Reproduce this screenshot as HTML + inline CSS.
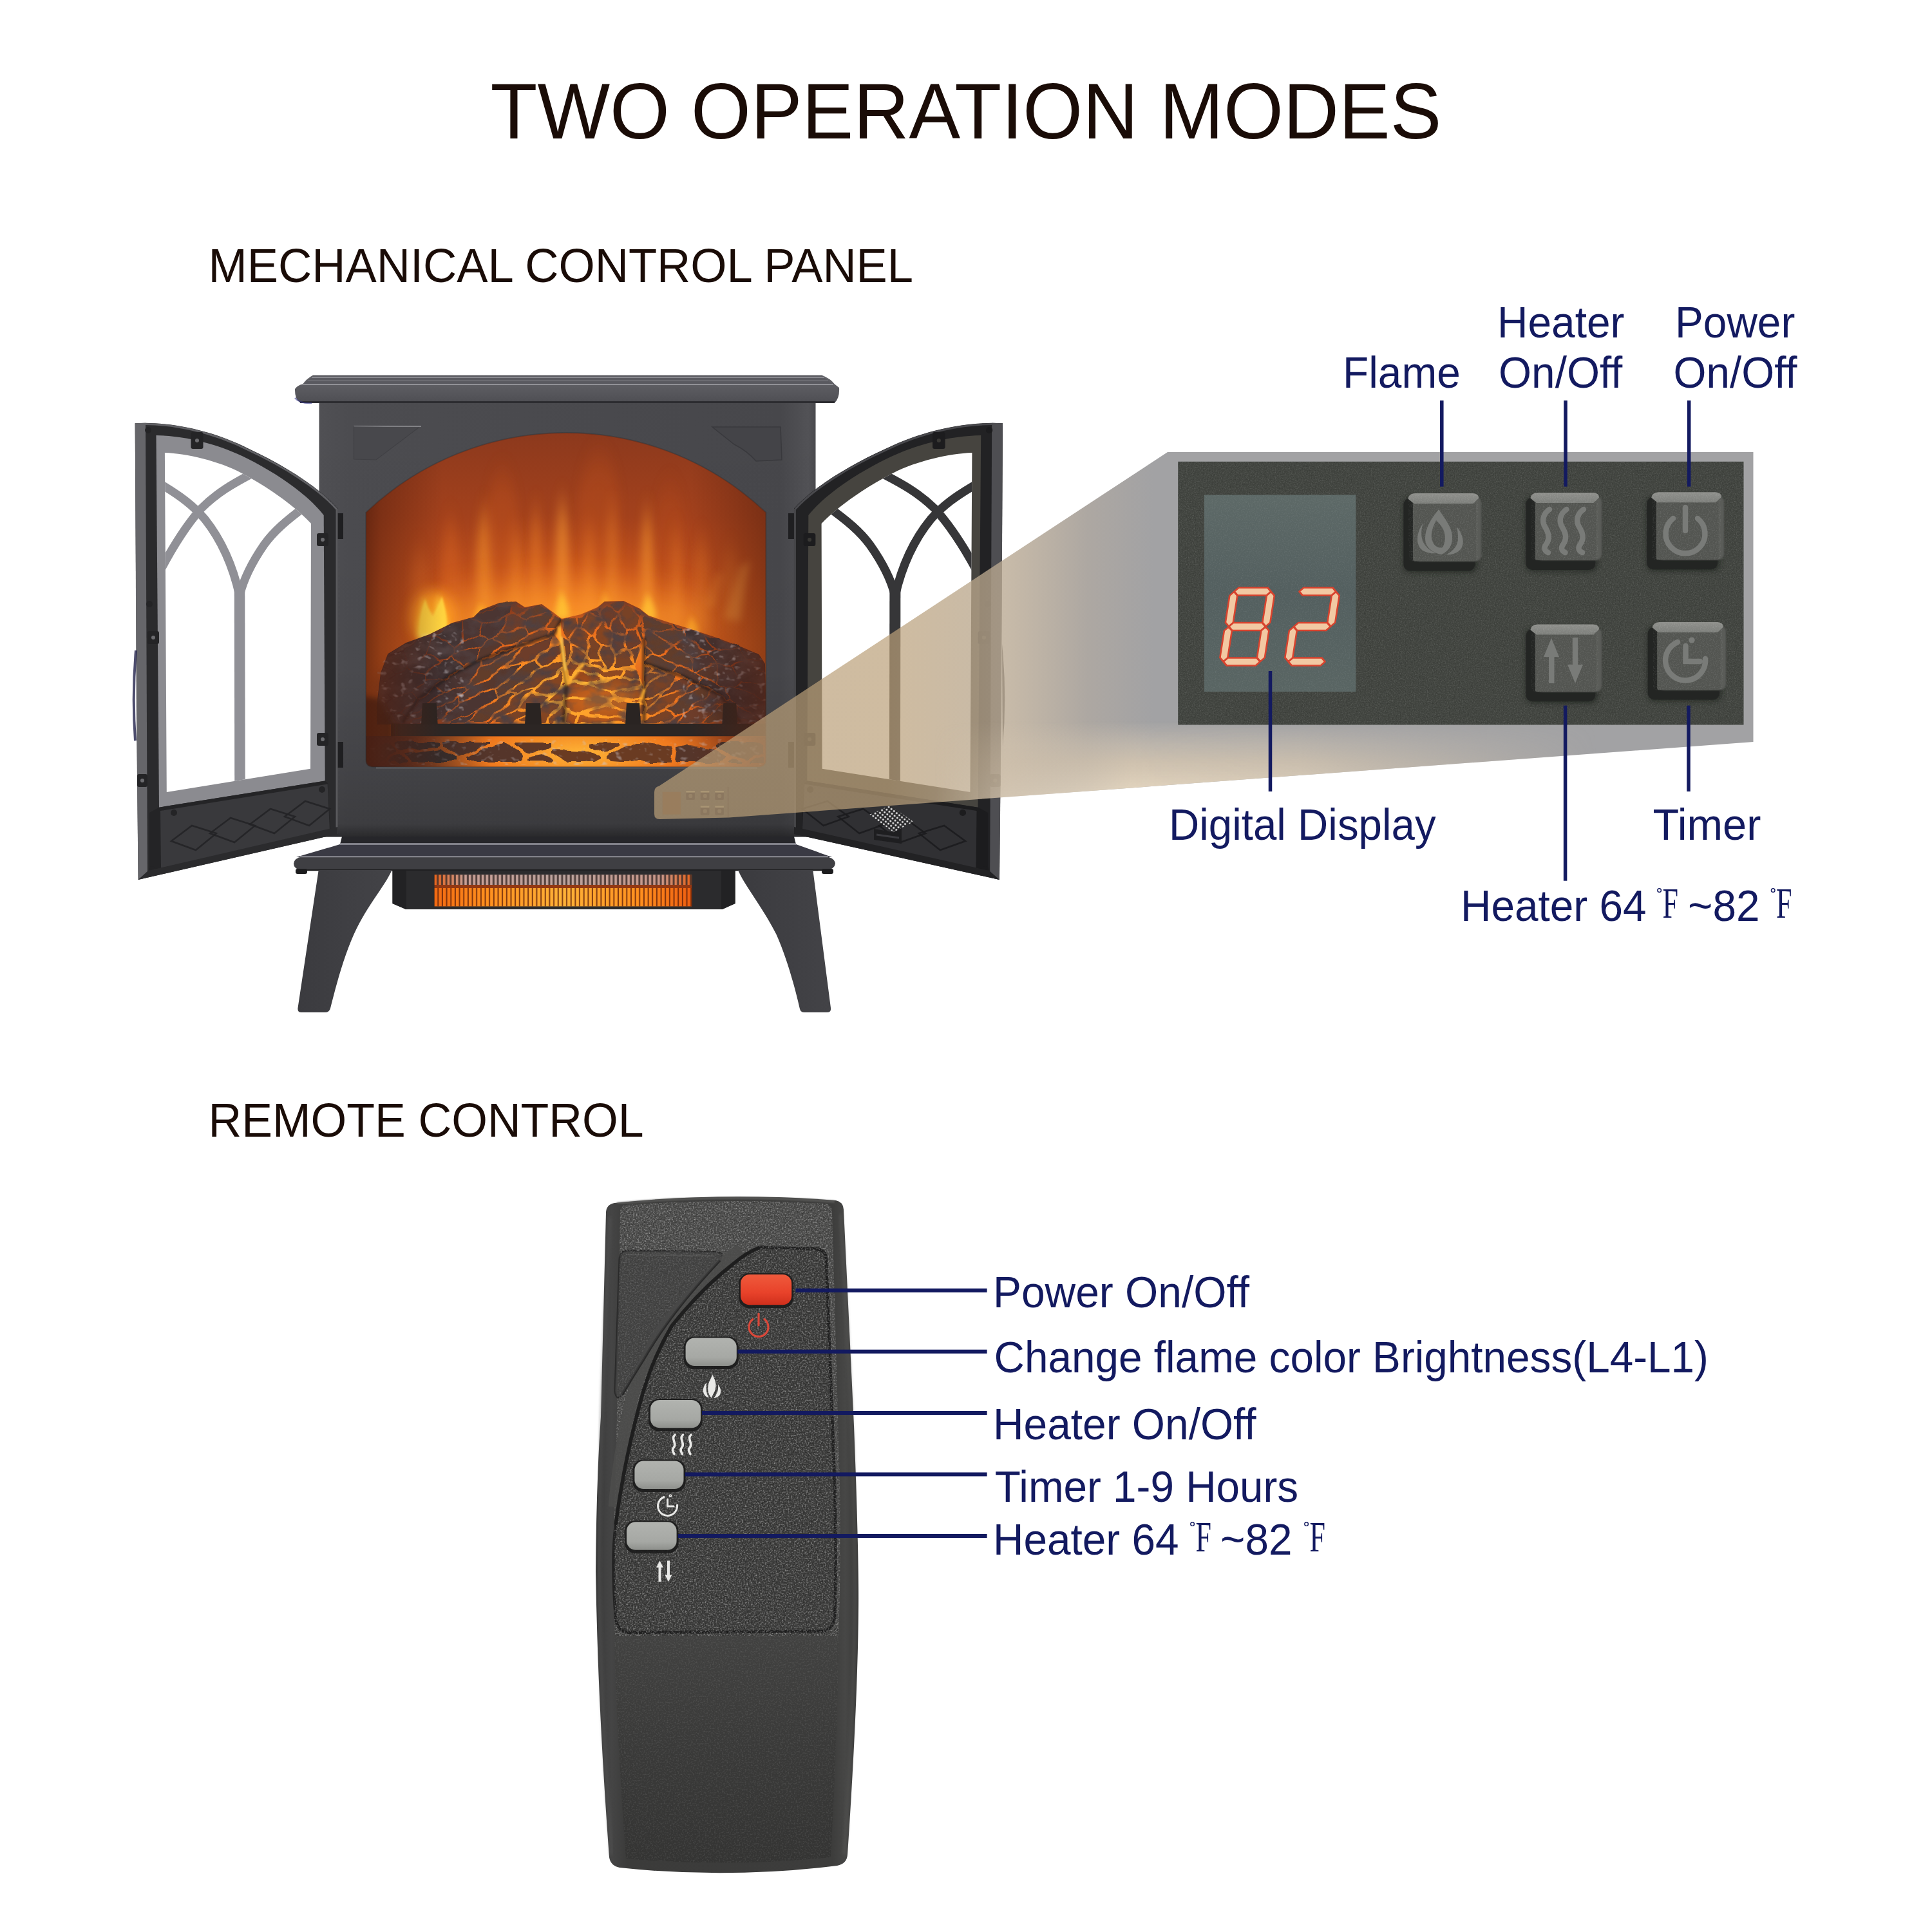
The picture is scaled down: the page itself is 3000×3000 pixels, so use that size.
<!DOCTYPE html>
<html><head><meta charset="utf-8"><title>Two Operation Modes</title>
<style>
html,body{margin:0;padding:0;background:#fff;overflow:hidden;width:3000px;height:3000px;}
svg{display:block;}
text{font-family:"Liberation Sans",sans-serif;}
.nv{fill:#131a60;}
.bk{fill:#1a0c07;}
.sf{font-family:"Liberation Serif",serif;}
</style></head><body>
<svg width="3000" height="3000" viewBox="0 0 3000 3000">
<defs>

<clipPath id="cWin"><path d="M568.3,795.8 A451,451 0 0 1 1189.3,795.8 L1189.3,1180 Q1189.3,1190.7 1178,1190.7 L580,1190.7 Q568.3,1190.7 568.3,1180 Z"/></clipPath>
<radialGradient id="gFire" gradientUnits="userSpaceOnUse" cx="880" cy="1000" r="330" gradientTransform="translate(880,1000) scale(1,0.62) translate(-880,-1000)">
  <stop offset="0" stop-color="#fb9226"/><stop offset="0.3" stop-color="#ee7620" stop-opacity="0.95"/><stop offset="0.6" stop-color="#d25c1c" stop-opacity="0.7"/>
  <stop offset="1" stop-color="#b0481b" stop-opacity="0"/>
</radialGradient>
<linearGradient id="gFireV" gradientUnits="userSpaceOnUse" x1="0" y1="670" x2="0" y2="1000">
  <stop offset="0" stop-color="#8c391d"/><stop offset="0.4" stop-color="#a3411c"/><stop offset="0.7" stop-color="#bd4e1c"/><stop offset="1" stop-color="#d8621d"/>
</linearGradient>
<linearGradient id="gFireTop" x1="0" y1="0" x2="0" y2="1">
  <stop offset="0" stop-color="#8a391d" stop-opacity="0.9"/><stop offset="0.35" stop-color="#8a391d" stop-opacity="0"/>
</linearGradient>
<linearGradient id="gSideL" x1="0" y1="0" x2="1" y2="0">
  <stop offset="0" stop-color="#4e1c0c" stop-opacity="0.8"/><stop offset="0.05" stop-color="#5e2310" stop-opacity="0.55"/><stop offset="0.2" stop-color="#5e2310" stop-opacity="0"/>
  <stop offset="0.8" stop-color="#5e2310" stop-opacity="0"/><stop offset="1" stop-color="#5a2210" stop-opacity="0.6"/>
</linearGradient>
<linearGradient id="gBody" x1="0" y1="0" x2="1" y2="0">
  <stop offset="0" stop-color="#505054"/><stop offset="0.06" stop-color="#4c4c50"/><stop offset="0.93" stop-color="#47474b"/><stop offset="0.985" stop-color="#525256"/><stop offset="1" stop-color="#48484c"/>
</linearGradient>
<linearGradient id="gBodyV" x1="0" y1="0" x2="0" y2="1">
  <stop offset="0" stop-color="#000" stop-opacity="0"/><stop offset="0.62" stop-color="#000" stop-opacity="0.03"/>
  <stop offset="0.84" stop-color="#000" stop-opacity="0.12"/><stop offset="0.97" stop-color="#000" stop-opacity="0.2"/><stop offset="1" stop-color="#000" stop-opacity="0.45"/>
</linearGradient>
<linearGradient id="gLid" x1="0" y1="0" x2="0" y2="1">
  <stop offset="0" stop-color="#66666b"/><stop offset="0.5" stop-color="#5a5a5f"/><stop offset="1" stop-color="#4e4e53"/>
</linearGradient>
<linearGradient id="gHeat" x1="0" y1="0" x2="1" y2="0">
  <stop offset="0" stop-color="#f26a12"/><stop offset="0.2" stop-color="#ff8f1e"/><stop offset="0.5" stop-color="#ffb238"/><stop offset="0.8" stop-color="#ff8f1e"/><stop offset="1" stop-color="#ee5e10"/>
</linearGradient>
<linearGradient id="gHeat1" x1="0" y1="0" x2="1" y2="0">
  <stop offset="0" stop-color="#e8641c"/><stop offset="0.12" stop-color="#c9a096"/><stop offset="0.5" stop-color="#bca49e"/><stop offset="0.88" stop-color="#c9988a"/><stop offset="1" stop-color="#e8641c"/>
</linearGradient>
<pattern id="pFin" patternUnits="userSpaceOnUse" x="674.6" y="0" width="6.66" height="10"><rect x="4.6" y="0" width="2.06" height="10" fill="#5a1c08" opacity="0.75"/></pattern>
<pattern id="pFin1" patternUnits="userSpaceOnUse" x="674.6" y="0" width="6.66" height="10"><rect x="3.6" y="0" width="3.06" height="10" fill="#3a2a28" opacity="0.8"/></pattern>
<linearGradient id="gLeg" x1="0" y1="0" x2="1" y2="0"><stop offset="0" stop-color="#3b3b3f"/><stop offset="1" stop-color="#434347"/></linearGradient>
<filter id="bl6" x="-50%" y="-50%" width="200%" height="200%"><feGaussianBlur stdDeviation="6"/></filter>
<filter id="bl10" x="-50%" y="-50%" width="200%" height="200%"><feGaussianBlur stdDeviation="10"/></filter>
<filter id="bl16" x="-50%" y="-80%" width="200%" height="260%"><feGaussianBlur stdDeviation="16 26"/></filter>
<filter id="blv" x="-150%" y="-50%" width="400%" height="200%"><feGaussianBlur stdDeviation="7 22"/></filter>
<filter id="bl4" x="-50%" y="-50%" width="200%" height="200%"><feGaussianBlur stdDeviation="4"/></filter>
<filter id="bl15"><feGaussianBlur stdDeviation="1.5"/></filter>
<filter id="rough" x="-5%" y="-5%" width="110%" height="110%">
<feTurbulence type="fractalNoise" baseFrequency="0.045" numOctaves="2" seed="4" result="t"/>
<feDisplacementMap in="SourceGraphic" in2="t" scale="11" xChannelSelector="R" yChannelSelector="G" result="d"/>
<feGaussianBlur in="d" stdDeviation="0.7"/></filter>
<filter id="blot" x="0" y="0" width="100%" height="100%">
<feTurbulence type="fractalNoise" baseFrequency="0.035 0.05" numOctaves="3" seed="8" result="n"/>
<feColorMatrix in="n" type="matrix" values="0 0 0 0 0.08  0 0 0 0 0.05  0 0 0 0 0.05  0 0 0 2.6 -1.05" result="w"/>
<feComposite in="w" in2="SourceGraphic" operator="in"/></filter>
<filter id="ashf" x="0" y="0" width="100%" height="100%">
<feTurbulence type="fractalNoise" baseFrequency="0.09 0.12" numOctaves="2" seed="21" result="n"/>
<feColorMatrix in="n" type="matrix" values="0 0 0 0 0.62  0 0 0 0 0.58  0 0 0 0 0.62  0 0 0 3.2 -1.9" result="w"/>
<feComposite in="w" in2="SourceGraphic" operator="in"/></filter><radialGradient id="gUnder" gradientUnits="userSpaceOnUse" cx="905" cy="1075" r="300" gradientTransform="translate(905,1075) scale(1,0.6) translate(-905,-1075)">
<stop offset="0" stop-color="#ffc23c"/><stop offset="0.3" stop-color="#ff9a26"/><stop offset="0.55" stop-color="#e86a1c"/><stop offset="0.8" stop-color="#8a3c1e"/><stop offset="1" stop-color="#3a2a2c"/></radialGradient>
<radialGradient id="gUnder2" gradientUnits="userSpaceOnUse" cx="900" cy="1170" r="330" gradientTransform="translate(900,1170) scale(1,0.3) translate(-900,-1170)">
<stop offset="0" stop-color="#ffb436"/><stop offset="0.45" stop-color="#f07a1e"/><stop offset="0.8" stop-color="#9a421c"/><stop offset="1" stop-color="#3a2826"/></radialGradient><linearGradient id="gEmL" gradientUnits="userSpaceOnUse" x1="568" y1="0" x2="760" y2="0"><stop offset="0" stop-color="#2a2022" stop-opacity="0.85"/><stop offset="0.55" stop-color="#2a2022" stop-opacity="0.45"/><stop offset="1" stop-color="#2a2022" stop-opacity="0"/></linearGradient><pattern id="pDot" patternUnits="userSpaceOnUse" width="5.2" height="5.2" patternTransform="rotate(38)"><rect width="5.2" height="5.2" fill="#2a2a2c"/><circle cx="2.6" cy="2.6" r="1.55" fill="#e8e8e8"/></pattern>
<filter id="spk" x="0" y="0" width="100%" height="100%" filterUnits="objectBoundingBox">
  <feTurbulence type="fractalNoise" baseFrequency="0.55" numOctaves="2" seed="3" result="n"/>
  <feColorMatrix in="n" type="matrix" values="0 0 0 0 1  0 0 0 0 1  0 0 0 0 1  1.6 0 0 0 -0.72" result="w"/>
  <feComposite in="w" in2="SourceGraphic" operator="in"/>
</filter>
<filter id="spkd" x="0" y="0" width="100%" height="100%" filterUnits="objectBoundingBox">
  <feTurbulence type="fractalNoise" baseFrequency="0.5" numOctaves="2" seed="11" result="n"/>
  <feColorMatrix in="n" type="matrix" values="0 0 0 0 0  0 0 0 0 0  0 0 0 0 0  0 1.6 0 0 -0.72" result="w"/>
  <feComposite in="w" in2="SourceGraphic" operator="in"/>
</filter>
<linearGradient id="beamH" gradientUnits="userSpaceOnUse" x1="1380" y1="0" x2="1790" y2="0">
  <stop offset="0" stop-color="#ba9f78" stop-opacity="0.70"/>
  <stop offset="0.45" stop-color="#b9a993" stop-opacity="0.8"/><stop offset="0.75" stop-color="#a9a39d" stop-opacity="0.95"/>
  <stop offset="1" stop-color="#a2a2a4" stop-opacity="1"/>
</linearGradient>
<linearGradient id="beamV" gradientUnits="userSpaceOnUse" x1="0" y1="1120" x2="0" y2="1235">
  <stop offset="0" stop-color="#e2d3bc" stop-opacity="0"/>
  <stop offset="0.55" stop-color="#dccbb2" stop-opacity="0.75"/>
  <stop offset="1" stop-color="#e6d8c2" stop-opacity="1"/>
</linearGradient>
<linearGradient id="beamVm" gradientUnits="userSpaceOnUse" x1="1450" y1="0" x2="2480" y2="0">
  <stop offset="0" stop-color="#fff" stop-opacity="0"/>
  <stop offset="0.3" stop-color="#fff" stop-opacity="1"/>
  <stop offset="0.55" stop-color="#fff" stop-opacity="0.9"/>
  <stop offset="1" stop-color="#fff" stop-opacity="0"/>
</linearGradient>
<mask id="mBV"><rect x="1000" y="600" width="1800" height="800" fill="url(#beamVm)"/></mask>
<linearGradient id="dispG" x1="0" y1="0" x2="0" y2="1">
  <stop offset="0" stop-color="#5d6967"/><stop offset="0.5" stop-color="#535f5f"/><stop offset="1" stop-color="#596563"/>
</linearGradient>
<linearGradient id="btnTop" x1="0" y1="0" x2="0" y2="1">
  <stop offset="0" stop-color="#8f908c"/><stop offset="1" stop-color="#7d7f7b"/>
</linearGradient>
<filter id="b2"><feGaussianBlur stdDeviation="2"/></filter>
<filter id="b3"><feGaussianBlur stdDeviation="3.5"/></filter>
<filter id="b1"><feGaussianBlur stdDeviation="1"/></filter>

<linearGradient id="rmBody" x1="0" y1="0" x2="1" y2="0">
  <stop offset="0" stop-color="#3a3a3a"/><stop offset="0.06" stop-color="#454545"/><stop offset="0.12" stop-color="#3b3b3a"/>
  <stop offset="0.5" stop-color="#3c3c3b"/><stop offset="0.9" stop-color="#3d3d3c"/><stop offset="0.95" stop-color="#474746"/><stop offset="1" stop-color="#3a3a39"/>
</linearGradient>
<linearGradient id="rmLow" x1="0" y1="0" x2="0" y2="1">
  <stop offset="0" stop-color="#424241"/><stop offset="0.5" stop-color="#3a3a39"/><stop offset="1" stop-color="#343433"/>
</linearGradient>
<linearGradient id="redB" x1="0" y1="0" x2="0" y2="1">
  <stop offset="0" stop-color="#ef5a3c"/><stop offset="0.6" stop-color="#e8422a"/><stop offset="1" stop-color="#cf2f1c"/>
</linearGradient>
<linearGradient id="gryB" x1="0" y1="0" x2="0" y2="1">
  <stop offset="0" stop-color="#b1b3af"/><stop offset="0.7" stop-color="#a6a8a4"/><stop offset="1" stop-color="#8e908c"/>
</linearGradient>
<filter id="spkR" x="0" y="0" width="100%" height="100%">
  <feTurbulence type="fractalNoise" baseFrequency="0.42" numOctaves="2" seed="5" result="n"/>
  <feColorMatrix in="n" type="matrix" values="0 0 0 0 1  0 0 0 0 1  0 0 0 0 1  2.4 0 0 0 -1.12" result="w"/>
  <feComposite in="w" in2="SourceGraphic" operator="in"/>
</filter>
<filter id="spkRd" x="0" y="0" width="100%" height="100%">
  <feTurbulence type="fractalNoise" baseFrequency="0.42" numOctaves="2" seed="9" result="n"/>
  <feColorMatrix in="n" type="matrix" values="0 0 0 0 0  0 0 0 0 0  0 0 0 0 0  0 2.4 0 0 -1.12" result="w"/>
  <feComposite in="w" in2="SourceGraphic" operator="in"/>
</filter>

</defs>
<rect width="3000" height="3000" fill="#ffffff"/>
<rect x="495.5" y="622" width="771" height="677.5" fill="url(#gBody)"/>
<rect x="495.5" y="622" width="771" height="677.5" fill="url(#gBodyV)"/>
<path d="M549.5,661.7 L654,662" stroke="#a8a8ac" stroke-width="1.6" opacity="0.8"/>
<path d="M549.5,662 L549.5,713 L584,714 L650,664" fill="#48484c" stroke="#3e3e42" stroke-width="1.2" opacity="0.8"/>
<path d="M1106,663 L1212,663 L1214,714 L1174,716 Q1160,700 1140,690 Z" fill="#444448" stroke="#38383c" stroke-width="1.5" opacity="0.9"/>
<path d="M486,582.5 L1276,582.5 Q1290,588 1296,596.5 L1303,602 Q1304,618 1296,625.5 L466,625 Q457.5,620 458,604 Q462,598 470,596.5 Q476,588 486,582.5 Z" fill="url(#gLid)"/>
<path d="M486,583.5 L1277,583.5 L1292,596 L472,596 Z" fill="#5a5a60"/>
<path d="M484,586 L1280,586" stroke="#8d8d94" stroke-width="1.8" opacity="0.9"/>
<path d="M478,591 L1286,591" stroke="#77777e" stroke-width="1.6" opacity="0.8"/>
<path d="M470,597 L1294,597" stroke="#9a9aa0" stroke-width="1.8" opacity="0.85"/>
<path d="M466,624.5 L1296,624.5" stroke="#2c2c30" stroke-width="3"/>
<path d="M458,618 Q466,627 484,626" stroke="#3a3a8a" stroke-width="2.2" fill="none" opacity="0.6"/>
<g clip-path="url(#cWin)">
<rect x="560" y="660" width="640" height="540" fill="url(#gFireV)"/>
<rect x="560" y="660" width="640" height="540" fill="url(#gFire)"/>
<ellipse cx="650" cy="930" rx="16" ry="70" fill="#e8742a" opacity="0.35" filter="url(#blv)"/>
<ellipse cx="700" cy="900" rx="14" ry="90" fill="#e06a24" opacity="0.35" filter="url(#blv)"/>
<ellipse cx="752" cy="890" rx="12" ry="95" fill="#f8962e" opacity="0.55" filter="url(#blv)"/>
<ellipse cx="800" cy="905" rx="10" ry="80" fill="#f48c2a" opacity="0.4" filter="url(#blv)"/>
<ellipse cx="832" cy="890" rx="9" ry="100" fill="#f08428" opacity="0.45" filter="url(#blv)"/>
<ellipse cx="873" cy="880" rx="10" ry="100" fill="#ffa234" opacity="0.55" filter="url(#blv)"/>
<ellipse cx="915" cy="900" rx="10" ry="80" fill="#f88e2a" opacity="0.4" filter="url(#blv)"/>
<ellipse cx="950" cy="885" rx="9" ry="95" fill="#f8962e" opacity="0.4" filter="url(#blv)"/>
<ellipse cx="1005" cy="890" rx="10" ry="95" fill="#ffa032" opacity="0.5" filter="url(#blv)"/>
<ellipse cx="1050" cy="905" rx="10" ry="80" fill="#f0842a" opacity="0.4" filter="url(#blv)"/>
<ellipse cx="1090" cy="915" rx="12" ry="75" fill="#e87a28" opacity="0.35" filter="url(#blv)"/>
<ellipse cx="1135" cy="920" rx="14" ry="60" fill="#e07a2c" opacity="0.35" filter="url(#blv)"/>
<ellipse cx="780" cy="820" rx="26" ry="80" fill="#c4541c" opacity="0.35" filter="url(#blv)"/>
<ellipse cx="930" cy="800" rx="34" ry="90" fill="#c4541c" opacity="0.3" filter="url(#blv)"/>
<ellipse cx="1040" cy="830" rx="24" ry="70" fill="#bc501c" opacity="0.3" filter="url(#blv)"/>
<path d="M1125,960 L1150,880 L1165,870 L1150,965 Z" fill="#f0963a" opacity="0.55" filter="url(#bl6)"/>
<path d="M1095,940 L1112,890 L1122,892 L1110,945 Z" fill="#e88830" opacity="0.4" filter="url(#bl6)"/>
<ellipse cx="880" cy="965" rx="230" ry="50" fill="#ffa22e" opacity="0.55" filter="url(#bl16)"/>
<ellipse cx="672" cy="960" rx="34" ry="42" fill="#ff9c20" opacity="0.95" filter="url(#bl10)"/>
<path d="M648.0,990 C646.0,960.3 656.4,950.4 657.6,924 C663.6,950.4 674.0,960.3 672.0,990 Z" fill="#ffd23a" opacity="0.95" filter="url(#bl4)"/>
<path d="M670.5,990 C668.5,958.5 679.25,948.0 680.5,920 C686.75,948.0 697.5,958.5 695.5,990 Z" fill="#ffd23a" opacity="0.95" filter="url(#bl4)"/>
<path d="M652.0,995 C650.0,975.2 666.0,968.6 668.0,951 C678.0,968.6 694.0,975.2 692.0,995 Z" fill="#ffe264" opacity="0.95" filter="url(#bl4)"/>
<path d="M652,984 C650,960 656,946 660,930 C664,944 668,950 672,958 C676,948 682,938 686,926 C692,946 696,964 692,984 Z" fill="#ffd540" opacity="0.9" filter="url(#bl15)"/>
<path d="M863.0,960 C861.0,939.3 870.0,932.4 871.0,914 C876.0,932.4 885.0,939.3 883.0,960 Z" fill="#ffc030" opacity="0.95" filter="url(#bl4)"/>
<path d="M996.0,962 C994.0,942.2 1003.7,935.6 1004.8,918 C1010.3,935.6 1020.0,942.2 1018.0,962 Z" fill="#ffbe30" opacity="0.9" filter="url(#bl4)"/>
<path d="M736.0,965 C734.0,951.5 744.4,947.0 745.6,935 C751.6,947.0 762.0,951.5 760.0,965 Z" fill="#ffb028" opacity="0.8" filter="url(#bl4)"/>
<path d="M1066.0,985 C1064.0,971.5 1072.3,967.0 1073.2,955 C1077.7,967.0 1086.0,971.5 1084.0,985 Z" fill="#ffae28" opacity="0.7" filter="url(#bl4)"/>
<path d="M933.0,955 C931.0,937.0 937.9,931.0 938.6,915 C942.1,931.0 949.0,937.0 947.0,955 Z" fill="#ffb22c" opacity="0.7" filter="url(#bl4)"/>
<path d="M586,1095 L592,1045 L603,1016 L631,999 L667,986 L703,968 L736,959 L747,948 L776,937 L801,935 L815,944 L841,939 L859,952 L872,962 L860,985 L800,1005 L745,1025 L700,1048 L650,1085 L625,1124 L586,1124Z M625,1124 L650,1085 L700,1048 L745,1025 L800,1005 L860,985 L872,1000 L880,1060 L875,1124Z M872,962 L902,955 L928,944 L939,935 L968,934 L993,946 L1000,990 L985,1035 L940,1040 L905,1030 L880,1060 L872,1000Z M880,1060 L905,1030 L940,1040 L985,1035 L1000,1070 L1000,1124 L875,1124Z M993,946 L1007,957 L1040,968 L1076,979 L1112,991 L1152,1006 L1178,1017 L1187,1031 L1189,1124 L1150,1124 L1120,1080 L1060,1050 L1000,1030 L1000,990Z M1000,1030 L1060,1050 L1120,1080 L1150,1124 L1000,1124 L1000,1070Z" fill="url(#gUnder)" stroke="url(#gUnder)" stroke-width="2"/>
<g filter="url(#rough)">
<path d="M616,1046 L616,1046 L616,1046 L616,1046 L616,1046 L616,1046 L616,1046 L616,1046 L616,1046 L616,1046 L616,1046 L630,1041 L630,1041 L630,1041 L630,1041 L630,1041 L630,1041 L630,1041 L630,1041 L635,1032 L635,1031 L635,1031 L635,1031 L635,1031 L635,1031 L635,1031 L635,1031 L635,1031 L635,1031 L635,1031 L625,1012 L625,1012 L625,1011 L625,1011 L625,1011 L625,1011 L625,1011 L625,1011 L625,1011 L625,1011 L625,1011 L624,1011 L624,1011 L624,1011 L624,1011 L614,1014 L614,1014 L614,1014 L614,1014 L602,1021 L602,1021 L602,1021 L602,1021 L602,1021 L602,1021 L602,1021 L602,1021 L598,1032 L598,1032 L598,1032 L598,1032 L598,1033 L598,1033 L598,1033 L598,1033 L598,1033 L598,1033 L598,1033 L598,1033 L598,1033 L598,1033ZM626,1010 L626,1010 L626,1010 L626,1010 L626,1010 L626,1010 L626,1010 L626,1010 L626,1010 L626,1010 L626,1010 L626,1011 L626,1011 L626,1011 L626,1011 L626,1011 L636,1030 L636,1030 L636,1030 L636,1030 L636,1030 L637,1030 L637,1030 L637,1030 L637,1030 L637,1030 L637,1030 L637,1030 L637,1030 L637,1030 L637,1030 L637,1030 L637,1030 L637,1030 L660,1014 L661,1014 L661,1014 L661,1014 L661,1014 L661,1014 L661,1014 L671,990 L671,990 L671,990 L671,990 L671,990 L671,990 L671,990 L671,990 L671,990 L671,990 L671,990 L671,990 L671,989 L671,989 L671,989 L671,989 L671,989 L670,989 L670,989 L670,989 L670,989 L670,989 L657,990 L657,990 L657,990 L657,990 L657,990 L657,990 L657,990ZM716,966 L716,966 L716,966 L716,966 L716,966 L716,966 L716,966 L716,966 L716,966 L716,966 L716,966 L715,966 L715,966 L715,966 L715,966 L715,966 L715,966 L715,966 L715,966 L703,969 L703,969 L703,969 L701,970 L701,970 L701,970 L677,987 L677,987 L677,987 L677,987 L677,987 L677,987 L677,987 L677,987 L677,988 L677,988 L677,988 L677,988 L677,988 L677,988 L677,988 L677,988 L677,988 L677,988 L677,988 L677,988 L677,988 L677,988 L705,1004 L705,1004 L705,1004 L705,1004 L705,1004 L706,1004 L706,1004 L706,1004 L706,1004 L706,1004 L706,1004 L706,1004 L717,996 L717,996 L717,996 L717,996 L717,996 L717,995 L717,995 L717,995 L717,995 L717,995 L717,995ZM596,1072 L596,1072 L597,1072 L597,1072 L597,1072 L597,1072 L597,1072 L597,1072 L597,1072 L597,1072 L597,1072 L598,1062 L598,1062 L598,1062 L598,1061 L598,1061 L598,1061 L598,1061 L598,1061 L598,1061 L598,1061 L598,1061 L598,1061 L598,1061 L598,1061 L598,1061 L598,1061 L598,1061 L598,1061 L598,1061 L591,1061 L591,1061 L591,1061 L591,1061 L591,1061 L591,1061 L591,1061 L591,1061 L591,1062 L591,1062 L591,1062 L591,1062 L591,1062 L591,1062 L591,1062 L589,1075 L589,1075 L589,1075 L589,1075 L589,1075 L589,1075 L589,1075 L589,1075 L589,1075 L589,1075 L589,1075 L590,1075 L590,1075 L590,1075 L590,1075 L590,1075 L590,1076 L590,1076 L590,1076 L590,1076 L590,1075 L590,1075 L590,1075ZM599,1059 L599,1059 L599,1059 L599,1059 L599,1059 L599,1059 L599,1059 L614,1047 L614,1047 L614,1047 L614,1047 L614,1047 L614,1047 L614,1047 L614,1047 L614,1047 L614,1047 L614,1047 L614,1047 L614,1047 L614,1047 L614,1047 L614,1047 L614,1046 L614,1046 L614,1046 L614,1046 L598,1035 L598,1035 L597,1035 L597,1035 L597,1035 L597,1035 L597,1035 L597,1035 L597,1035 L597,1035 L597,1035 L597,1035 L597,1035 L597,1035 L597,1035 L597,1035 L597,1035 L597,1035 L597,1035 L597,1035 L593,1045 L593,1045 L593,1045 L591,1059 L591,1059 L591,1059 L591,1059 L591,1059 L591,1059 L591,1059 L591,1059 L591,1059 L591,1059 L591,1059 L591,1060 L591,1060 L592,1060 L592,1060 L592,1060 L592,1060 L592,1060 L592,1060ZM658,1046 L658,1046 L658,1046 L658,1046 L658,1046 L658,1046 L658,1046 L658,1046 L658,1046 L658,1046 L684,1026 L684,1026 L684,1026 L684,1026 L684,1026 L684,1026 L684,1026 L684,1026 L684,1026 L684,1026 L684,1026 L684,1026 L684,1025 L684,1025 L684,1025 L684,1025 L684,1025 L684,1025 L684,1025 L684,1025 L684,1025 L684,1025 L662,1015 L662,1015 L661,1015 L661,1015 L661,1015 L661,1015 L661,1015 L661,1015 L661,1015 L661,1015 L661,1016 L637,1032 L637,1032 L637,1032 L637,1032 L637,1032 L633,1040 L633,1040 L633,1040 L633,1040 L633,1040 L633,1040 L633,1040 L633,1040 L633,1040 L633,1040 L633,1041 L633,1041 L633,1041 L633,1041 L633,1041 L633,1041 L633,1041 L633,1041 L633,1041 L633,1041ZM704,1006 L705,1006 L705,1006 L705,1006 L705,1006 L705,1006 L704,1006 L704,1006 L704,1006 L704,1005 L704,1005 L704,1005 L704,1005 L704,1005 L704,1005 L674,989 L674,989 L674,989 L674,989 L674,989 L674,989 L674,989 L674,989 L674,989 L674,989 L673,989 L673,989 L673,989 L673,989 L673,989 L673,989 L673,989 L673,990 L673,990 L663,1013 L663,1013 L662,1013 L662,1013 L662,1013 L662,1013 L662,1013 L662,1013 L663,1013 L663,1014 L663,1014 L663,1014 L663,1014 L663,1014 L663,1014 L663,1014 L663,1014 L687,1024 L687,1024 L687,1024 L687,1024 L687,1024 L687,1024 L687,1024 L688,1024 L688,1024 L698,1019 L698,1019 L698,1019 L698,1019 L698,1019 L698,1019 L702,1015 L702,1015 L702,1015 L702,1015 L702,1015ZM589,1078 L589,1078 L589,1078 L589,1078 L589,1078 L589,1078 L589,1078 L589,1078 L589,1078 L589,1078 L589,1079 L587,1095 L587,1095 L587,1097 L587,1097 L587,1097 L587,1098 L587,1098 L587,1098 L587,1098 L587,1098 L587,1098 L587,1098 L587,1098 L587,1098 L588,1098 L588,1098 L588,1098 L588,1098 L588,1098 L588,1098 L588,1098 L588,1098 L588,1098 L597,1094 L598,1094 L598,1094 L598,1094 L598,1093 L607,1083 L607,1083 L607,1083 L608,1083 L608,1082 L608,1082 L608,1082 L608,1082 L608,1082 L608,1082 L608,1082 L608,1082 L608,1082 L607,1082 L607,1082 L607,1082 L607,1082 L607,1082 L598,1074 L598,1074 L598,1074 L598,1074 L597,1074 L597,1074 L597,1074 L597,1074 L597,1074 L597,1074 L597,1074 L597,1074ZM616,1047 L616,1048 L616,1048 L616,1048 L601,1060 L600,1060 L600,1060 L600,1060 L600,1060 L600,1060 L600,1061 L600,1061 L598,1072 L598,1072 L598,1072 L598,1072 L598,1072 L598,1072 L598,1073 L598,1073 L599,1073 L599,1073 L599,1073 L599,1073 L609,1081 L609,1081 L610,1081 L610,1081 L610,1081 L610,1081 L610,1081 L610,1081 L610,1081 L610,1081 L639,1075 L639,1075 L639,1074 L640,1074 L640,1074 L640,1074 L640,1074 L658,1054 L658,1054 L658,1054 L658,1054 L658,1054 L658,1054 L658,1054 L658,1054 L658,1054 L658,1049 L658,1048 L658,1048 L658,1048 L658,1048 L658,1048 L657,1048 L657,1048 L657,1048 L657,1048 L657,1048 L657,1048 L657,1048 L657,1048 L631,1042 L631,1042 L631,1042 L630,1042 L630,1042 L630,1042 L630,1042ZM660,1053 L660,1053 L660,1053 L660,1053 L660,1053 L660,1053 L660,1053 L660,1053 L660,1053 L660,1053 L660,1053 L660,1053 L660,1053 L660,1053 L660,1053 L660,1053 L688,1055 L688,1055 L688,1055 L688,1055 L689,1055 L689,1054 L689,1054 L695,1051 L695,1051 L699,1047 L699,1047 L700,1047 L704,1045 L704,1045 L718,1036 L718,1036 L718,1036 L718,1036 L718,1036 L718,1036 L719,1035 L719,1035 L719,1035 L719,1035 L719,1035 L719,1035 L719,1035 L719,1034 L719,1034 L719,1034 L719,1034 L719,1034 L718,1034 L718,1034 L718,1034 L718,1034 L718,1034 L699,1021 L699,1021 L699,1021 L699,1021 L699,1021 L699,1021 L699,1021 L699,1021 L699,1021 L698,1021 L698,1021 L688,1026 L688,1026 L688,1026 L660,1048 L660,1048 L660,1048 L660,1048 L660,1048 L660,1048 L659,1048 L659,1048 L659,1048 L659,1048 L659,1048ZM608,1110 L608,1110 L608,1110 L608,1110 L608,1110 L608,1110 L608,1110 L608,1110 L608,1110 L608,1110 L608,1110 L608,1110 L608,1110 L608,1110 L608,1110 L608,1110 L598,1095 L598,1095 L598,1095 L598,1095 L598,1095 L598,1095 L598,1095 L598,1095 L598,1095 L598,1095 L598,1095 L598,1095 L598,1095 L598,1095 L598,1095 L587,1100 L587,1100 L587,1100 L587,1100 L587,1100 L587,1101 L587,1101 L587,1101 L587,1101 L587,1101 L587,1101 L587,1101 L587,1101 L587,1123 L587,1123 L587,1123 L587,1123 L587,1123 L587,1123 L587,1123 L587,1123 L587,1123 L587,1123 L587,1123 L587,1123 L587,1123 L587,1123 L587,1123 L587,1123 L587,1123 L591,1123 L591,1123 L591,1123 L591,1123 L591,1123 L591,1123 L591,1123 L591,1123ZM610,1083 L610,1083 L610,1083 L610,1083 L610,1083 L610,1083 L610,1083 L600,1094 L600,1094 L600,1094 L600,1094 L600,1094 L600,1094 L599,1094 L599,1094 L599,1095 L599,1095 L599,1095 L600,1095 L600,1095 L600,1095 L600,1095 L609,1109 L609,1109 L609,1109 L610,1109 L610,1109 L610,1109 L610,1109 L610,1109 L610,1109 L610,1109 L610,1109 L610,1109 L610,1109 L624,1105 L624,1105 L624,1105 L624,1105 L624,1105 L624,1105 L645,1086 L645,1086 L645,1086 L645,1086 L645,1086 L645,1086 L645,1086 L645,1085 L645,1085 L645,1085 L645,1085 L645,1085 L645,1085 L645,1085 L645,1085 L640,1077 L640,1077 L640,1076 L640,1076 L640,1076 L640,1076 L640,1076 L639,1076 L639,1076 L639,1076 L639,1076 L639,1076 L639,1076 L639,1076ZM624,1107 L624,1107 L624,1107 L624,1107 L624,1107 L624,1107 L624,1107 L624,1107 L624,1107 L624,1107 L624,1107 L624,1107 L610,1111 L610,1111 L610,1111 L610,1111 L610,1111 L595,1122 L595,1122 L595,1122 L595,1122 L595,1122 L595,1122 L595,1123 L595,1123 L595,1123 L595,1123 L595,1123 L595,1123 L595,1123 L595,1123 L595,1123 L595,1123 L595,1123 L595,1123 L595,1123 L595,1123 L595,1123 L595,1123 L595,1123 L595,1123 L595,1123 L595,1123 L624,1123 L624,1123 L624,1123 L624,1123 L625,1123 L625,1123 L625,1123 L625,1123 L625,1123 L625,1123 L625,1123 L630,1114 L630,1114 L630,1114 L630,1114 L630,1114 L630,1114 L630,1114 L630,1114 L630,1114 L630,1114 L630,1114 L630,1114 L630,1114 L630,1114ZM646,1086 L646,1086 L646,1086 L646,1086 L646,1086 L646,1086 L646,1086 L646,1086 L646,1086 L646,1086 L626,1106 L626,1106 L626,1106 L626,1106 L626,1106 L626,1106 L626,1106 L626,1106 L626,1106 L626,1106 L626,1106 L626,1106 L626,1106 L626,1106 L626,1106 L626,1106 L626,1106 L631,1112 L631,1112 L631,1112 L631,1112 L631,1112 L631,1112 L631,1112 L631,1112 L631,1112 L631,1112 L631,1112 L631,1112 L632,1112 L632,1112 L632,1112 L632,1112 L632,1112 L632,1112 L632,1112 L632,1112 L648,1087 L648,1087 L648,1087 L648,1087 L648,1087 L648,1087 L648,1087 L648,1087 L648,1087 L648,1087 L648,1087 L648,1087 L648,1087 L648,1087 L648,1087 L648,1087 L648,1087 L648,1086 L648,1086 L647,1086 L647,1086 L647,1086ZM651,1086 L651,1086 L651,1086 L651,1086 L651,1086 L635,1110 L635,1110 L635,1110 L635,1110 L635,1110 L635,1111 L635,1111 L635,1111 L635,1111 L635,1111 L635,1111 L635,1111 L635,1111 L635,1111 L635,1111 L635,1111 L635,1111 L635,1111 L635,1111 L635,1111 L636,1111 L636,1111 L636,1111 L636,1111 L636,1111 L636,1111 L636,1111 L636,1111 L636,1111 L685,1076 L685,1076 L685,1076 L685,1076 L685,1076 L685,1076 L685,1076 L685,1076 L685,1075 L685,1075 L685,1075 L685,1075 L685,1075 L685,1075 L685,1075 L685,1075 L685,1075 L685,1075 L685,1075 L685,1075 L676,1068 L676,1068 L676,1068 L676,1068 L676,1068 L675,1068 L675,1068 L675,1068 L675,1068 L675,1068 L675,1068 L675,1068 L675,1068 L675,1068ZM1111,1005 L1111,1005 L1111,1005 L1111,1005 L1111,1005 L1111,1005 L1111,1005 L1111,1005 L1147,1010 L1147,1010 L1147,1010 L1147,1010 L1147,1010 L1147,1010 L1147,1010 L1147,1009 L1147,1009 L1147,1009 L1148,1009 L1148,1009 L1148,1009 L1148,1009 L1148,1009 L1149,1006 L1149,1006 L1149,1006 L1149,1006 L1149,1006 L1149,1006 L1149,1006 L1149,1006 L1149,1006 L1148,1006 L1148,1006 L1148,1005 L1148,1005 L1148,1005 L1148,1005 L1148,1005 L1112,992 L1112,992 L1095,986 L1095,986 L1095,986 L1095,986 L1095,986 L1095,986 L1095,986 L1095,986 L1095,986 L1095,986 L1095,986 L1094,986 L1094,986 L1094,986 L1094,986 L1094,986 L1094,986 L1094,987 L1094,987 L1094,987 L1094,987 L1094,987 L1094,987 L1094,987 L1094,987 L1094,987 L1094,987 L1094,987ZM1149,1010 L1149,1010 L1149,1010 L1149,1010 L1149,1010 L1149,1010 L1149,1010 L1149,1010 L1149,1010 L1149,1010 L1149,1011 L1159,1023 L1159,1023 L1159,1023 L1159,1023 L1159,1023 L1159,1023 L1159,1023 L1159,1023 L1160,1023 L1181,1024 L1181,1024 L1181,1024 L1181,1024 L1181,1024 L1181,1024 L1181,1024 L1181,1024 L1181,1024 L1181,1024 L1181,1024 L1181,1024 L1181,1024 L1181,1024 L1181,1024 L1181,1024 L1181,1024 L1181,1023 L1181,1023 L1181,1023 L1181,1023 L1181,1023 L1181,1023 L1178,1018 L1178,1018 L1178,1018 L1178,1018 L1177,1018 L1177,1018 L1177,1017 L1152,1007 L1152,1007 L1151,1006 L1151,1006 L1151,1006 L1150,1006 L1150,1006 L1150,1006 L1150,1006 L1150,1006 L1150,1006 L1150,1006 L1150,1006 L1150,1006 L1150,1006 L1150,1006 L1150,1006 L1150,1007 L1150,1007 L1150,1007ZM1064,979 L1064,979 L1064,979 L1064,979 L1064,979 L1064,979 L1063,979 L1063,979 L1063,980 L1063,980 L1063,980 L1063,980 L1063,980 L1063,980 L1063,980 L1063,980 L1063,980 L1063,980 L1063,990 L1063,990 L1063,990 L1063,990 L1063,991 L1063,991 L1063,991 L1063,991 L1064,991 L1064,991 L1064,991 L1064,991 L1100,1010 L1100,1010 L1100,1010 L1100,1010 L1101,1010 L1101,1010 L1101,1010 L1101,1010 L1101,1010 L1101,1010 L1101,1010 L1101,1010 L1108,1006 L1108,1006 L1108,1006 L1108,1006 L1108,1006 L1108,1006 L1108,1006 L1108,1006 L1108,1006 L1108,1005 L1108,1005 L1108,1005 L1108,1005 L1108,1005 L1108,1005 L1108,1005 L1108,1005 L1108,1005 L1108,1005 L1090,985 L1090,985 L1090,985 L1090,985 L1090,985 L1090,985 L1078,981 L1078,981 L1077,981ZM1157,1025 L1158,1024 L1158,1024 L1158,1024 L1158,1024 L1158,1024 L1158,1024 L1158,1024 L1158,1024 L1158,1024 L1158,1024 L1158,1024 L1158,1024 L1158,1024 L1158,1024 L1158,1024 L1158,1024 L1158,1024 L1158,1023 L1158,1023 L1148,1011 L1148,1011 L1148,1011 L1148,1011 L1148,1011 L1147,1011 L1147,1011 L1147,1011 L1147,1011 L1111,1007 L1111,1007 L1111,1007 L1111,1007 L1111,1007 L1110,1007 L1110,1007 L1110,1007 L1102,1012 L1102,1012 L1102,1012 L1102,1012 L1102,1012 L1102,1012 L1102,1012 L1102,1013 L1102,1013 L1102,1013 L1101,1017 L1101,1017 L1101,1017 L1101,1017 L1101,1017 L1101,1017 L1101,1017 L1101,1017 L1101,1017 L1101,1017 L1101,1017 L1117,1029 L1117,1029 L1117,1029 L1117,1029 L1135,1035 L1135,1035 L1135,1035 L1135,1035 L1135,1035 L1135,1035 L1135,1035 L1135,1035 L1135,1035ZM1162,1025 L1162,1025 L1162,1025 L1162,1025 L1162,1025 L1162,1025 L1162,1025 L1162,1025 L1162,1025 L1162,1025 L1162,1025 L1162,1025 L1162,1025 L1162,1025 L1162,1025 L1162,1025 L1162,1025 L1162,1025 L1162,1025 L1162,1025 L1162,1025 L1162,1025 L1162,1026 L1162,1026 L1162,1026 L1162,1026 L1162,1026 L1185,1044 L1185,1044 L1186,1044 L1186,1044 L1186,1044 L1186,1044 L1186,1044 L1186,1044 L1186,1044 L1186,1044 L1186,1044 L1186,1044 L1186,1044 L1186,1044 L1186,1044 L1186,1044 L1186,1044 L1186,1044 L1186,1044 L1186,1044 L1186,1044 L1186,1044 L1186,1044 L1186,1044 L1186,1031 L1186,1031 L1186,1031 L1186,1031 L1186,1031 L1186,1031 L1186,1031 L1183,1026 L1183,1026 L1183,1026 L1183,1026 L1183,1026 L1183,1026 L1183,1026 L1183,1026 L1182,1026 L1182,1026 L1182,1026ZM1138,1036 L1138,1036 L1138,1036 L1138,1036 L1137,1036 L1137,1036 L1137,1036 L1137,1036 L1137,1036 L1137,1036 L1137,1037 L1137,1037 L1137,1037 L1137,1037 L1137,1037 L1137,1037 L1137,1037 L1137,1037 L1137,1037 L1151,1056 L1151,1056 L1151,1056 L1151,1056 L1151,1056 L1152,1056 L1152,1056 L1152,1056 L1152,1056 L1186,1060 L1186,1060 L1186,1060 L1186,1060 L1186,1060 L1186,1060 L1186,1060 L1186,1060 L1186,1060 L1186,1060 L1186,1060 L1186,1060 L1187,1060 L1187,1060 L1187,1060 L1187,1059 L1187,1059 L1187,1059 L1186,1047 L1186,1047 L1186,1047 L1186,1047 L1186,1047 L1186,1047 L1186,1047 L1186,1047 L1186,1047 L1186,1047 L1159,1026 L1159,1026 L1159,1026 L1159,1026 L1159,1026 L1159,1026 L1159,1026 L1159,1026 L1159,1026 L1159,1026 L1159,1026 L1159,1026ZM1151,1058 L1151,1058 L1151,1058 L1151,1058 L1151,1058 L1151,1058 L1151,1058 L1151,1058 L1140,1065 L1140,1065 L1140,1065 L1140,1065 L1140,1065 L1140,1065 L1140,1065 L1140,1065 L1140,1065 L1140,1066 L1140,1066 L1140,1066 L1140,1066 L1140,1066 L1140,1066 L1140,1066 L1140,1066 L1140,1066 L1140,1066 L1140,1066 L1140,1066 L1140,1066 L1140,1066 L1187,1088 L1187,1088 L1187,1088 L1187,1088 L1187,1088 L1187,1088 L1187,1088 L1187,1088 L1187,1088 L1187,1088 L1187,1088 L1187,1088 L1187,1087 L1187,1087 L1187,1087 L1187,1087 L1187,1087 L1187,1087 L1188,1087 L1188,1087 L1188,1087 L1188,1087 L1187,1062 L1187,1062 L1187,1062 L1187,1062 L1187,1062 L1187,1062 L1187,1062 L1187,1062 L1187,1062 L1187,1062 L1187,1062 L1187,1062 L1187,1062 L1187,1062 L1187,1062 L1187,1062ZM1113,1062 L1113,1062 L1091,1055 L1091,1055 L1091,1054 L1091,1054 L1091,1054 L1091,1054 L1091,1055 L1091,1055 L1091,1055 L1091,1055 L1091,1055 L1091,1055 L1091,1055 L1085,1060 L1085,1060 L1085,1060 L1085,1060 L1085,1060 L1085,1061 L1085,1061 L1085,1061 L1085,1061 L1085,1061 L1085,1061 L1085,1061 L1085,1061 L1085,1061 L1085,1061 L1085,1061 L1085,1061 L1086,1061 L1086,1062 L1086,1062 L1120,1079 L1121,1079 L1121,1079 L1121,1079 L1121,1079 L1121,1079 L1125,1086 L1125,1086 L1125,1086 L1125,1086 L1126,1086 L1126,1086 L1126,1086 L1126,1086 L1126,1086 L1126,1086 L1126,1086 L1126,1086 L1126,1086 L1131,1085 L1131,1085 L1131,1085 L1131,1085 L1131,1085 L1131,1085 L1131,1085 L1131,1085 L1132,1085 L1132,1085 L1132,1085 L1132,1085 L1132,1085 L1132,1085 L1132,1084 L1132,1084 L1132,1084 L1132,1084 L1127,1069 L1127,1068 L1127,1068 L1127,1068 L1127,1068 L1127,1068 L1127,1068 L1127,1068 L1127,1068 L1127,1068ZM1138,1067 L1138,1067 L1138,1066 L1138,1066 L1138,1066 L1138,1066 L1138,1066 L1129,1068 L1129,1068 L1129,1068 L1129,1068 L1129,1068 L1129,1068 L1129,1068 L1129,1068 L1129,1068 L1129,1068 L1129,1068 L1129,1068 L1129,1068 L1129,1068 L1129,1068 L1129,1068 L1129,1068 L1129,1068 L1134,1085 L1134,1085 L1134,1086 L1134,1086 L1134,1086 L1134,1086 L1134,1086 L1134,1086 L1149,1096 L1149,1096 L1149,1096 L1154,1097 L1154,1097 L1154,1097 L1154,1097 L1154,1097 L1154,1097 L1187,1094 L1187,1094 L1187,1094 L1187,1094 L1187,1094 L1187,1094 L1187,1093 L1188,1093 L1188,1093 L1188,1093 L1188,1093 L1188,1093 L1188,1093 L1188,1093 L1188,1093 L1188,1093 L1188,1090 L1188,1090 L1188,1090 L1188,1090 L1188,1090 L1188,1090 L1187,1089 L1187,1089 L1187,1089 L1187,1089 L1187,1089 L1187,1089ZM1157,1098 L1157,1098 L1157,1098 L1156,1098 L1156,1098 L1156,1098 L1156,1098 L1156,1099 L1156,1099 L1156,1099 L1156,1099 L1156,1099 L1156,1099 L1156,1099 L1156,1099 L1156,1099 L1156,1099 L1156,1099 L1156,1099 L1156,1099 L1156,1099 L1156,1099 L1156,1099 L1156,1099 L1156,1099 L1182,1119 L1182,1119 L1182,1119 L1182,1119 L1182,1119 L1182,1119 L1182,1119 L1182,1119 L1182,1119 L1188,1119 L1188,1119 L1188,1119 L1188,1119 L1188,1119 L1188,1119 L1188,1119 L1188,1119 L1188,1119 L1188,1119 L1188,1119 L1188,1119 L1188,1119 L1188,1119 L1188,1119 L1188,1118 L1188,1118 L1188,1095 L1188,1095 L1188,1095 L1188,1095 L1188,1095 L1188,1095 L1188,1095 L1188,1095 L1188,1095 L1188,1095 L1188,1095 L1187,1095 L1187,1095 L1187,1095 L1187,1095 L1187,1095 L1187,1095 L1187,1095ZM1180,1121 L1180,1121 L1180,1121 L1180,1121 L1180,1121 L1180,1121 L1180,1120 L1180,1120 L1180,1120 L1180,1120 L1180,1120 L1180,1120 L1180,1120 L1153,1099 L1153,1099 L1153,1099 L1153,1099 L1150,1098 L1150,1098 L1150,1098 L1150,1098 L1150,1098 L1150,1098 L1150,1098 L1150,1098 L1149,1098 L1149,1098 L1149,1098 L1149,1098 L1149,1098 L1149,1098 L1149,1098 L1142,1110 L1142,1110 L1142,1110 L1142,1110 L1142,1110 L1142,1111 L1142,1111 L1142,1111 L1142,1111 L1142,1111 L1142,1111 L1142,1111 L1145,1115 L1145,1115 L1145,1115 L1145,1115 L1145,1115 L1145,1115 L1145,1115 L1163,1123 L1163,1123 L1163,1123 L1163,1123 L1163,1123 L1179,1123 L1179,1123 L1179,1123 L1179,1123 L1179,1123 L1179,1123 L1179,1123 L1179,1123 L1179,1123 L1180,1123 L1180,1123 L1180,1123 L1180,1122 L1180,1122Z" fill="#403233"/>
<path d="M614,1012 L614,1012 L614,1012 L614,1012 L614,1012 L614,1012 L614,1012 L614,1012 L614,1012 L614,1012 L614,1012 L614,1012 L614,1012 L614,1012 L614,1012 L625,1009 L625,1009 L625,1009 L625,1009 L645,996 L645,996 L645,996 L645,996 L645,996 L645,996 L645,996 L645,996 L645,996 L645,996 L645,996 L645,996 L645,996 L645,996 L645,995 L645,995 L645,995 L645,995 L645,995 L645,995 L645,995 L645,995 L645,995 L645,995 L645,995 L645,995 L645,995 L645,995 L645,995 L645,995 L644,995 L631,1000 L631,1000 L631,1000 L614,1010 L614,1011 L614,1011 L614,1011 L614,1011 L613,1011 L613,1011 L613,1011 L613,1011 L613,1011 L613,1011 L613,1011 L613,1011 L613,1011 L613,1011 L613,1011ZM667,987 L667,987 L667,987 L667,987 L667,987 L667,987 L667,987 L667,987 L667,987 L667,987 L667,987 L667,987 L667,987 L667,987 L667,988 L667,988 L667,988 L667,988 L667,988 L667,988 L667,988 L667,988 L667,988 L667,988 L667,988 L667,988 L667,988 L668,988 L668,988 L668,988 L672,988 L672,988 L672,988 L672,988 L674,987 L674,987 L674,987 L674,987 L683,980 L683,980 L683,980 L684,980 L684,980 L684,980 L684,980 L684,980 L684,980 L684,980 L684,980 L684,980 L684,980 L684,979 L684,979 L684,979 L684,979 L683,979 L683,979 L683,979 L683,979 L683,979 L683,979 L683,979 L683,979 L683,979 L683,979 L683,979 L683,979 L683,979 L683,979 L667,987ZM771,943 L771,943 L771,943 L771,943 L771,943 L771,943 L771,943 L771,943 L771,943 L771,943 L771,943 L771,942 L771,942 L771,942 L771,942 L771,942 L771,942 L771,942 L771,942 L771,942 L770,941 L770,941 L770,941 L770,941 L770,941 L770,941 L770,941 L770,941 L770,941 L770,941 L770,941 L769,941 L769,941 L769,941 L748,949 L748,949 L748,949 L748,949 L747,949 L746,950 L746,950 L746,950 L746,950 L746,950 L746,951 L746,951 L746,951 L746,951 L746,951 L746,951 L746,951 L746,951 L746,951 L746,951 L746,951 L746,951 L746,951 L746,951 L746,952 L746,952 L747,952 L747,952 L747,952 L747,952 L747,952 L747,952 L747,952 L747,952ZM719,965 L719,965 L719,965 L719,965 L718,965 L718,965 L718,965 L718,965 L718,965 L718,965 L718,966 L718,966 L718,966 L718,966 L718,966 L719,993 L719,993 L719,993 L719,993 L719,993 L720,993 L720,993 L720,993 L720,993 L720,994 L720,994 L720,994 L720,994 L720,994 L720,994 L720,994 L720,994 L720,994 L721,994 L721,994 L721,994 L742,985 L742,985 L742,985 L742,985 L742,985 L742,984 L742,984 L742,984 L742,984 L742,984 L747,971 L747,971 L747,971 L747,971 L747,971 L747,971 L747,970 L747,970 L747,970 L747,970 L747,970 L747,970 L747,970 L746,970 L746,970 L746,970 L729,962 L729,962 L729,962 L729,962 L729,962 L729,962 L728,962 L728,962ZM748,968 L748,968 L749,968 L749,968 L749,968 L749,968 L749,968 L749,968 L789,955 L789,955 L789,955 L789,955 L793,953 L793,953 L793,953 L793,953 L793,953 L793,952 L793,952 L793,952 L793,952 L794,946 L794,946 L794,946 L794,945 L794,945 L794,945 L794,945 L794,945 L794,945 L794,945 L794,945 L794,945 L794,945 L794,945 L794,945 L794,945 L794,945 L794,945 L774,944 L774,944 L774,944 L773,944 L773,944 L740,956 L740,956 L740,956 L740,956 L740,956 L737,960 L737,960 L737,960 L736,960 L736,960 L736,960 L734,961 L734,961 L734,961 L734,961 L734,961 L734,961 L734,961 L734,961 L734,961 L734,961 L734,961 L734,961 L734,961 L734,961 L734,961 L734,961 L734,962 L734,962 L734,962 L734,962 L734,962 L734,962 L734,962 L734,962 L734,962 L734,962ZM719,997 L719,997 L719,997 L707,1006 L707,1006 L707,1006 L707,1006 L707,1006 L707,1006 L707,1006 L706,1006 L705,1012 L705,1012 L705,1012 L705,1013 L705,1013 L705,1013 L705,1013 L705,1013 L705,1013 L705,1013 L705,1013 L705,1013 L705,1013 L705,1013 L705,1013 L705,1013 L705,1013 L705,1013 L706,1013 L706,1013 L706,1013 L706,1013 L745,1003 L745,1003 L745,1003 L745,1003 L745,1003 L755,995 L755,995 L755,995 L755,995 L755,995 L755,994 L755,994 L755,994 L755,994 L755,994 L755,994 L755,994 L755,994 L755,994 L755,994 L755,994 L755,994 L755,994 L755,994 L755,993 L755,993 L743,987 L743,987 L743,987 L743,987 L743,987 L743,987 L743,987 L743,987 L743,987 L743,987ZM745,984 L745,984 L745,984 L745,984 L745,984 L745,985 L745,985 L745,985 L745,985 L745,985 L745,985 L745,985 L745,985 L745,985 L746,985 L758,992 L758,992 L758,992 L758,992 L758,992 L758,992 L758,992 L758,992 L766,991 L766,991 L766,991 L766,991 L766,991 L766,991 L766,991 L776,982 L776,982 L776,982 L776,981 L776,981 L786,961 L786,961 L786,961 L786,960 L786,960 L786,960 L786,960 L786,960 L786,960 L786,960 L786,960 L786,960 L786,960 L786,960 L786,959 L786,959 L785,959 L785,959 L785,959 L785,959 L785,959 L785,959 L785,959 L785,959 L785,959 L750,970 L750,970 L750,970 L750,971 L750,971 L750,971 L750,971 L750,971 L750,971 L749,971ZM704,1016 L704,1016 L704,1016 L704,1016 L703,1016 L703,1016 L703,1016 L701,1019 L701,1019 L701,1019 L701,1019 L701,1019 L701,1020 L701,1020 L701,1020 L701,1020 L701,1020 L701,1020 L701,1020 L701,1020 L701,1020 L701,1020 L701,1020 L701,1020 L701,1020 L720,1033 L720,1033 L720,1033 L720,1033 L720,1033 L720,1033 L721,1033 L721,1033 L721,1033 L721,1033 L721,1033 L739,1025 L739,1025 L739,1025 L739,1025 L739,1025 L739,1025 L740,1025 L740,1024 L740,1024 L740,1024 L740,1024 L744,1007 L744,1007 L744,1007 L744,1007 L744,1007 L744,1006 L744,1006 L744,1006 L744,1006 L744,1006 L743,1006 L743,1006 L743,1006 L743,1006 L743,1006 L743,1006 L743,1006 L743,1006 L743,1006 L743,1006 L743,1006 L743,1006ZM686,1058 L686,1058 L686,1058 L686,1057 L686,1057 L686,1057 L686,1057 L686,1057 L686,1057 L686,1057 L686,1057 L686,1057 L686,1057 L686,1057 L686,1057 L686,1057 L686,1057 L686,1057 L686,1057 L686,1056 L686,1056 L685,1056 L685,1056 L685,1056 L685,1056 L685,1056 L659,1055 L659,1055 L659,1055 L659,1055 L659,1055 L659,1055 L659,1055 L659,1055 L659,1055 L659,1055 L641,1075 L641,1075 L641,1075 L641,1075 L641,1075 L641,1075 L641,1075 L641,1075 L641,1075 L641,1076 L641,1076 L641,1076 L641,1076 L641,1076 L646,1084 L646,1085 L646,1085 L646,1085 L647,1085 L647,1085 L647,1085 L647,1085 L647,1085 L647,1085 L647,1085 L649,1085 L649,1085 L649,1085 L649,1085 L649,1085 L649,1085 L649,1085 L649,1085 L649,1085 L649,1085 L649,1085 L649,1085 L649,1085 L649,1084 L649,1084 L649,1084 L650,1084ZM691,1056 L691,1056 L678,1066 L678,1066 L678,1066 L678,1066 L677,1066 L677,1066 L677,1066 L677,1066 L677,1066 L677,1066 L677,1066 L677,1066 L677,1066 L677,1067 L677,1067 L677,1067 L678,1067 L678,1067 L678,1067 L678,1067 L687,1074 L687,1074 L687,1074 L687,1074 L687,1074 L687,1074 L687,1074 L688,1074 L688,1074 L688,1074 L688,1074 L721,1064 L721,1064 L721,1064 L721,1064 L722,1064 L722,1064 L722,1064 L745,1036 L745,1036 L745,1036 L745,1036 L745,1036 L745,1036 L745,1036 L746,1027 L746,1027 L746,1027 L746,1027 L746,1026 L746,1026 L746,1026 L746,1026 L746,1026 L746,1026 L746,1026 L746,1026 L746,1026 L746,1026 L746,1026 L746,1026 L745,1026 L745,1026 L745,1026 L745,1026 L745,1026 L745,1026 L745,1026 L707,1045 L707,1045ZM630,1119 L630,1119 L630,1119 L630,1119 L630,1119 L630,1119 L630,1119 L630,1119 L630,1119 L630,1119 L630,1119 L630,1119 L630,1119 L630,1120 L630,1120 L630,1120 L630,1120 L630,1120 L631,1120 L640,1118 L640,1118 L640,1118 L640,1118 L640,1118 L714,1080 L714,1080 L715,1080 L715,1080 L723,1072 L723,1072 L723,1072 L723,1072 L723,1072 L723,1072 L723,1071 L723,1071 L723,1071 L723,1071 L723,1071 L723,1071 L722,1066 L722,1066 L722,1066 L721,1066 L721,1066 L721,1066 L721,1066 L721,1066 L721,1066 L721,1066 L721,1066 L721,1066 L721,1066 L721,1066 L721,1066 L721,1066 L721,1066 L688,1076 L688,1076 L688,1076 L688,1076 L630,1118 L630,1118 L630,1118 L630,1118 L630,1118 L630,1118 L630,1118 L630,1118 L630,1118 L630,1119 L630,1119ZM681,1118 L682,1118 L682,1118 L686,1116 L686,1116 L686,1115 L710,1092 L710,1092 L710,1092 L710,1092 L710,1092 L710,1092 L713,1085 L713,1085 L713,1084 L713,1084 L713,1084 L713,1084 L713,1084 L713,1084 L713,1084 L713,1084 L713,1084 L713,1084 L712,1084 L712,1084 L712,1084 L712,1084 L712,1084 L712,1084 L712,1084 L712,1084 L712,1084 L712,1084 L712,1084 L712,1084 L712,1084 L641,1120 L641,1120 L641,1120 L641,1120 L641,1120 L640,1122 L640,1122 L640,1122 L640,1122 L640,1122 L640,1122 L640,1122 L640,1122 L640,1122 L640,1122 L640,1122 L640,1123 L640,1123 L640,1123 L640,1123 L640,1123 L640,1123 L640,1123 L640,1123 L640,1123 L640,1123 L640,1123 L640,1123 L640,1123 L670,1123 L670,1123 L670,1123 L670,1123 L671,1123ZM697,1119 L697,1119 L697,1119 L698,1119 L698,1119 L698,1119 L698,1119 L745,1102 L745,1102 L745,1101 L745,1101 L771,1083 L771,1083 L772,1083 L772,1083 L772,1083 L772,1083 L772,1083 L772,1083 L772,1083 L772,1083 L772,1082 L772,1082 L772,1082 L772,1082 L769,1072 L769,1072 L769,1072 L769,1072 L769,1072 L769,1072 L769,1072 L769,1072 L769,1072 L768,1072 L768,1072 L768,1072 L768,1072 L768,1072 L768,1072 L768,1072 L768,1072 L768,1072 L712,1093 L712,1093 L712,1093 L711,1094 L711,1094 L689,1115 L689,1115 L689,1115 L689,1115 L689,1115 L689,1115 L689,1115 L689,1115 L689,1115 L689,1116 L689,1116 L689,1116 L689,1116 L689,1116 L689,1116 L689,1116 L689,1116 L689,1116 L689,1116 L689,1116 L690,1116 L690,1116ZM697,1122 L697,1122 L697,1122 L697,1122 L697,1122 L697,1122 L697,1122 L697,1122 L697,1122 L697,1122 L697,1123 L697,1123 L697,1123 L697,1123 L697,1123 L697,1123 L697,1123 L697,1123 L697,1123 L697,1123 L697,1123 L697,1123 L697,1123 L698,1123 L724,1123 L724,1123 L724,1123 L724,1123 L724,1123 L724,1123 L724,1123 L724,1123 L724,1123 L740,1107 L740,1107 L740,1107 L740,1107 L740,1107 L740,1107 L740,1107 L740,1107 L740,1106 L740,1106 L740,1106 L740,1106 L740,1106 L740,1106 L740,1106 L740,1106 L740,1106 L740,1106 L740,1106 L740,1106 L740,1106 L740,1106 L740,1106 L740,1106 L739,1106 L739,1106 L739,1106 L739,1106 L698,1120 L698,1120 L698,1120 L698,1120 L698,1121 L698,1121ZM1044,970 L1044,970 L1044,970 L1044,970 L1044,970 L1044,970 L1044,970 L1044,970 L1043,970 L1043,970 L1043,971 L1043,971 L1043,971 L1043,971 L1043,971 L1043,971 L1043,971 L1043,971 L1043,971 L1043,971 L1043,971 L1043,971 L1043,971 L1043,972 L1043,972 L1043,972 L1043,972 L1043,972 L1043,972 L1043,972 L1043,972 L1044,972 L1051,975 L1051,975 L1051,975 L1058,977 L1058,977 L1058,977 L1059,977 L1059,977 L1059,977 L1059,976 L1059,976 L1059,976 L1059,976 L1059,976 L1059,976 L1059,976 L1059,976 L1059,976 L1059,976 L1059,976 L1059,976 L1059,976 L1059,976 L1059,976 L1059,975 L1059,975 L1059,975 L1059,975 L1059,975 L1059,975 L1059,975 L1059,975 L1059,975 L1059,975 L1059,975 L1059,975ZM1076,1020 L1076,1020 L1076,1020 L1076,1020 L1076,1020 L1076,1020 L1076,1020 L1076,1020 L1076,1020 L1076,1020 L1076,1020 L1076,1020 L1076,1020 L1076,1020 L1076,1021 L1076,1021 L1075,1040 L1075,1040 L1075,1040 L1075,1040 L1075,1040 L1075,1040 L1075,1040 L1075,1041 L1075,1041 L1075,1041 L1076,1041 L1076,1041 L1078,1042 L1078,1042 L1078,1042 L1078,1042 L1079,1042 L1079,1042 L1079,1042 L1079,1042 L1079,1042 L1079,1042 L1114,1030 L1114,1030 L1114,1030 L1114,1030 L1114,1030 L1114,1030 L1114,1030 L1114,1030 L1114,1030 L1114,1030 L1114,1030 L1114,1030 L1114,1030 L1114,1030 L1114,1029 L1114,1029 L1114,1029 L1114,1029 L1114,1029 L1114,1029 L1114,1029 L1114,1029 L1114,1029 L1100,1018 L1100,1018 L1100,1018 L1100,1018 L1100,1018 L1100,1018 L1100,1018 L1100,1018ZM1117,1031 L1117,1031 L1117,1031 L1117,1031 L1117,1031 L1117,1031 L1117,1031 L1117,1031 L1117,1031 L1117,1031 L1117,1031 L1117,1031 L1117,1031 L1117,1031 L1117,1031 L1117,1031 L1117,1031 L1117,1031 L1117,1031 L1114,1060 L1114,1060 L1114,1060 L1114,1060 L1114,1060 L1114,1060 L1114,1060 L1114,1060 L1114,1060 L1114,1060 L1114,1060 L1114,1060 L1114,1060 L1114,1060 L1128,1067 L1128,1067 L1128,1067 L1128,1067 L1128,1067 L1128,1067 L1128,1067 L1138,1065 L1138,1065 L1138,1065 L1138,1065 L1138,1065 L1149,1057 L1149,1057 L1149,1057 L1149,1057 L1150,1057 L1150,1057 L1150,1057 L1150,1057 L1150,1057 L1150,1057 L1150,1057 L1150,1057 L1150,1057 L1150,1057 L1150,1056 L1150,1056 L1150,1056 L1135,1037 L1135,1037 L1135,1037 L1135,1037 L1135,1037 L1135,1037 L1135,1037ZM1147,1097 L1148,1097 L1148,1097 L1148,1097 L1148,1097 L1148,1097 L1148,1097 L1148,1097 L1148,1097 L1148,1097 L1147,1096 L1147,1096 L1147,1096 L1147,1096 L1147,1096 L1147,1096 L1133,1087 L1133,1087 L1133,1087 L1133,1087 L1133,1087 L1133,1087 L1133,1087 L1133,1087 L1133,1087 L1128,1088 L1128,1088 L1128,1088 L1128,1088 L1127,1088 L1127,1088 L1127,1088 L1127,1088 L1127,1088 L1127,1088 L1127,1088 L1127,1088 L1127,1088 L1127,1089 L1127,1089 L1127,1089 L1127,1089 L1127,1089 L1127,1089 L1127,1089 L1127,1089 L1140,1108 L1140,1108 L1140,1108 L1140,1108 L1140,1108 L1140,1108 L1141,1108 L1141,1108 L1141,1108 L1141,1108 L1141,1108 L1141,1108 L1141,1108 L1141,1108 L1141,1108 L1141,1108 L1141,1108 L1141,1108 L1141,1108 L1141,1108 L1141,1108 L1141,1108ZM1125,1118 L1125,1118 L1125,1118 L1125,1118 L1125,1118 L1125,1118 L1124,1118 L1124,1118 L1124,1118 L1124,1118 L1124,1122 L1124,1122 L1124,1122 L1124,1122 L1124,1122 L1124,1122 L1124,1123 L1124,1123 L1124,1123 L1124,1123 L1124,1123 L1124,1123 L1124,1123 L1124,1123 L1124,1123 L1125,1123 L1125,1123 L1125,1123 L1147,1123 L1147,1123 L1147,1123 L1147,1123 L1147,1123 L1147,1123 L1147,1123 L1147,1123 L1147,1123 L1147,1123 L1147,1123 L1147,1123 L1147,1123 L1147,1122 L1147,1122 L1147,1122 L1147,1122 L1147,1122 L1147,1122 L1147,1122 L1147,1122 L1147,1122 L1147,1122 L1139,1109 L1139,1109 L1139,1109 L1139,1109 L1139,1109 L1139,1109 L1139,1109 L1138,1109 L1138,1109 L1138,1109 L1138,1109 L1138,1109 L1138,1109 L1138,1109 L1138,1109 L1138,1109 L1138,1109Z" fill="#4b3630"/>
<path d="M742,1023 L742,1023 L742,1023 L742,1023 L742,1023 L742,1023 L742,1023 L742,1024 L742,1024 L742,1024 L742,1024 L742,1024 L742,1024 L742,1024 L743,1024 L743,1024 L743,1024 L743,1024 L743,1024 L743,1024 L745,1024 L745,1024 L745,1024 L745,1024 L759,1019 L759,1019 L759,1019 L759,1019 L780,1002 L780,1002 L780,1002 L780,1002 L780,1002 L780,1002 L780,1002 L780,1002 L780,1002 L780,1002 L780,1002 L780,1001 L780,1001 L780,1001 L780,1001 L780,1001 L780,1001 L780,1001 L780,1001 L780,1001 L780,1001 L767,993 L767,993 L767,993 L767,993 L767,993 L767,993 L767,993 L766,993 L766,993 L759,995 L758,995 L758,995 L758,995 L758,995 L758,995 L746,1005 L746,1005 L746,1005 L746,1005 L746,1005 L746,1005 L746,1005 L746,1005ZM748,1033 L748,1033 L748,1033 L748,1033 L748,1033 L748,1033 L748,1033 L748,1033 L748,1033 L748,1033 L748,1034 L748,1034 L748,1034 L748,1034 L749,1034 L749,1034 L749,1034 L749,1034 L749,1034 L749,1034 L749,1034 L749,1034 L749,1034 L796,1010 L797,1010 L797,1010 L797,1010 L797,1010 L797,1009 L797,1009 L797,1009 L797,1009 L797,1009 L797,1009 L797,1009 L797,1009 L797,1009 L797,1009 L797,1009 L797,1008 L797,1008 L797,1008 L797,1008 L797,1008 L797,1008 L797,1008 L796,1008 L796,1008 L796,1008 L796,1008 L796,1008 L796,1008 L796,1008 L796,1008 L796,1008 L749,1025 L749,1025 L749,1025 L749,1025 L749,1025 L749,1025 L749,1025 L749,1025 L749,1025 L748,1025 L748,1026 L748,1026 L748,1026ZM716,1081 L716,1081 L716,1081 L716,1082 L716,1082 L716,1082 L714,1088 L714,1088 L714,1088 L714,1088 L714,1088 L714,1088 L714,1089 L714,1089 L714,1089 L714,1089 L714,1089 L714,1089 L714,1089 L714,1089 L715,1089 L715,1089 L715,1089 L715,1089 L715,1089 L715,1089 L715,1089 L715,1089 L715,1089 L716,1089 L768,1069 L769,1069 L769,1069 L769,1069 L809,1035 L809,1035 L809,1035 L809,1035 L809,1035 L809,1035 L809,1035 L810,1035 L810,1034 L810,1034 L810,1034 L810,1034 L810,1034 L809,1034 L809,1034 L809,1034 L809,1034 L809,1034 L809,1034 L809,1033 L809,1033 L809,1033 L809,1033 L809,1033 L809,1033 L808,1033 L808,1033 L808,1033 L784,1037 L784,1037 L784,1037 L783,1038 L783,1038 L725,1073 L725,1073 L725,1073ZM1099,1013 L1099,1013 L1099,1013 L1099,1013 L1099,1013 L1099,1013 L1099,1013 L1099,1013 L1099,1012 L1099,1012 L1099,1012 L1099,1012 L1099,1012 L1063,993 L1063,993 L1063,993 L1062,993 L1062,993 L1062,993 L1062,993 L1062,993 L1062,993 L1062,993 L1062,993 L1062,993 L1050,1001 L1050,1001 L1049,1001 L1049,1001 L1049,1001 L1049,1001 L1049,1001 L1049,1001 L1049,1001 L1049,1001 L1049,1002 L1049,1002 L1049,1002 L1049,1002 L1049,1002 L1049,1002 L1049,1002 L1049,1002 L1049,1002 L1049,1002 L1050,1002 L1050,1002 L1075,1018 L1075,1018 L1075,1018 L1075,1018 L1075,1018 L1075,1018 L1075,1018 L1098,1016 L1098,1016 L1098,1016 L1099,1016 L1099,1016 L1099,1016 L1099,1016 L1099,1016 L1099,1016 L1099,1016 L1099,1016 L1099,1016 L1099,1015 L1099,1015 L1099,1015ZM1115,1033 L1115,1033 L1115,1033 L1115,1033 L1115,1033 L1115,1033 L1115,1033 L1115,1033 L1115,1033 L1115,1033 L1114,1033 L1114,1032 L1114,1032 L1114,1032 L1114,1032 L1114,1032 L1114,1032 L1114,1032 L1114,1032 L1114,1032 L1114,1032 L1082,1043 L1082,1043 L1082,1044 L1082,1044 L1082,1044 L1082,1044 L1082,1044 L1082,1044 L1082,1044 L1081,1044 L1081,1044 L1081,1044 L1081,1044 L1081,1044 L1081,1044 L1081,1044 L1081,1044 L1082,1045 L1082,1045 L1082,1045 L1082,1045 L1082,1045 L1082,1045 L1091,1052 L1091,1052 L1091,1052 L1091,1052 L1111,1059 L1111,1059 L1111,1059 L1111,1059 L1111,1059 L1112,1059 L1112,1059 L1112,1059 L1112,1059 L1112,1059 L1112,1059 L1112,1059 L1112,1059 L1112,1059 L1112,1059 L1112,1058 L1112,1058 L1112,1058 L1112,1058ZM1089,1054 L1089,1054 L1089,1054 L1089,1054 L1089,1054 L1089,1053 L1089,1053 L1089,1053 L1089,1053 L1089,1053 L1089,1053 L1089,1053 L1089,1053 L1089,1053 L1089,1053 L1089,1053 L1089,1053 L1089,1053 L1078,1044 L1078,1044 L1074,1042 L1074,1042 L1074,1042 L1074,1042 L1053,1038 L1053,1038 L1053,1038 L1053,1038 L1053,1038 L1052,1038 L1052,1038 L1052,1038 L1052,1038 L1052,1038 L1046,1043 L1046,1043 L1046,1043 L1046,1043 L1046,1043 L1045,1043 L1045,1043 L1045,1043 L1045,1044 L1045,1044 L1045,1044 L1045,1044 L1045,1044 L1045,1044 L1045,1044 L1046,1044 L1046,1044 L1046,1044 L1046,1044 L1046,1044 L1046,1044 L1046,1044 L1046,1044 L1060,1049 L1060,1049 L1082,1060 L1082,1060 L1082,1060 L1082,1060 L1082,1060 L1082,1060 L1082,1060 L1083,1060 L1083,1060 L1083,1060 L1083,1060 L1083,1060 L1083,1060 L1083,1060ZM1064,1072 L1064,1072 L1064,1072 L1064,1072 L1064,1073 L1064,1073 L1064,1073 L1064,1073 L1064,1073 L1064,1075 L1064,1075 L1064,1075 L1064,1075 L1064,1075 L1064,1075 L1064,1075 L1064,1075 L1064,1075 L1064,1075 L1064,1075 L1064,1075 L1065,1075 L1065,1075 L1065,1075 L1065,1075 L1065,1075 L1065,1075 L1065,1075 L1065,1075 L1065,1075 L1085,1065 L1086,1065 L1086,1065 L1086,1065 L1086,1065 L1086,1065 L1086,1065 L1086,1065 L1086,1065 L1086,1065 L1086,1065 L1086,1065 L1086,1065 L1086,1064 L1086,1064 L1086,1064 L1086,1064 L1086,1064 L1086,1064 L1086,1064 L1086,1064 L1086,1064 L1086,1064 L1085,1064 L1076,1059 L1076,1059 L1076,1059 L1076,1059 L1076,1059 L1076,1059 L1076,1059 L1076,1059 L1076,1059 L1076,1059 L1075,1059 L1075,1059 L1075,1059 L1075,1059Z" fill="#56382e"/>
<path d="M774,942 L774,942 L774,942 L774,942 L774,942 L774,942 L774,942 L774,942 L774,942 L774,942 L795,943 L795,943 L795,943 L795,942 L795,942 L795,942 L795,942 L795,942 L795,942 L795,942 L795,942 L798,938 L798,938 L799,938 L799,938 L799,938 L799,938 L799,938 L799,937 L799,937 L799,937 L799,937 L799,937 L798,937 L798,937 L798,937 L798,937 L798,937 L798,937 L798,937 L798,937 L798,937 L798,937 L798,936 L798,936 L776,938 L776,938 L776,938 L776,938 L773,939 L773,939 L773,939 L773,939 L773,939 L773,940 L773,940 L773,940 L773,940 L773,940 L773,940 L773,940 L773,940 L773,940 L773,940 L773,940 L773,941 L773,941 L773,941 L773,941ZM814,959 L814,959 L814,959 L814,959 L814,959 L814,959 L814,959 L814,959 L815,959 L851,950 L851,950 L851,950 L851,950 L851,950 L851,949 L851,949 L851,949 L851,949 L851,949 L851,949 L851,949 L851,949 L851,949 L851,949 L851,949 L851,948 L851,948 L851,948 L851,948 L851,948 L851,948 L851,948 L851,948 L841,941 L841,941 L841,941 L841,941 L841,940 L841,940 L840,940 L840,940 L840,940 L836,941 L835,941 L835,941 L809,954 L808,954 L808,954 L808,954 L808,954 L808,954 L808,954 L808,954 L808,954 L808,954 L808,954 L808,955 L808,955 L808,955 L808,955 L808,955 L808,955 L808,955 L808,955 L808,955 L808,955 L808,956 L808,956ZM813,977 L813,977 L813,977 L813,977 L813,977 L813,977 L812,977 L812,977 L812,976 L812,976 L812,976 L812,977 L778,983 L778,984 L778,984 L778,984 L777,984 L777,984 L777,984 L770,991 L770,991 L770,991 L770,991 L770,991 L770,991 L770,991 L770,991 L770,992 L770,992 L770,992 L770,992 L770,992 L770,992 L770,992 L770,992 L770,992 L770,992 L770,992 L770,992 L783,1000 L783,1000 L783,1000 L783,1000 L783,1000 L783,1000 L783,1000 L804,998 L804,998 L804,998 L804,998 L804,998 L804,998 L804,998 L804,998 L818,985 L818,985 L818,985 L818,985 L819,985 L819,985 L819,985 L819,985 L819,985 L819,984 L819,984 L819,984 L819,984 L819,984 L818,984 L818,984ZM858,954 L858,954 L858,954 L858,954 L858,954 L858,954 L858,953 L858,953 L858,953 L858,953 L858,953 L858,953 L858,953 L858,953 L858,953 L858,953 L856,951 L856,951 L856,951 L856,951 L856,951 L856,951 L855,951 L855,951 L855,951 L855,951 L816,961 L816,961 L816,961 L816,961 L815,961 L815,962 L815,962 L815,962 L815,962 L815,962 L815,962 L815,962 L815,962 L815,962 L814,974 L814,974 L814,974 L814,974 L815,975 L815,975 L815,975 L815,975 L821,983 L821,983 L821,983 L821,983 L821,983 L821,983 L821,983 L821,983 L821,983 L822,983 L822,983 L822,983 L822,983 L822,983 L846,974 L846,974 L846,974 L846,974 L846,974 L846,974 L846,974 L847,974ZM725,1068 L725,1068 L725,1068 L725,1069 L725,1069 L725,1069 L725,1069 L725,1069 L725,1069 L725,1069 L725,1069 L725,1069 L725,1069 L726,1069 L726,1069 L726,1069 L726,1069 L726,1069 L726,1069 L726,1069 L782,1035 L782,1035 L782,1035 L809,1009 L809,1009 L810,1009 L810,1008 L810,1008 L810,1008 L810,1008 L810,1008 L810,1008 L810,1008 L810,1008 L810,1008 L810,1007 L810,1007 L810,1007 L810,1007 L809,1007 L809,1007 L809,1007 L809,1007 L809,1007 L809,1007 L809,1007 L809,1007 L809,1007 L809,1007 L808,1007 L808,1007 L808,1007 L808,1007 L747,1038 L747,1038 L747,1038 L747,1038 L747,1038 L724,1064 L724,1065 L724,1065 L724,1065 L724,1065 L724,1065 L724,1065 L724,1065 L724,1065 L724,1065 L724,1065ZM785,1076 L785,1076 L785,1076 L834,1038 L834,1038 L834,1038 L835,1038 L835,1038 L835,1037 L835,1037 L835,1037 L835,1037 L835,1037 L835,1037 L835,1037 L835,1037 L831,1026 L831,1026 L831,1026 L831,1026 L831,1026 L831,1026 L831,1026 L831,1025 L831,1025 L831,1025 L831,1025 L830,1025 L830,1025 L830,1025 L830,1025 L830,1025 L830,1025 L830,1025 L830,1025 L818,1032 L818,1032 L818,1032 L772,1070 L772,1070 L771,1070 L771,1070 L771,1070 L771,1071 L771,1071 L771,1071 L771,1071 L771,1071 L771,1071 L771,1071 L771,1071 L774,1080 L774,1080 L774,1080 L774,1080 L774,1080 L774,1080 L774,1080 L774,1080 L774,1081 L774,1081 L774,1081 L774,1081 L775,1081 L775,1081 L775,1081 L775,1081 L775,1081 L775,1081 L775,1081ZM730,1120 L730,1120 L730,1120 L730,1121 L730,1121 L730,1121 L730,1121 L730,1121 L730,1121 L730,1121 L730,1121 L730,1122 L730,1122 L730,1122 L730,1122 L730,1122 L730,1122 L731,1122 L731,1122 L731,1122 L731,1122 L731,1122 L731,1122 L731,1122 L731,1122 L749,1122 L749,1122 L749,1122 L750,1122 L750,1122 L750,1122 L750,1122 L750,1122 L798,1081 L798,1081 L798,1081 L799,1081 L799,1081 L799,1081 L799,1081 L799,1081 L799,1080 L799,1080 L799,1080 L799,1080 L799,1080 L799,1080 L799,1080 L799,1080 L798,1079 L798,1079 L798,1079 L798,1079 L798,1079 L798,1079 L798,1079 L798,1079 L798,1079 L797,1079 L786,1079 L786,1079 L786,1079 L786,1079 L786,1079 L774,1085 L774,1085 L774,1085 L747,1104 L747,1104 L747,1104ZM992,971 L992,971 L992,971 L992,971 L992,971 L992,971 L992,971 L992,971 L992,971 L991,971 L991,971 L991,971 L991,971 L991,971 L991,972 L991,972 L991,972 L991,972 L991,973 L991,973 L991,973 L991,974 L991,974 L991,974 L991,974 L997,990 L997,990 L997,990 L997,990 L997,990 L997,990 L997,990 L997,990 L997,991 L997,991 L997,991 L997,991 L998,991 L998,991 L998,991 L998,991 L998,991 L998,991 L998,990 L998,990 L998,990 L998,990 L998,990 L998,990 L999,990 L999,990 L999,990 L999,990 L999,990 L999,990 L999,989 L996,973 L996,973 L996,973 L996,973 L996,972 L996,972 L996,972 L996,972 L996,972 L995,972 L995,972 L995,972ZM997,959 L997,960 L997,960 L997,960 L997,960 L997,960 L997,960 L997,960 L997,960 L997,960 L997,960 L997,960 L997,960 L997,961 L999,974 L999,975 L999,975 L999,975 L999,975 L999,975 L999,975 L999,975 L999,975 L1002,977 L1002,977 L1002,978 L1002,978 L1011,981 L1011,981 L1011,981 L1011,981 L1012,981 L1012,981 L1043,976 L1043,976 L1043,976 L1043,976 L1043,976 L1043,976 L1043,976 L1043,976 L1043,976 L1043,976 L1043,975 L1043,975 L1043,975 L1043,975 L1044,975 L1044,975 L1043,975 L1043,975 L1043,975 L1043,975 L1043,975 L1043,974 L1043,974 L1043,974 L1043,974 L1043,974 L1043,974 L1003,957 L1002,957 L1002,957 L1002,957 L1002,957 L1002,957 L1002,957 L1002,957 L1002,957ZM1045,1000 L1045,1000 L1045,1000 L1045,1000 L1045,1000 L1045,1000 L1046,1000 L1046,1000 L1046,1000 L1046,1000 L1046,1000 L1046,1000 L1061,991 L1061,991 L1061,991 L1061,991 L1061,991 L1061,991 L1061,991 L1061,991 L1061,991 L1061,990 L1061,990 L1061,990 L1061,980 L1061,980 L1061,980 L1061,980 L1061,980 L1061,979 L1061,979 L1061,979 L1061,979 L1061,979 L1060,979 L1060,979 L1060,979 L1060,979 L1060,979 L1051,977 L1051,977 L1051,977 L1051,977 L1050,977 L1017,982 L1017,982 L1017,982 L1017,982 L1016,982 L1016,983 L1016,983 L1016,983 L1016,983 L1016,983 L1016,983 L1016,983 L1016,983 L1016,983 L1016,983 L1016,983 L1016,983 L1016,983 L1016,984 L1016,984 L1016,984 L1016,984 L1016,984 L1016,984 L1016,984 L1016,984ZM1016,1015 L1016,1015 L1016,1015 L1016,1015 L1016,1015 L1017,1015 L1022,1016 L1023,1016 L1023,1016 L1023,1016 L1023,1016 L1023,1016 L1023,1016 L1023,1016 L1023,1016 L1023,1016 L1041,1003 L1041,1003 L1041,1003 L1041,1003 L1041,1002 L1041,1002 L1041,1002 L1041,1002 L1041,1002 L1041,1002 L1041,1002 L1041,1002 L1041,1002 L1041,1001 L1041,1001 L1041,1001 L1041,1001 L1041,1001 L1041,1001 L1041,1001 L1041,1001 L1011,984 L1011,984 L1010,984 L1005,981 L1004,981 L1004,981 L1004,981 L1004,981 L1004,981 L1004,981 L1004,981 L1004,981 L1004,981 L1003,981 L1003,981 L1003,982 L1003,982 L1003,982 L1003,982 L1003,982 L1003,982 L1003,982 L1003,982 L1002,995 L1002,995 L1002,1002 L1002,1002 L1002,1002 L1002,1002 L1002,1002 L1002,1002 L1002,1002 L1002,1002 L1002,1002 L1002,1002ZM1003,1019 L1003,1019 L1003,1020 L1003,1020 L1004,1020 L1004,1020 L1004,1020 L1004,1019 L1004,1019 L1011,1017 L1011,1017 L1011,1017 L1012,1017 L1012,1016 L1012,1016 L1012,1016 L1012,1016 L1012,1016 L1012,1016 L1012,1016 L1012,1016 L1012,1016 L1012,1016 L1012,1015 L1012,1015 L1012,1015 L1012,1015 L1012,1015 L1012,1015 L1012,1015 L1012,1015 L1003,1007 L1003,1007 L1003,1007 L1003,1007 L1003,1007 L1003,1007 L1003,1007 L1002,1007 L1002,1007 L1002,1007 L1002,1007 L1002,1007 L1002,1007 L1002,1007 L1002,1007 L1002,1007 L1002,1007 L1002,1008 L1001,1008 L1001,1008 L1001,1008 L1001,1008 L1001,1008 L1001,1008 L1001,1018 L1001,1018 L1001,1018 L1001,1018 L1001,1018 L1001,1018 L1002,1018 L1002,1019 L1002,1019 L1002,1019 L1002,1019 L1002,1019 L1002,1019ZM1046,1003 L1046,1003 L1046,1003 L1046,1003 L1046,1003 L1046,1003 L1045,1003 L1045,1003 L1045,1003 L1045,1003 L1045,1003 L1045,1003 L1045,1003 L1027,1017 L1027,1017 L1027,1017 L1027,1017 L1027,1017 L1027,1018 L1026,1018 L1026,1018 L1026,1018 L1026,1018 L1026,1018 L1026,1018 L1026,1018 L1026,1018 L1027,1018 L1027,1019 L1027,1019 L1027,1019 L1027,1019 L1027,1019 L1027,1019 L1053,1035 L1053,1035 L1053,1035 L1053,1035 L1053,1035 L1072,1039 L1072,1039 L1072,1039 L1072,1039 L1072,1039 L1072,1039 L1072,1039 L1072,1039 L1072,1039 L1073,1039 L1073,1039 L1073,1039 L1073,1039 L1073,1039 L1073,1039 L1073,1039 L1073,1038 L1073,1038 L1073,1038 L1073,1020 L1073,1020 L1073,1020 L1073,1020 L1073,1020 L1073,1020 L1073,1020 L1073,1020 L1073,1020 L1073,1019 L1073,1019 L1073,1019ZM1049,1038 L1049,1037 L1049,1037 L1049,1037 L1049,1037 L1049,1037 L1049,1037 L1049,1037 L1049,1037 L1049,1037 L1049,1037 L1049,1037 L1049,1036 L1049,1036 L1049,1036 L1049,1036 L1049,1036 L1049,1036 L1049,1036 L1049,1036 L1023,1019 L1023,1019 L1023,1019 L1023,1019 L1023,1019 L1016,1018 L1016,1018 L1016,1018 L1016,1018 L1016,1018 L1015,1018 L1015,1018 L1005,1022 L1004,1022 L1004,1022 L1004,1022 L1004,1022 L1004,1022 L1001,1026 L1001,1026 L1001,1026 L1001,1026 L1001,1026 L1001,1026 L1001,1026 L1001,1026 L1001,1028 L1001,1028 L1001,1029 L1001,1029 L1001,1029 L1001,1029 L1001,1029 L1001,1029 L1002,1029 L1002,1029 L1002,1029 L1002,1029 L1002,1029 L1002,1029 L1042,1043 L1042,1043 L1042,1043 L1042,1043 L1042,1043 L1042,1043 L1043,1043 L1043,1043 L1043,1043 L1043,1043 L1043,1042ZM1064,1078 L1064,1078 L1064,1078 L1035,1102 L1035,1102 L1035,1102 L1034,1102 L1034,1102 L1034,1102 L1034,1102 L1034,1102 L1034,1102 L1034,1102 L1034,1102 L1034,1102 L1034,1103 L1034,1103 L1034,1103 L1034,1103 L1034,1103 L1035,1103 L1035,1103 L1035,1103 L1035,1103 L1035,1103 L1050,1110 L1051,1110 L1051,1110 L1051,1110 L1051,1110 L1051,1110 L1051,1110 L1051,1110 L1051,1110 L1063,1105 L1063,1105 L1069,1101 L1069,1101 L1069,1101 L1103,1074 L1103,1074 L1103,1074 L1103,1074 L1103,1074 L1103,1074 L1103,1074 L1104,1074 L1104,1074 L1104,1074 L1104,1073 L1104,1073 L1103,1073 L1103,1073 L1103,1073 L1103,1073 L1103,1073 L1103,1073 L1103,1073 L1103,1073 L1103,1073 L1090,1066 L1089,1066 L1089,1066 L1089,1066 L1089,1066 L1089,1066 L1089,1066 L1089,1066 L1089,1066 L1089,1066ZM1125,1092 L1125,1092 L1125,1092 L1125,1092 L1122,1093 L1122,1093 L1122,1093 L1091,1122 L1091,1122 L1091,1122 L1091,1122 L1091,1122 L1091,1122 L1091,1122 L1091,1122 L1091,1122 L1091,1122 L1091,1122 L1091,1122 L1091,1123 L1091,1123 L1091,1123 L1091,1123 L1091,1123 L1091,1123 L1091,1123 L1091,1123 L1091,1123 L1092,1123 L1092,1123 L1092,1123 L1092,1123 L1106,1123 L1106,1123 L1106,1123 L1106,1123 L1106,1123 L1123,1117 L1123,1117 L1123,1116 L1137,1108 L1137,1108 L1137,1108 L1137,1107 L1137,1107 L1137,1107 L1137,1107 L1137,1107 L1137,1107 L1137,1107 L1137,1107 L1137,1107 L1137,1107 L1137,1107 L1137,1107 L1137,1107 L1137,1107 L1127,1092 L1127,1092 L1127,1092 L1127,1092 L1127,1091 L1127,1091 L1126,1091 L1126,1091 L1126,1091 L1126,1091 L1126,1091 L1126,1091 L1126,1091Z" fill="#623c2b"/>
<path d="M797,944 L797,944 L797,944 L797,944 L797,944 L797,945 L796,951 L796,951 L796,951 L796,951 L796,951 L796,952 L796,952 L796,952 L796,952 L796,952 L796,952 L796,952 L796,952 L796,952 L796,952 L797,952 L797,952 L803,953 L804,953 L804,953 L804,953 L804,953 L804,953 L804,953 L817,947 L817,947 L817,947 L818,947 L818,947 L818,947 L818,946 L818,946 L818,946 L818,946 L818,946 L818,946 L818,946 L818,946 L818,946 L818,946 L818,946 L818,945 L818,945 L818,945 L818,945 L817,945 L817,945 L817,945 L817,945 L817,945 L817,945 L817,945 L817,945 L817,945 L817,945 L815,945 L815,945 L815,945 L815,945 L815,945 L815,945 L815,945 L814,945 L814,945 L803,938 L803,938 L803,938 L803,938 L803,938 L802,938 L802,938 L802,938 L802,938 L802,938 L802,938 L802,938 L802,938 L802,938 L802,938 L802,938ZM791,957 L791,957 L791,957 L791,957 L790,957 L790,957 L780,979 L780,979 L780,979 L780,979 L780,979 L780,979 L780,979 L780,980 L780,980 L780,980 L780,980 L780,980 L780,980 L780,980 L780,980 L780,980 L780,980 L780,980 L781,980 L781,980 L781,980 L781,980 L781,980 L781,980 L811,974 L811,974 L811,974 L811,974 L812,974 L812,974 L812,974 L812,974 L812,974 L812,974 L812,973 L812,973 L812,973 L812,973 L813,962 L813,962 L813,961 L813,961 L813,961 L813,961 L812,961 L812,961 L812,961 L812,961 L812,961 L812,961 L804,956 L804,956 L804,956 L803,956 L803,955 L795,954 L795,954 L795,954 L795,954 L794,955 L794,955 L794,955 L794,955ZM802,1003 L802,1003 L802,1003 L802,1003 L802,1003 L802,1003 L802,1003 L802,1003 L802,1003 L802,1002 L802,1002 L802,1002 L802,1002 L802,1002 L802,1002 L802,1002 L802,1002 L802,1002 L802,1002 L802,1001 L802,1001 L802,1001 L802,1001 L802,1001 L802,1001 L802,1001 L802,1001 L802,1001 L802,1001 L801,1001 L801,1001 L783,1003 L783,1003 L783,1003 L783,1003 L783,1003 L783,1003 L783,1003 L772,1012 L771,1012 L771,1012 L771,1012 L771,1012 L771,1012 L771,1012 L771,1012 L771,1012 L771,1013 L771,1013 L771,1013 L771,1013 L771,1013 L771,1013 L771,1013 L771,1013 L771,1013 L772,1013 L772,1013 L772,1014 L772,1014 L772,1014 L772,1014 L772,1014 L772,1014 L772,1014 L772,1014 L772,1014 L773,1014 L800,1004 L800,1004ZM818,1005 L817,1005 L817,1005 L817,1005 L817,1005 L791,1031 L791,1031 L790,1031 L790,1031 L790,1031 L790,1031 L790,1032 L790,1032 L790,1032 L790,1032 L790,1032 L790,1032 L790,1032 L790,1032 L790,1033 L791,1033 L791,1033 L791,1033 L791,1033 L791,1033 L791,1033 L791,1033 L791,1033 L791,1033 L791,1033 L792,1033 L792,1033 L816,1029 L817,1029 L817,1029 L817,1029 L831,1021 L831,1021 L854,1004 L855,1004 L855,1004 L855,1004 L855,1004 L855,1004 L855,1004 L855,1003 L855,1003 L857,992 L857,992 L857,991 L857,991 L857,991 L857,991 L857,991 L857,991 L857,991 L857,991 L857,991 L857,990 L857,990 L857,990 L857,990 L857,990 L856,990 L856,990 L856,990 L856,990 L856,990 L856,990 L856,990ZM857,1006 L857,1006 L857,1006 L835,1023 L835,1023 L835,1023 L834,1023 L834,1023 L834,1023 L834,1023 L834,1023 L834,1024 L834,1024 L834,1024 L834,1024 L834,1024 L834,1024 L837,1034 L837,1034 L837,1034 L837,1034 L838,1034 L838,1034 L838,1035 L838,1035 L838,1035 L838,1035 L838,1035 L838,1035 L839,1035 L839,1035 L839,1035 L839,1035 L839,1035 L839,1035 L860,1025 L860,1025 L860,1025 L860,1025 L871,1014 L872,1014 L872,1014 L872,1014 L872,1014 L872,1014 L872,1014 L872,1014 L872,1013 L872,1013 L872,1013 L870,1002 L870,1002 L870,1002 L870,1001 L870,1001 L870,1001 L870,1001 L870,1001 L870,1001 L870,1001 L870,1001 L869,1001 L869,1001 L869,1001 L869,1001 L869,1001 L869,1001 L869,1001 L868,1001 L868,1001ZM988,945 L987,945 L987,945 L987,945 L987,945 L987,945 L987,945 L987,945 L987,945 L986,945 L986,945 L986,945 L986,945 L986,945 L986,946 L986,946 L986,946 L986,946 L986,946 L986,946 L986,946 L986,946 L986,946 L986,947 L986,947 L986,947 L986,947 L990,954 L990,954 L990,954 L990,954 L991,955 L991,955 L991,955 L991,955 L991,955 L991,955 L991,955 L991,955 L991,955 L992,955 L992,955 L992,955 L992,955 L992,955 L992,954 L992,954 L992,954 L992,954 L992,954 L993,954 L993,954 L993,954 L993,954 L993,953 L993,953 L992,948 L992,948 L992,947 L992,947 L992,947 L991,947 L991,947 L991,947 L991,947 L991,947 L991,947ZM994,964 L994,963 L994,963 L994,963 L994,963 L994,963 L994,963 L994,963 L994,963 L994,963 L994,963 L993,963 L993,963 L993,963 L993,963 L993,963 L993,963 L993,963 L993,963 L992,963 L992,963 L992,963 L992,963 L992,963 L992,963 L992,963 L992,963 L992,963 L992,964 L992,964 L992,964 L992,967 L992,967 L992,967 L992,967 L992,968 L992,968 L992,968 L992,968 L992,968 L992,968 L992,968 L992,968 L993,968 L993,968 L993,968 L993,968 L993,968 L994,969 L994,969 L994,968 L994,968 L994,968 L994,968 L994,968 L994,968 L994,968 L995,968 L995,968 L995,968 L995,968 L995,968 L995,968 L995,967 L995,967 L995,967 L995,967ZM972,989 L972,989 L972,989 L972,989 L972,989 L975,1008 L975,1008 L975,1008 L975,1008 L975,1008 L975,1008 L975,1008 L976,1009 L976,1010 L976,1010 L976,1010 L976,1010 L977,1010 L977,1010 L977,1010 L977,1010 L977,1010 L977,1010 L977,1010 L977,1010 L994,1002 L994,1002 L994,1002 L994,1002 L994,1002 L995,1002 L995,1002 L995,1001 L995,1001 L996,997 L996,997 L996,997 L996,997 L996,997 L996,997 L996,997 L996,996 L989,977 L989,977 L989,976 L989,976 L989,976 L989,976 L988,976 L988,976 L988,976 L988,976 L988,976 L988,976 L988,976 L988,976 L988,976 L987,976 L987,976 L974,981 L974,981 L974,981 L974,981 L974,981 L974,981 L974,981 L974,981 L974,981 L974,981 L974,981ZM948,936 L948,936 L948,936 L948,936 L948,936 L948,936 L948,936 L948,936 L948,936 L948,937 L947,937 L947,937 L947,937 L947,937 L947,937 L947,937 L947,937 L947,937 L947,937 L947,938 L947,938 L947,938 L947,938 L948,938 L948,938 L948,938 L959,948 L959,948 L959,948 L959,948 L960,948 L960,948 L960,948 L960,948 L960,948 L960,948 L960,948 L960,948 L960,948 L960,948 L961,948 L961,948 L961,947 L961,947 L968,938 L968,938 L968,938 L968,937 L968,937 L968,937 L968,937 L968,937 L968,937 L968,937 L968,936 L968,936 L967,936 L967,936 L967,936 L967,936 L967,936 L967,936 L967,936 L967,936 L967,935 L967,935 L967,935 L966,935ZM948,975 L948,975 L948,975 L948,975 L948,975 L948,975 L948,975 L948,975 L948,975 L948,976 L948,976 L950,982 L950,982 L950,982 L950,982 L950,982 L950,982 L950,982 L950,982 L951,982 L951,982 L951,982 L968,987 L968,987 L968,987 L968,987 L968,987 L969,987 L969,987 L969,987 L969,987 L969,987 L969,987 L969,986 L969,986 L969,986 L969,986 L969,986 L969,986 L971,980 L971,980 L971,980 L971,980 L971,980 L971,980 L971,979 L971,979 L961,958 L961,957 L961,957 L961,957 L961,957 L961,957 L961,957 L960,957 L960,957 L960,957 L960,957 L960,957 L960,957 L960,957 L960,957 L960,957 L960,957 L959,957 L959,957 L959,957 L959,957 L959,957 L959,957ZM970,1008 L971,1008 L971,1008 L971,1008 L971,1008 L971,1008 L971,1008 L971,1008 L971,1007 L971,1007 L971,1007 L971,1007 L971,1007 L971,1007 L969,991 L969,991 L969,991 L969,991 L969,991 L968,990 L968,990 L968,990 L968,990 L968,990 L968,990 L968,990 L968,990 L952,986 L952,986 L952,986 L952,986 L952,986 L952,986 L952,986 L951,986 L951,986 L951,986 L951,986 L951,986 L951,987 L951,987 L951,987 L951,987 L951,987 L951,987 L951,987 L950,1001 L950,1001 L950,1002 L950,1002 L950,1002 L950,1002 L950,1002 L956,1014 L956,1014 L956,1014 L956,1014 L956,1014 L956,1014 L957,1014 L957,1014 L957,1014 L957,1015 L957,1015 L957,1015 L957,1015 L957,1015 L958,1014 L958,1014 L958,1014ZM932,944 L932,944 L932,945 L932,945 L932,945 L932,945 L932,945 L932,945 L933,945 L933,945 L933,945 L933,945 L933,945 L933,945 L933,945 L933,945 L934,945 L934,945 L934,945 L934,945 L934,945 L934,944 L934,944 L934,944 L934,944 L935,944 L935,944 L935,943 L935,943 L935,943 L935,943 L935,943 L935,943 L934,943 L934,943 L934,942 L934,942 L934,942 L934,942 L934,942 L934,942 L934,942 L934,942 L933,942 L933,942 L933,942 L933,942 L933,942 L933,942 L933,942 L933,942 L933,942 L932,943 L932,943 L932,943 L932,943 L932,943 L932,943 L932,943 L932,943 L932,944 L932,944 L932,944 L932,944 L932,944 L932,944 L932,944ZM944,939 L944,939 L944,939 L944,938 L944,938 L944,938 L943,938 L943,938 L943,938 L943,938 L943,938 L943,938 L943,939 L943,939 L943,939 L943,939 L942,939 L934,949 L934,949 L934,949 L934,949 L934,949 L934,949 L934,950 L933,958 L933,958 L933,958 L933,958 L933,958 L934,965 L934,965 L934,965 L934,965 L934,965 L934,965 L934,965 L934,965 L935,965 L945,972 L945,972 L945,972 L945,972 L945,973 L945,973 L945,973 L945,973 L946,973 L946,972 L946,972 L946,972 L946,972 L946,972 L946,972 L946,972 L946,972 L959,953 L959,953 L959,952 L959,952 L959,952 L959,952 L959,952 L959,952 L959,951 L959,951 L959,951 L959,951 L959,951 L959,951 L959,951 L959,951 L959,951ZM920,949 L920,949 L920,949 L920,949 L920,949 L920,949 L919,949 L919,950 L919,950 L919,950 L919,950 L919,950 L919,950 L919,950 L919,950 L919,951 L919,951 L919,951 L919,951 L920,951 L920,951 L920,951 L920,951 L920,951 L920,951 L928,955 L929,955 L929,955 L929,955 L929,955 L929,955 L929,955 L929,955 L929,955 L930,955 L930,955 L930,955 L930,955 L930,955 L930,955 L930,955 L930,955 L930,954 L930,954 L930,954 L931,949 L931,949 L931,949 L931,949 L931,949 L931,949 L931,949 L931,949 L929,946 L929,946 L929,946 L929,946 L929,946 L929,946 L929,946 L929,946 L929,946 L929,946 L928,946 L928,946 L928,946 L928,946 L928,946 L928,946ZM1073,1059 L1073,1059 L1073,1059 L1073,1059 L1073,1059 L1073,1059 L1073,1059 L1073,1058 L1073,1058 L1073,1058 L1073,1058 L1073,1058 L1073,1058 L1073,1058 L1073,1058 L1073,1058 L1073,1058 L1072,1058 L1072,1058 L1072,1058 L1067,1055 L1067,1055 L1067,1055 L1067,1055 L1066,1055 L1066,1055 L1066,1055 L1066,1055 L1066,1055 L1050,1059 L1050,1059 L1050,1059 L1050,1059 L1050,1060 L1031,1074 L1031,1074 L1031,1074 L1031,1074 L1026,1080 L1026,1080 L1026,1080 L1026,1080 L1026,1081 L1026,1081 L1026,1081 L1026,1081 L1026,1081 L1026,1081 L1026,1081 L1026,1081 L1026,1081 L1026,1081 L1026,1081 L1026,1082 L1026,1082 L1027,1082 L1027,1082 L1027,1082 L1027,1082 L1027,1082 L1027,1082 L1027,1082 L1027,1082 L1027,1082 L1062,1071 L1062,1071 L1062,1071 L1062,1071 L1062,1071 L1062,1071 L1062,1071ZM1058,1112 L1058,1112 L1058,1112 L1058,1111 L1058,1111 L1058,1111 L1058,1111 L1058,1111 L1058,1111 L1058,1111 L1058,1111 L1058,1111 L1058,1111 L1058,1110 L1058,1110 L1058,1110 L1058,1110 L1058,1110 L1058,1110 L1058,1110 L1057,1110 L1057,1110 L1057,1110 L1057,1110 L1057,1110 L1057,1110 L1052,1113 L1051,1113 L1051,1113 L1040,1121 L1040,1121 L1040,1121 L1039,1121 L1039,1121 L1039,1121 L1039,1121 L1039,1121 L1039,1121 L1039,1121 L1039,1122 L1039,1122 L1039,1122 L1039,1122 L1039,1122 L1039,1122 L1039,1122 L1040,1122 L1040,1122 L1040,1122 L1040,1122 L1040,1122 L1040,1123 L1040,1123 L1040,1123 L1040,1123 L1040,1123 L1052,1123 L1052,1123 L1052,1123 L1052,1123 L1052,1123 L1052,1122 L1052,1122 L1052,1122 L1052,1122 L1053,1122 L1053,1122 L1053,1122ZM1076,1099 L1076,1099 L1076,1099 L1076,1099 L1075,1099 L1075,1099 L1075,1099 L1075,1099 L1075,1099 L1075,1099 L1075,1099 L1075,1099 L1075,1100 L1075,1100 L1075,1100 L1075,1100 L1076,1100 L1076,1100 L1076,1100 L1076,1100 L1076,1100 L1076,1100 L1076,1100 L1076,1100 L1076,1100 L1076,1100 L1076,1100 L1076,1100 L1121,1092 L1121,1092 L1121,1092 L1121,1092 L1122,1092 L1124,1090 L1124,1090 L1125,1090 L1125,1090 L1125,1090 L1125,1090 L1125,1089 L1125,1089 L1125,1089 L1125,1089 L1125,1089 L1125,1089 L1125,1089 L1125,1089 L1125,1089 L1125,1089 L1125,1089 L1125,1089 L1120,1081 L1119,1081 L1119,1081 L1119,1081 L1119,1081 L1119,1081 L1107,1074 L1107,1074 L1107,1074 L1107,1074 L1107,1074 L1106,1074 L1106,1074 L1106,1074 L1106,1074 L1106,1074 L1106,1074 L1106,1074 L1106,1074ZM1116,1097 L1116,1097 L1116,1097 L1116,1096 L1116,1096 L1116,1096 L1116,1096 L1116,1096 L1116,1096 L1116,1096 L1116,1096 L1116,1096 L1116,1096 L1116,1096 L1116,1095 L1116,1095 L1116,1095 L1116,1095 L1115,1095 L1115,1095 L1115,1095 L1115,1095 L1115,1095 L1115,1095 L1115,1095 L1115,1095 L1115,1095 L1071,1103 L1070,1103 L1070,1103 L1070,1103 L1064,1107 L1064,1107 L1064,1107 L1064,1107 L1064,1107 L1064,1107 L1064,1107 L1056,1121 L1056,1122 L1056,1122 L1056,1122 L1056,1122 L1056,1122 L1056,1122 L1056,1122 L1056,1122 L1056,1122 L1056,1122 L1056,1122 L1056,1122 L1056,1123 L1056,1123 L1056,1123 L1056,1123 L1056,1123 L1056,1123 L1057,1123 L1057,1123 L1057,1123 L1086,1123 L1087,1123 L1087,1123 L1087,1123 L1087,1123 L1087,1123 L1087,1123 L1087,1123 L1087,1123Z" fill="#6d3e29"/>
<path d="M851,973 L851,973 L851,973 L850,973 L850,973 L850,974 L850,974 L850,974 L850,974 L851,974 L851,974 L851,974 L851,974 L851,975 L851,975 L851,975 L851,975 L851,975 L851,975 L852,975 L852,975 L853,975 L853,975 L853,975 L863,975 L863,975 L863,975 L863,975 L863,975 L863,975 L863,974 L863,974 L864,974 L864,974 L864,974 L869,964 L869,963 L869,963 L869,963 L869,963 L869,963 L869,963 L869,963 L869,962 L869,962 L869,962 L869,962 L869,962 L869,962 L869,962 L862,957 L862,956 L862,956 L862,956 L861,956 L861,956 L861,956 L861,956 L861,956 L861,956 L861,956 L860,956 L860,956 L860,957 L860,957 L860,957 L860,957 L860,957ZM808,998 L808,999 L808,999 L808,999 L808,999 L808,999 L807,999 L807,999 L807,999 L807,999 L807,999 L807,1000 L807,1000 L808,1000 L808,1000 L808,1000 L808,1000 L808,1000 L808,1000 L808,1000 L808,1000 L808,1000 L808,1000 L808,1001 L809,1001 L809,1001 L809,1001 L809,1000 L809,1000 L848,987 L849,987 L849,987 L849,987 L849,987 L849,987 L849,987 L849,987 L849,987 L849,987 L849,987 L849,986 L851,979 L851,979 L851,979 L851,979 L850,979 L850,979 L850,978 L850,978 L850,978 L850,978 L850,978 L850,978 L850,978 L850,978 L850,978 L848,977 L848,977 L847,977 L847,977 L847,977 L847,977 L847,977 L847,977 L822,986 L822,986 L822,986 L821,986 L821,986ZM855,979 L855,979 L855,979 L855,979 L854,979 L854,979 L854,979 L854,979 L854,979 L854,980 L854,980 L854,980 L854,980 L854,980 L853,983 L853,983 L853,983 L853,984 L853,984 L853,984 L853,984 L853,984 L853,984 L853,984 L854,984 L854,985 L854,985 L854,985 L854,985 L854,985 L854,985 L854,985 L855,985 L855,985 L855,985 L855,985 L858,984 L858,984 L858,984 L859,984 L859,983 L859,983 L859,983 L859,983 L859,983 L860,981 L860,981 L860,980 L860,980 L860,980 L860,980 L860,980 L860,980 L860,980 L860,980 L860,979 L860,979 L860,979 L860,979 L860,979 L860,979 L860,979 L859,979 L859,979 L859,979 L859,979 L859,979 L859,979ZM862,1028 L862,1028 L862,1028 L862,1028 L862,1028 L861,1028 L838,1039 L838,1039 L837,1040 L794,1073 L794,1073 L794,1073 L794,1073 L794,1074 L794,1074 L794,1074 L794,1074 L794,1074 L794,1074 L794,1074 L794,1075 L794,1075 L794,1075 L794,1075 L794,1075 L794,1075 L794,1075 L794,1075 L794,1076 L794,1076 L794,1076 L795,1076 L795,1076 L795,1076 L795,1076 L805,1076 L805,1076 L805,1076 L805,1076 L805,1076 L828,1067 L828,1067 L828,1066 L874,1036 L874,1036 L874,1036 L875,1036 L875,1036 L875,1036 L875,1036 L875,1036 L875,1035 L875,1035 L875,1035 L875,1035 L874,1030 L874,1030 L874,1029 L874,1029 L874,1029 L874,1029 L874,1029 L874,1029 L874,1029 L873,1029 L873,1029 L873,1029 L873,1029 L873,1029 L873,1029ZM801,1098 L801,1098 L801,1098 L822,1076 L822,1076 L822,1076 L824,1074 L824,1074 L824,1073 L824,1073 L824,1073 L824,1073 L824,1073 L824,1073 L824,1073 L824,1073 L824,1073 L824,1073 L824,1072 L824,1072 L824,1072 L823,1072 L823,1072 L823,1072 L823,1072 L823,1072 L823,1072 L823,1072 L823,1072 L823,1072 L823,1072 L822,1072 L806,1079 L806,1079 L806,1079 L806,1079 L756,1121 L756,1121 L756,1121 L756,1121 L756,1121 L756,1121 L756,1121 L756,1121 L756,1121 L756,1122 L756,1122 L756,1122 L756,1122 L756,1122 L756,1122 L756,1122 L756,1122 L756,1122 L756,1122 L756,1122 L756,1123 L757,1123 L757,1123 L757,1123 L757,1123 L757,1123 L760,1123 L760,1123 L760,1123 L760,1123 L760,1123 L760,1123 L760,1122ZM802,1101 L802,1101 L802,1101 L802,1101 L802,1101 L802,1101 L802,1101 L801,1101 L801,1101 L769,1120 L769,1120 L769,1120 L769,1121 L769,1121 L769,1121 L769,1121 L769,1121 L769,1121 L769,1121 L769,1121 L769,1121 L769,1122 L769,1122 L769,1122 L769,1122 L769,1122 L769,1122 L769,1122 L769,1122 L769,1122 L769,1122 L769,1122 L769,1122 L770,1123 L770,1123 L770,1123 L799,1123 L799,1123 L799,1123 L800,1122 L800,1122 L800,1122 L800,1122 L800,1122 L821,1107 L821,1107 L821,1107 L821,1107 L821,1107 L821,1106 L821,1106 L821,1106 L821,1106 L821,1106 L821,1106 L821,1106 L821,1106 L821,1106 L821,1105 L821,1105 L821,1105 L821,1105 L821,1105 L821,1105 L820,1105 L820,1105 L820,1105 L820,1105ZM962,951 L962,951 L962,951 L962,951 L962,951 L962,951 L962,951 L962,952 L962,952 L962,952 L962,953 L962,953 L973,977 L973,977 L973,977 L973,977 L973,977 L973,977 L973,977 L974,977 L974,977 L974,977 L974,977 L974,977 L974,977 L974,977 L974,977 L975,977 L987,973 L987,973 L988,973 L988,973 L988,973 L988,972 L988,972 L988,972 L988,972 L988,972 L988,972 L988,972 L989,969 L989,969 L989,969 L989,958 L989,958 L989,958 L989,958 L989,958 L989,958 L989,958 L979,942 L979,942 L979,942 L979,942 L979,942 L979,941 L979,941 L979,941 L978,941 L971,939 L971,939 L971,939 L971,939 L970,939 L970,939 L970,940 L970,940 L970,940 L970,940 L970,940 L970,940 L970,940ZM979,1012 L979,1012 L979,1012 L979,1012 L979,1013 L979,1013 L979,1013 L979,1013 L979,1013 L979,1013 L979,1013 L979,1013 L979,1014 L979,1014 L979,1014 L983,1028 L983,1028 L983,1028 L983,1028 L983,1029 L983,1029 L983,1029 L983,1029 L983,1029 L984,1029 L984,1029 L984,1029 L984,1029 L984,1029 L984,1029 L984,1029 L985,1029 L985,1029 L985,1029 L985,1029 L985,1029 L985,1029 L985,1029 L985,1028 L985,1028 L985,1028 L985,1028 L992,1009 L992,1009 L992,1009 L992,1009 L992,1009 L992,1009 L992,1008 L992,1008 L992,1008 L992,1008 L992,1008 L991,1008 L991,1008 L991,1008 L991,1008 L991,1008 L991,1007 L991,1007 L991,1007 L990,1007 L990,1007 L990,1007 L990,1007 L990,1007 L990,1008ZM958,1036 L958,1036 L958,1036 L959,1036 L959,1036 L959,1036 L959,1036 L959,1036 L959,1036 L979,1034 L980,1034 L980,1034 L980,1034 L980,1034 L980,1034 L980,1034 L980,1034 L980,1034 L980,1033 L980,1033 L981,1033 L981,1033 L981,1033 L981,1033 L981,1033 L981,1033 L981,1033 L981,1032 L975,1013 L975,1013 L975,1013 L975,1013 L975,1012 L975,1012 L974,1011 L974,1011 L973,1011 L973,1011 L973,1011 L973,1011 L973,1011 L973,1011 L973,1011 L973,1011 L973,1011 L972,1011 L972,1011 L972,1011 L958,1018 L958,1018 L958,1018 L958,1018 L957,1018 L957,1018 L957,1019 L957,1019 L957,1019 L957,1019 L957,1019 L955,1033 L955,1033 L955,1033 L955,1033 L955,1033 L955,1033 L955,1033 L956,1034 L956,1034 L956,1034 L956,1034ZM954,1018 L954,1018 L954,1018 L954,1018 L954,1018 L954,1017 L954,1017 L947,1005 L947,1004 L947,1004 L947,1004 L947,1004 L947,1004 L947,1004 L947,1004 L947,1004 L946,1004 L946,1004 L946,1004 L946,1004 L936,1004 L936,1004 L936,1004 L936,1004 L936,1004 L936,1004 L936,1004 L936,1005 L935,1005 L935,1005 L935,1005 L935,1005 L935,1005 L935,1005 L935,1005 L935,1005 L934,1025 L934,1025 L934,1025 L934,1025 L934,1025 L934,1025 L934,1026 L934,1026 L943,1037 L943,1037 L943,1038 L943,1038 L943,1038 L944,1038 L944,1038 L944,1038 L944,1038 L944,1038 L944,1038 L944,1038 L947,1038 L947,1038 L947,1038 L947,1038 L947,1037 L947,1037 L947,1037 L952,1033 L952,1033 L952,1033 L952,1033 L952,1033 L952,1033 L952,1033 L952,1033ZM913,1017 L913,1017 L913,1018 L913,1018 L913,1018 L914,1018 L917,1022 L917,1022 L917,1023 L917,1023 L918,1023 L918,1023 L918,1023 L918,1023 L918,1023 L929,1024 L929,1024 L929,1024 L930,1024 L930,1024 L930,1024 L930,1024 L930,1023 L930,1023 L930,1023 L930,1023 L931,1023 L931,1023 L931,1023 L931,1023 L931,1022 L931,1022 L932,1004 L932,1004 L932,1004 L932,1003 L932,1003 L932,1003 L932,1003 L932,1003 L922,989 L921,989 L921,989 L921,989 L921,989 L921,989 L921,989 L921,989 L921,988 L920,988 L920,988 L920,988 L918,989 L918,989 L917,989 L917,989 L917,989 L917,989 L917,989 L917,989 L917,989 L917,990 L917,990 L917,990 L916,990 L916,990 L913,1015 L913,1015 L913,1015 L913,1016ZM896,958 L896,958 L896,958 L896,958 L896,958 L895,958 L895,958 L895,958 L895,958 L895,958 L895,959 L895,959 L895,959 L895,959 L895,959 L895,959 L895,959 L895,959 L895,959 L899,969 L899,969 L899,970 L899,970 L899,970 L899,970 L899,970 L900,970 L901,971 L902,971 L902,971 L902,971 L902,971 L902,971 L902,971 L902,971 L902,971 L902,971 L903,971 L903,971 L903,971 L903,971 L903,971 L903,971 L903,970 L911,955 L911,955 L911,955 L911,955 L911,955 L911,954 L911,954 L911,954 L911,954 L911,954 L911,954 L911,954 L911,954 L911,954 L911,953 L911,953 L911,953 L911,953 L911,953 L910,953 L910,953 L910,953 L910,953 L910,953 L910,953 L910,953 L903,956 L902,956 L902,956ZM876,993 L876,993 L876,993 L876,993 L876,993 L876,993 L875,993 L875,993 L875,993 L875,993 L875,993 L875,993 L875,993 L874,993 L874,993 L874,993 L874,994 L874,994 L874,994 L874,994 L874,994 L874,994 L874,1000 L874,1000 L878,1027 L878,1027 L878,1027 L878,1027 L878,1027 L878,1027 L878,1027 L878,1027 L878,1028 L878,1028 L878,1028 L879,1028 L879,1028 L879,1028 L879,1028 L879,1028 L879,1028 L880,1028 L880,1028 L880,1028 L880,1028 L880,1028 L880,1027 L880,1027 L880,1027 L883,1024 L883,1024 L883,1023 L883,1023 L883,1023 L883,1023 L883,1023 L883,999 L883,999 L883,999 L883,999 L882,996 L882,996 L882,996 L882,996 L882,996 L882,996 L882,996 L881,995 L881,995ZM1007,1043 L1007,1043 L1007,1043 L1007,1043 L1012,1038 L1012,1038 L1012,1037 L1012,1037 L1012,1037 L1012,1037 L1012,1037 L1012,1037 L1012,1037 L1012,1037 L1012,1036 L1012,1036 L1012,1036 L1012,1036 L1012,1036 L1012,1036 L1012,1036 L1012,1036 L1012,1036 L1012,1036 L1012,1036 L1003,1033 L1003,1033 L1003,1033 L1003,1033 L1003,1033 L1003,1033 L1003,1033 L1002,1033 L1002,1033 L1002,1033 L1002,1033 L1002,1033 L1002,1033 L1002,1033 L1002,1033 L1002,1033 L1002,1034 L1002,1034 L1002,1034 L1002,1034 L1002,1044 L1002,1044 L1002,1044 L1002,1044 L1002,1044 L1002,1045 L1002,1045 L1002,1045 L1002,1045 L1002,1045 L1002,1045 L1002,1045 L1002,1045 L1003,1045 L1003,1045 L1003,1045 L1003,1045 L1003,1045 L1003,1045 L1003,1045 L1003,1045 L1004,1045ZM1012,1042 L1012,1042 L1012,1042 L1012,1042 L1012,1042 L1012,1042 L1012,1042 L1012,1042 L1012,1042 L1012,1043 L1012,1043 L1012,1043 L1012,1043 L1012,1043 L1012,1043 L1012,1043 L1012,1043 L1012,1043 L1012,1043 L1012,1043 L1013,1043 L1013,1043 L1013,1043 L1029,1045 L1029,1045 L1029,1045 L1029,1045 L1029,1045 L1030,1045 L1032,1044 L1032,1044 L1032,1044 L1033,1044 L1033,1044 L1033,1044 L1033,1044 L1033,1044 L1033,1043 L1033,1043 L1033,1043 L1033,1043 L1033,1043 L1033,1043 L1033,1043 L1033,1043 L1033,1043 L1033,1043 L1033,1042 L1033,1042 L1033,1042 L1033,1042 L1032,1042 L1032,1042 L1032,1042 L1032,1042 L1018,1037 L1018,1037 L1018,1037 L1018,1037 L1018,1037 L1018,1037 L1017,1037 L1017,1037 L1017,1037 L1015,1038 L1015,1038 L1015,1038 L1015,1039 L1015,1039ZM1002,1070 L1002,1070 L1002,1070 L1002,1070 L1002,1070 L1002,1071 L1002,1071 L1002,1071 L1002,1071 L1002,1071 L1002,1080 L1002,1081 L1002,1081 L1002,1081 L1002,1081 L1002,1081 L1002,1081 L1002,1081 L1002,1081 L1002,1081 L1002,1082 L1002,1082 L1002,1082 L1003,1082 L1003,1082 L1003,1082 L1003,1082 L1003,1082 L1003,1082 L1003,1082 L1004,1082 L1029,1071 L1029,1071 L1029,1071 L1029,1071 L1048,1057 L1048,1057 L1048,1057 L1048,1057 L1051,1053 L1051,1053 L1051,1052 L1051,1052 L1051,1052 L1051,1052 L1052,1052 L1052,1052 L1051,1050 L1051,1050 L1051,1050 L1051,1049 L1051,1049 L1051,1049 L1051,1049 L1051,1049 L1051,1049 L1051,1049 L1051,1049 L1051,1049 L1050,1049 L1039,1045 L1039,1045 L1039,1045 L1038,1045 L1038,1045 L1038,1045 L1038,1045 L1038,1045 L1030,1048 L1030,1048 L1030,1048 L1030,1048ZM1002,1121 L1002,1121 L1002,1121 L1002,1121 L1002,1121 L1002,1121 L1002,1121 L1002,1121 L1002,1121 L1002,1121 L1002,1122 L1002,1122 L1002,1122 L1002,1122 L1002,1122 L1002,1122 L1002,1122 L1002,1122 L1002,1122 L1002,1122 L1002,1122 L1002,1123 L1003,1123 L1003,1123 L1003,1123 L1003,1123 L1031,1123 L1032,1123 L1032,1123 L1032,1123 L1032,1123 L1032,1122 L1032,1122 L1046,1113 L1046,1113 L1046,1113 L1046,1113 L1047,1112 L1047,1112 L1047,1112 L1047,1112 L1047,1112 L1047,1112 L1047,1112 L1047,1112 L1047,1112 L1047,1112 L1047,1111 L1047,1111 L1047,1111 L1046,1111 L1046,1111 L1046,1111 L1046,1111 L1046,1111 L1046,1111 L1032,1105 L1032,1105 L1032,1104 L1032,1104 L1031,1104 L1031,1104 L1031,1104 L1031,1105 L1031,1105 L1031,1105 L1012,1113 L1012,1113 L1012,1113Z" fill="#784227"/>
<path d="M831,1069 L830,1069 L830,1070 L830,1070 L830,1070 L830,1070 L828,1073 L828,1073 L828,1073 L828,1073 L828,1073 L828,1073 L828,1074 L828,1074 L828,1074 L828,1074 L828,1074 L828,1074 L828,1074 L829,1075 L829,1075 L829,1075 L829,1075 L829,1075 L829,1075 L829,1075 L830,1075 L830,1075 L858,1077 L858,1077 L858,1077 L859,1077 L859,1077 L859,1077 L859,1077 L859,1077 L868,1070 L868,1070 L868,1069 L869,1069 L869,1069 L869,1069 L869,1069 L869,1069 L874,1044 L874,1044 L874,1044 L874,1044 L874,1044 L874,1044 L874,1043 L874,1043 L874,1043 L874,1043 L874,1043 L874,1043 L874,1043 L873,1043 L873,1042 L873,1042 L873,1042 L873,1042 L873,1042 L872,1042 L872,1042 L872,1042 L872,1042 L872,1043 L872,1043ZM867,1096 L867,1096 L867,1096 L867,1096 L868,1095 L868,1095 L868,1095 L868,1095 L868,1095 L868,1095 L868,1094 L867,1094 L867,1094 L867,1094 L867,1094 L867,1094 L867,1094 L867,1094 L867,1094 L867,1093 L866,1093 L866,1093 L866,1093 L866,1093 L866,1093 L844,1096 L844,1096 L844,1096 L844,1096 L843,1096 L843,1096 L827,1106 L827,1106 L810,1119 L810,1119 L810,1119 L809,1120 L809,1120 L809,1120 L809,1120 L809,1120 L809,1120 L809,1120 L809,1121 L809,1121 L809,1121 L809,1121 L809,1121 L809,1121 L809,1121 L810,1122 L810,1122 L810,1122 L810,1122 L810,1122 L810,1122 L810,1122 L811,1122 L811,1122 L845,1122 L845,1122 L845,1122 L845,1122 L845,1122 L846,1122 L846,1122 L846,1122 L846,1122 L846,1122ZM945,1001 L945,1001 L946,1001 L946,1001 L946,1001 L946,1001 L946,1001 L946,1000 L946,1000 L946,1000 L946,1000 L946,1000 L946,1000 L946,1000 L947,1000 L947,1000 L948,984 L948,984 L948,984 L948,983 L948,983 L945,976 L945,976 L945,976 L945,976 L945,976 L945,976 L944,976 L935,969 L934,969 L934,969 L934,969 L934,969 L934,969 L934,969 L934,969 L934,969 L934,969 L933,969 L933,969 L933,969 L933,969 L933,969 L933,969 L933,969 L933,969 L924,986 L924,986 L924,986 L924,986 L924,986 L924,986 L924,986 L924,986 L924,987 L924,987 L924,987 L924,987 L934,1001 L934,1001 L934,1001 L934,1001 L934,1001 L934,1001 L935,1001 L935,1001 L935,1001 L935,1001 L935,1001ZM915,985 L915,985 L915,985 L915,985 L916,986 L916,986 L916,986 L916,986 L916,986 L916,986 L916,986 L920,985 L920,985 L920,985 L921,985 L921,985 L921,985 L921,985 L921,985 L921,985 L921,984 L931,966 L931,966 L931,966 L931,966 L931,966 L931,966 L931,965 L931,965 L930,960 L930,960 L930,960 L930,959 L930,959 L930,959 L930,959 L930,959 L929,959 L929,959 L917,953 L917,953 L917,953 L916,953 L916,953 L916,953 L916,953 L916,953 L916,953 L916,953 L916,953 L916,953 L915,954 L915,954 L915,954 L915,954 L905,972 L905,973 L905,973 L905,973 L905,973 L905,973 L905,973 L905,973 L905,973 L905,974 L905,974 L905,974 L906,974ZM908,1011 L908,1011 L908,1011 L908,1011 L908,1011 L908,1011 L909,1011 L909,1011 L909,1011 L909,1011 L909,1011 L909,1011 L909,1011 L909,1011 L910,1011 L910,1011 L910,1011 L910,1011 L910,1010 L910,1010 L910,1010 L913,989 L913,988 L913,988 L913,988 L913,988 L913,988 L913,988 L913,988 L913,988 L913,987 L902,975 L902,975 L902,975 L902,975 L902,975 L900,974 L900,974 L900,974 L899,974 L899,974 L899,974 L899,974 L899,974 L899,974 L899,974 L898,974 L898,974 L898,974 L898,974 L898,974 L898,974 L886,994 L886,994 L886,994 L886,994 L886,994 L886,995 L886,995 L886,995 L886,995 L886,995 L886,997 L886,997 L886,997 L886,997 L887,998 L887,998 L887,998 L887,998ZM892,960 L892,960 L892,960 L892,960 L892,959 L892,959 L892,959 L892,959 L891,959 L891,959 L891,959 L891,959 L891,959 L891,959 L891,959 L874,963 L874,963 L874,963 L874,963 L874,963 L874,963 L874,963 L874,963 L874,963 L874,964 L874,964 L874,964 L873,964 L873,964 L873,964 L873,980 L873,980 L873,981 L874,981 L875,988 L876,988 L876,988 L876,988 L876,988 L876,989 L876,989 L876,989 L876,989 L876,989 L882,992 L882,992 L882,992 L882,992 L882,992 L883,992 L883,992 L883,992 L883,992 L883,992 L883,992 L883,992 L883,992 L883,992 L883,991 L883,991 L896,971 L896,971 L896,971 L896,971 L896,971 L896,971 L896,971 L896,970 L896,970 L896,970 L896,970ZM1024,1049 L1024,1049 L1024,1049 L1024,1049 L1024,1049 L1024,1049 L1024,1049 L1024,1049 L1024,1049 L1024,1048 L1024,1048 L1024,1048 L1024,1048 L1024,1048 L1024,1048 L1024,1048 L1024,1048 L1024,1048 L1024,1048 L1023,1047 L1023,1047 L1023,1047 L1023,1047 L1023,1047 L1023,1047 L1009,1046 L1009,1046 L1009,1046 L1009,1046 L1008,1046 L1008,1046 L1008,1046 L1008,1046 L1002,1049 L1002,1049 L1002,1050 L1002,1050 L1002,1050 L1002,1050 L1002,1050 L1002,1050 L1001,1050 L1001,1050 L1001,1050 L1001,1050 L1001,1064 L1001,1064 L1001,1065 L1001,1065 L1002,1065 L1002,1065 L1002,1065 L1002,1065 L1002,1065 L1002,1065 L1002,1065 L1002,1065 L1002,1065 L1002,1065 L1002,1065 L1002,1065 L1003,1065 L1003,1065 L1003,1065 L1003,1065 L1003,1065 L1003,1065 L1003,1065 L1003,1065ZM1020,1084 L1020,1084 L1020,1084 L1022,1081 L1022,1080 L1022,1080 L1022,1080 L1022,1080 L1022,1080 L1022,1080 L1022,1080 L1022,1080 L1022,1079 L1022,1079 L1022,1079 L1022,1079 L1022,1079 L1022,1079 L1022,1079 L1022,1079 L1022,1079 L1022,1078 L1021,1078 L1021,1078 L1021,1078 L1021,1078 L1021,1078 L1021,1078 L1021,1078 L1021,1078 L1003,1086 L1002,1086 L1002,1086 L1002,1086 L1002,1086 L1002,1086 L1002,1086 L1002,1086 L1002,1086 L1002,1087 L1002,1087 L1002,1087 L1002,1087 L1002,1097 L1002,1097 L1002,1097 L1002,1097 L1002,1097 L1002,1098 L1002,1098 L1002,1098 L1002,1098 L1002,1098 L1002,1098 L1003,1098 L1003,1098 L1003,1098 L1003,1098 L1003,1098 L1003,1098 L1003,1098 L1003,1098 L1004,1098 L1004,1098 L1004,1098 L1004,1098 L1004,1098ZM1022,1086 L1022,1086 L1022,1086 L1022,1086 L1022,1086 L1002,1104 L1002,1104 L1002,1104 L1002,1105 L1002,1105 L1002,1105 L1002,1105 L1002,1105 L1002,1105 L1002,1105 L1002,1107 L1002,1107 L1002,1107 L1002,1107 L1002,1107 L1002,1107 L1002,1107 L1002,1107 L1002,1108 L1002,1108 L1002,1108 L1002,1108 L1002,1108 L1003,1108 L1010,1110 L1011,1110 L1011,1110 L1011,1110 L1011,1110 L1011,1110 L1011,1110 L1011,1110 L1030,1101 L1031,1101 L1031,1101 L1031,1101 L1061,1077 L1061,1077 L1061,1077 L1061,1077 L1061,1077 L1061,1077 L1061,1077 L1061,1077 L1061,1076 L1061,1076 L1061,1076 L1061,1076 L1061,1076 L1061,1076 L1061,1076 L1061,1075 L1061,1075 L1061,1075 L1061,1075 L1061,1075 L1061,1075 L1060,1075 L1060,1075 L1060,1075 L1060,1075 L1060,1075 L1060,1075 L1060,1075 L1059,1075Z" fill="#844424"/>
<path d="M842,1092 L842,1092 L842,1092 L851,1084 L852,1083 L852,1083 L852,1083 L852,1083 L852,1083 L852,1083 L852,1083 L852,1082 L852,1082 L852,1082 L852,1082 L852,1082 L852,1082 L852,1081 L852,1081 L852,1081 L851,1081 L851,1081 L851,1081 L851,1081 L851,1081 L851,1081 L851,1081 L850,1081 L825,1079 L825,1079 L825,1079 L825,1079 L824,1079 L824,1079 L824,1079 L824,1079 L824,1079 L824,1079 L808,1096 L808,1096 L808,1096 L807,1096 L807,1096 L807,1096 L807,1096 L807,1097 L807,1097 L807,1097 L807,1097 L807,1097 L807,1097 L807,1098 L807,1098 L808,1098 L808,1098 L808,1098 L808,1098 L808,1098 L808,1098 L808,1098 L809,1098 L825,1102 L825,1102 L825,1102 L826,1102 L826,1102 L826,1102 L826,1102 L826,1102 L826,1102ZM872,1072 L872,1072 L861,1081 L861,1081 L854,1087 L854,1087 L854,1087 L854,1088 L854,1088 L854,1088 L853,1088 L853,1088 L853,1088 L853,1089 L853,1089 L853,1089 L853,1089 L854,1089 L854,1089 L854,1090 L854,1090 L854,1090 L854,1090 L854,1090 L854,1090 L855,1090 L855,1090 L855,1090 L855,1090 L855,1090 L855,1090 L873,1088 L873,1088 L873,1088 L874,1088 L874,1088 L875,1088 L875,1087 L875,1087 L875,1087 L875,1087 L875,1087 L875,1087 L876,1087 L876,1086 L876,1086 L876,1086 L877,1073 L877,1073 L877,1072 L877,1072 L877,1072 L877,1072 L876,1072 L876,1072 L876,1071 L876,1071 L876,1071 L876,1071 L876,1071 L876,1071 L875,1071 L875,1071 L875,1071 L875,1071 L875,1071 L874,1071 L874,1071 L874,1071 L874,1071ZM875,1098 L875,1098 L875,1098 L875,1098 L875,1097 L875,1097 L875,1097 L875,1097 L874,1097 L874,1097 L874,1097 L874,1096 L874,1096 L874,1096 L874,1096 L873,1096 L873,1096 L873,1096 L873,1096 L873,1096 L873,1096 L872,1096 L872,1096 L872,1096 L872,1097 L872,1097 L872,1097 L853,1119 L853,1119 L853,1119 L853,1119 L853,1120 L853,1120 L853,1120 L853,1120 L853,1120 L853,1120 L853,1121 L853,1121 L853,1121 L853,1121 L853,1121 L854,1121 L854,1121 L854,1122 L854,1122 L854,1122 L854,1122 L854,1122 L855,1122 L855,1122 L857,1122 L857,1122 L857,1122 L858,1122 L858,1122 L858,1122 L858,1122 L873,1111 L873,1111 L873,1111 L874,1111 L874,1111 L874,1111 L874,1111 L874,1110 L874,1110 L874,1110ZM932,1028 L932,1028 L932,1028 L931,1028 L931,1028 L931,1028 L931,1028 L931,1028 L931,1028 L930,1028 L921,1027 L921,1027 L921,1027 L921,1027 L920,1027 L920,1027 L920,1027 L920,1027 L920,1027 L920,1028 L920,1028 L920,1028 L919,1028 L919,1028 L919,1028 L919,1028 L919,1029 L919,1029 L919,1029 L919,1031 L919,1031 L920,1031 L920,1031 L920,1031 L920,1032 L920,1032 L920,1032 L920,1032 L920,1032 L920,1032 L921,1032 L921,1032 L933,1036 L934,1036 L934,1036 L934,1036 L934,1036 L934,1036 L934,1036 L935,1036 L935,1036 L935,1036 L935,1036 L935,1035 L935,1035 L935,1035 L935,1035 L935,1035 L936,1035 L936,1034 L936,1034 L936,1034 L936,1034 L936,1034 L935,1034 L935,1033 L935,1033 L935,1033ZM908,1026 L908,1026 L908,1027 L907,1027 L907,1027 L907,1027 L907,1027 L907,1027 L907,1028 L907,1028 L907,1028 L907,1028 L908,1028 L908,1028 L908,1028 L908,1029 L908,1029 L908,1029 L908,1029 L908,1029 L909,1029 L913,1030 L913,1030 L913,1030 L913,1030 L914,1030 L914,1030 L914,1030 L914,1030 L914,1030 L914,1030 L914,1030 L915,1030 L915,1030 L915,1030 L915,1029 L915,1029 L915,1029 L915,1029 L915,1029 L915,1029 L915,1028 L915,1026 L915,1026 L915,1026 L915,1025 L915,1025 L914,1025 L914,1025 L913,1023 L913,1023 L913,1023 L912,1023 L912,1023 L912,1023 L912,1023 L912,1023 L912,1023 L912,1023 L911,1023 L911,1023 L911,1023 L911,1023 L911,1023 L911,1023 L911,1023 L910,1023 L910,1023ZM887,1022 L887,1022 L887,1022 L887,1022 L888,1022 L888,1022 L888,1023 L888,1023 L888,1023 L888,1023 L888,1023 L888,1023 L898,1029 L899,1029 L899,1029 L899,1029 L899,1029 L899,1029 L899,1029 L900,1029 L900,1029 L900,1029 L900,1029 L900,1029 L900,1029 L900,1029 L901,1029 L909,1019 L909,1018 L909,1018 L909,1018 L909,1018 L909,1018 L909,1018 L909,1018 L909,1017 L909,1017 L909,1017 L909,1017 L909,1017 L909,1017 L909,1016 L909,1016 L909,1016 L908,1016 L890,1004 L890,1004 L889,1004 L889,1004 L889,1004 L889,1004 L889,1004 L889,1004 L888,1004 L888,1004 L888,1004 L888,1004 L888,1004 L888,1004 L888,1004 L888,1005 L887,1005 L887,1005 L887,1005 L887,1005 L887,1005 L887,1005 L887,1006ZM906,1033 L906,1033 L906,1033 L906,1033 L905,1033 L905,1033 L905,1033 L905,1033 L905,1033 L905,1034 L905,1034 L901,1038 L901,1038 L901,1038 L901,1039 L901,1039 L900,1039 L900,1039 L900,1039 L900,1039 L900,1039 L901,1040 L901,1040 L901,1040 L901,1040 L901,1040 L901,1040 L901,1040 L901,1041 L901,1041 L901,1041 L902,1041 L902,1041 L950,1051 L951,1051 L951,1051 L962,1051 L962,1051 L962,1051 L963,1051 L963,1051 L963,1051 L963,1051 L963,1051 L963,1050 L963,1050 L964,1050 L967,1044 L967,1044 L968,1044 L968,1044 L968,1043 L968,1043 L968,1043 L968,1043 L968,1043 L968,1043 L968,1042 L967,1042 L967,1042 L967,1042 L967,1042 L967,1042 L967,1042 L967,1042 L967,1042 L966,1042 L966,1042 L957,1040 L957,1040 L956,1040 L956,1040 L940,1042 L940,1042 L940,1042 L940,1042 L939,1042 L911,1034 L911,1034ZM974,1042 L974,1042 L974,1042 L973,1042 L973,1042 L973,1042 L973,1042 L973,1042 L973,1043 L973,1043 L968,1050 L968,1050 L968,1050 L968,1050 L968,1050 L968,1050 L968,1050 L968,1051 L968,1051 L968,1051 L968,1051 L968,1051 L968,1051 L968,1051 L969,1052 L969,1052 L969,1052 L969,1052 L969,1052 L969,1052 L969,1052 L989,1055 L989,1055 L989,1055 L990,1055 L990,1055 L990,1055 L990,1055 L990,1055 L990,1055 L990,1055 L990,1054 L991,1054 L991,1054 L991,1054 L991,1054 L991,1054 L991,1054 L991,1054 L991,1053 L991,1053 L991,1053 L991,1053 L991,1053 L986,1042 L986,1041 L986,1041 L986,1041 L986,1041 L985,1041 L985,1041 L985,1041 L985,1041 L985,1041 L985,1041 L985,1041 L984,1041 L984,1041ZM964,1055 L964,1055 L951,1055 L951,1055 L951,1055 L950,1055 L926,1062 L925,1062 L925,1062 L925,1062 L925,1062 L925,1062 L925,1062 L925,1062 L925,1062 L924,1062 L924,1063 L924,1063 L924,1063 L924,1063 L924,1063 L924,1063 L924,1064 L924,1064 L924,1064 L925,1064 L925,1064 L925,1064 L925,1064 L925,1064 L925,1065 L925,1065 L925,1065 L948,1074 L948,1074 L948,1074 L949,1074 L949,1074 L949,1074 L949,1074 L991,1065 L991,1065 L991,1065 L991,1065 L991,1065 L992,1065 L992,1064 L992,1064 L992,1064 L992,1064 L993,1062 L993,1061 L993,1061 L993,1061 L993,1061 L993,1061 L993,1061 L993,1060 L993,1060 L993,1060 L993,1060 L993,1060 L993,1060 L993,1060 L993,1059 L993,1059 L993,1059 L992,1059 L992,1059 L992,1059ZM993,1069 L993,1069 L993,1069 L993,1069 L993,1069 L993,1069 L955,1076 L955,1076 L955,1076 L955,1077 L955,1077 L955,1077 L955,1077 L954,1077 L954,1077 L954,1077 L954,1077 L954,1077 L954,1078 L954,1078 L954,1078 L954,1078 L954,1078 L954,1078 L954,1079 L954,1079 L954,1079 L954,1079 L955,1079 L958,1082 L958,1083 L958,1083 L958,1083 L958,1083 L959,1083 L959,1083 L959,1083 L959,1083 L997,1082 L997,1082 L997,1082 L997,1082 L997,1082 L997,1082 L997,1082 L997,1081 L998,1081 L998,1081 L998,1081 L998,1081 L998,1081 L998,1081 L998,1081 L998,1080 L998,1080 L998,1071 L998,1071 L998,1071 L998,1071 L998,1071 L998,1070 L998,1070 L998,1070 L998,1070 L997,1070 L997,1070 L997,1070 L997,1070 L997,1070ZM956,1088 L956,1088 L956,1088 L955,1088 L952,1088 L952,1088 L951,1088 L951,1088 L951,1088 L951,1088 L951,1088 L951,1089 L951,1089 L951,1089 L951,1089 L950,1089 L950,1089 L950,1090 L950,1090 L950,1090 L950,1090 L950,1090 L950,1091 L950,1091 L950,1091 L950,1091 L950,1091 L951,1091 L951,1091 L951,1091 L951,1092 L951,1092 L988,1109 L989,1109 L989,1109 L989,1109 L989,1109 L997,1109 L997,1109 L997,1109 L997,1109 L997,1109 L997,1109 L998,1109 L998,1109 L998,1109 L998,1109 L998,1109 L998,1109 L998,1109 L998,1108 L998,1108 L998,1108 L998,1108 L998,1098 L998,1098 L998,1097 L998,1097 L998,1097 L998,1097 L998,1097 L998,1097 L998,1097 L998,1097 L998,1096 L997,1096 L997,1096 L997,1096 L997,1096Z" fill="#8f4822"/>
<path d="M874,1063 L874,1063 L874,1063 L874,1063 L874,1063 L874,1064 L874,1064 L874,1064 L874,1064 L875,1064 L875,1064 L875,1064 L875,1064 L875,1064 L875,1065 L875,1065 L875,1065 L876,1065 L876,1065 L876,1065 L876,1065 L876,1065 L876,1065 L876,1065 L877,1064 L877,1064 L877,1064 L877,1064 L877,1064 L878,1064 L878,1064 L878,1064 L878,1063 L878,1063 L878,1063 L878,1063 L878,1060 L878,1060 L878,1060 L878,1060 L878,1060 L878,1060 L878,1059 L878,1059 L878,1059 L878,1059 L877,1059 L877,1059 L877,1059 L877,1059 L877,1059 L877,1059 L877,1059 L876,1059 L876,1059 L876,1059 L876,1059 L876,1059 L876,1059 L876,1059 L875,1059 L875,1059 L875,1059 L875,1059 L875,1059 L875,1060 L875,1060 L875,1060ZM881,1033 L881,1033 L881,1033 L881,1034 L881,1034 L881,1034 L881,1034 L881,1034 L881,1034 L882,1047 L883,1047 L883,1047 L883,1048 L883,1048 L883,1048 L883,1048 L883,1048 L883,1048 L883,1048 L885,1049 L885,1049 L885,1049 L885,1049 L885,1049 L885,1049 L886,1049 L886,1049 L886,1049 L886,1049 L886,1049 L886,1049 L886,1049 L887,1049 L887,1049 L887,1049 L898,1035 L898,1035 L898,1035 L898,1035 L898,1035 L898,1035 L898,1035 L898,1034 L898,1034 L898,1034 L898,1034 L898,1034 L898,1034 L898,1034 L898,1033 L898,1033 L898,1033 L898,1033 L898,1033 L887,1027 L887,1027 L887,1027 L887,1027 L887,1027 L886,1027 L886,1027 L886,1027 L886,1027 L886,1027 L886,1027 L886,1027 L885,1027 L885,1027 L885,1027 L885,1028ZM914,1060 L914,1060 L914,1060 L914,1060 L914,1060 L933,1055 L933,1055 L933,1055 L934,1055 L934,1055 L934,1055 L934,1055 L934,1054 L934,1054 L934,1054 L934,1054 L934,1054 L934,1054 L934,1053 L934,1053 L934,1053 L934,1053 L934,1053 L934,1053 L934,1052 L934,1052 L934,1052 L934,1052 L934,1052 L934,1052 L933,1052 L933,1052 L933,1052 L897,1044 L897,1044 L897,1044 L897,1044 L897,1044 L896,1044 L896,1044 L896,1044 L896,1044 L896,1045 L896,1045 L896,1045 L887,1055 L887,1055 L887,1055 L887,1055 L887,1056 L887,1056 L887,1056 L887,1056 L887,1056 L887,1057 L887,1057 L887,1057 L887,1057 L887,1057 L887,1057 L887,1057 L887,1058 L887,1058 L888,1058 L888,1058 L888,1058 L888,1058 L888,1058ZM983,1086 L983,1086 L982,1086 L982,1086 L982,1086 L982,1086 L982,1086 L982,1087 L982,1087 L981,1087 L981,1087 L981,1087 L981,1087 L981,1087 L981,1087 L981,1088 L981,1088 L981,1088 L981,1088 L981,1088 L981,1088 L981,1089 L981,1089 L981,1089 L982,1089 L982,1089 L982,1089 L982,1089 L982,1089 L982,1089 L982,1089 L996,1092 L996,1092 L996,1092 L997,1092 L997,1092 L997,1092 L997,1092 L997,1092 L997,1092 L997,1092 L998,1092 L998,1092 L998,1092 L998,1091 L998,1091 L998,1091 L998,1091 L998,1091 L998,1091 L998,1087 L998,1087 L998,1087 L998,1087 L998,1087 L998,1087 L998,1086 L998,1086 L998,1086 L997,1086 L997,1086 L997,1086 L997,1086 L997,1086 L997,1086 L997,1086 L996,1086ZM977,1112 L978,1112 L978,1111 L978,1111 L978,1111 L978,1111 L978,1111 L978,1111 L978,1111 L979,1111 L979,1111 L979,1110 L979,1110 L979,1110 L979,1110 L979,1110 L979,1110 L979,1109 L979,1109 L978,1109 L978,1109 L978,1109 L978,1109 L978,1109 L978,1108 L978,1108 L948,1095 L948,1095 L948,1094 L948,1094 L948,1094 L948,1094 L947,1094 L947,1095 L947,1095 L917,1105 L917,1105 L917,1105 L917,1106 L916,1106 L916,1106 L916,1106 L916,1106 L916,1106 L916,1106 L916,1107 L916,1107 L916,1107 L916,1107 L916,1107 L916,1107 L916,1107 L916,1108 L916,1108 L916,1108 L916,1108 L916,1108 L917,1108 L917,1108 L917,1108 L917,1109 L917,1109 L917,1109 L917,1109 L973,1112 L974,1112 L974,1112 L974,1112ZM989,1113 L989,1113 L988,1113 L988,1113 L982,1114 L982,1114 L981,1115 L981,1115 L981,1115 L981,1115 L981,1115 L981,1115 L981,1115 L981,1115 L981,1115 L981,1115 L981,1116 L981,1116 L981,1116 L981,1116 L981,1116 L981,1116 L981,1116 L981,1116 L981,1117 L981,1117 L981,1117 L981,1117 L981,1117 L990,1122 L990,1122 L990,1122 L990,1122 L991,1122 L991,1122 L997,1122 L997,1122 L997,1122 L997,1122 L997,1122 L998,1122 L998,1122 L998,1122 L998,1122 L998,1122 L998,1122 L998,1122 L998,1121 L998,1121 L998,1121 L998,1121 L998,1121 L998,1114 L998,1114 L998,1114 L998,1114 L998,1114 L998,1114 L998,1114 L998,1113 L998,1113 L998,1113 L998,1113 L998,1113 L997,1113 L997,1113 L997,1113 L997,1113 L997,1113Z" fill="#9a4a1f"/>
<path d="M884,1062 L884,1062 L883,1062 L883,1062 L883,1062 L883,1062 L883,1062 L883,1062 L882,1062 L882,1062 L882,1063 L882,1063 L882,1063 L882,1063 L882,1063 L882,1063 L882,1064 L881,1079 L881,1079 L881,1079 L881,1079 L881,1079 L881,1080 L881,1080 L881,1080 L881,1080 L881,1080 L881,1080 L881,1080 L882,1080 L882,1080 L882,1081 L882,1081 L882,1081 L949,1084 L949,1084 L949,1084 L950,1084 L950,1084 L950,1084 L951,1084 L951,1084 L951,1084 L951,1084 L951,1084 L951,1084 L951,1084 L951,1083 L952,1083 L952,1083 L952,1083 L952,1083 L952,1083 L952,1082 L952,1082 L952,1082 L951,1082 L951,1082 L951,1082 L951,1082 L951,1081 L948,1078 L947,1078 L947,1078 L947,1078 L947,1077 L914,1065 L914,1065 L914,1065 L913,1065ZM887,1105 L887,1105 L887,1105 L898,1107 L899,1107 L899,1107 L899,1107 L899,1107 L899,1107 L941,1092 L941,1092 L941,1092 L941,1092 L941,1092 L941,1092 L942,1091 L942,1091 L942,1091 L942,1091 L942,1091 L942,1091 L942,1090 L942,1090 L942,1090 L942,1090 L942,1090 L942,1090 L942,1089 L942,1089 L941,1089 L941,1089 L941,1089 L941,1089 L941,1089 L941,1089 L940,1088 L940,1088 L940,1088 L882,1085 L882,1085 L882,1085 L882,1085 L882,1085 L881,1085 L881,1085 L881,1085 L881,1086 L881,1086 L881,1086 L881,1086 L880,1086 L880,1086 L880,1086 L880,1087 L880,1087 L879,1100 L879,1100 L879,1101 L879,1101 L879,1101 L879,1101 L879,1101 L880,1101 L880,1102 L880,1102 L880,1102 L880,1102 L880,1102 L880,1102ZM896,1113 L896,1113 L896,1112 L896,1112 L896,1112 L896,1112 L896,1112 L896,1112 L896,1112 L896,1111 L896,1111 L896,1111 L895,1111 L895,1111 L895,1111 L895,1111 L895,1111 L895,1111 L886,1109 L886,1109 L886,1109 L880,1109 L880,1109 L879,1109 L879,1109 L879,1109 L879,1109 L879,1109 L879,1109 L879,1109 L878,1109 L878,1109 L878,1110 L878,1110 L878,1110 L878,1110 L878,1110 L878,1110 L877,1120 L877,1120 L877,1121 L877,1121 L877,1121 L877,1121 L877,1121 L878,1121 L878,1121 L878,1122 L878,1122 L878,1122 L878,1122 L878,1122 L878,1122 L879,1122 L879,1122 L879,1122 L892,1122 L893,1122 L893,1122 L893,1122 L893,1122 L893,1122 L893,1122 L894,1122 L894,1121 L894,1121 L894,1121 L894,1121 L894,1121 L894,1121ZM902,1112 L902,1112 L902,1112 L901,1112 L901,1112 L901,1112 L901,1112 L901,1112 L901,1112 L901,1112 L901,1112 L900,1113 L900,1113 L900,1113 L900,1113 L899,1120 L898,1120 L898,1120 L898,1120 L898,1120 L899,1121 L899,1121 L899,1121 L899,1121 L899,1121 L899,1121 L899,1121 L899,1122 L899,1122 L899,1122 L900,1122 L900,1122 L900,1122 L900,1122 L900,1122 L976,1122 L976,1122 L976,1122 L976,1122 L976,1122 L977,1122 L977,1122 L977,1122 L977,1121 L977,1121 L977,1121 L977,1121 L977,1121 L977,1121 L978,1121 L978,1120 L978,1120 L978,1120 L978,1120 L978,1120 L977,1120 L977,1119 L977,1119 L977,1119 L977,1119 L977,1119 L977,1119 L977,1119 L974,1117 L973,1117 L973,1117 L973,1117 L973,1117 L973,1117Z" fill="#a04c1e"/>
</g>
<path d="M586,1095 L592,1045 L603,1016 L631,999 L667,986 L703,968 L736,959 L747,948 L776,937 L801,935 L815,944 L841,939 L859,952 L872,962 L860,985 L800,1005 L745,1025 L700,1048 L650,1085 L625,1124 L586,1124Z M625,1124 L650,1085 L700,1048 L745,1025 L800,1005 L860,985 L872,1000 L880,1060 L875,1124Z M872,962 L902,955 L928,944 L939,935 L968,934 L993,946 L1000,990 L985,1035 L940,1040 L905,1030 L880,1060 L872,1000Z M880,1060 L905,1030 L940,1040 L985,1035 L1000,1070 L1000,1124 L875,1124Z M993,946 L1007,957 L1040,968 L1076,979 L1112,991 L1152,1006 L1178,1017 L1187,1031 L1189,1124 L1150,1124 L1120,1080 L1060,1050 L1000,1030 L1000,990Z M1000,1030 L1060,1050 L1120,1080 L1150,1124 L1000,1124 L1000,1070Z" filter="url(#blot)"/>
<path d="M586,1124 L586,1040 L603,1016 L667,986 L720,962 L720,1124 Z M1060,970 L1112,991 L1178,1017 L1189,1031 L1189,1124 L1060,1124 Z" filter="url(#ashf)" opacity="0.8"/>
<path d="M625,1122 L650,1085 L700,1048 L745,1025 L800,1005 L860,985 L872,962 M872,1000 L880,1060 L875,1122 M1000,990 L1000,1122 M1000,1030 L1060,1050 L1120,1080 L1150,1122" fill="none" stroke="#1c1414" stroke-width="6" opacity="0.55" stroke-linejoin="round" filter="url(#bl15)"/>
<path d="M868,975 L876,1030 L882,1062 L905,1032 M1000,1072 L990,1100 L975,1122" fill="none" stroke="#ffb030" stroke-width="5" opacity="0.85" stroke-linejoin="round" stroke-linecap="round" filter="url(#bl15)"/>
<path d="M872,990 L878,1040 M985,1090 L975,1118" fill="none" stroke="#ffe070" stroke-width="2.5" opacity="0.7" stroke-linecap="round" filter="url(#bl15)"/>
<ellipse cx="640" cy="1075" rx="60" ry="50" fill="#2a2226" opacity="0.35" filter="url(#bl10)"/>
<ellipse cx="1150" cy="1085" rx="50" ry="45" fill="#2a2226" opacity="0.35" filter="url(#bl10)"/>
<ellipse cx="935" cy="1090" rx="55" ry="28" fill="#ff8a20" opacity="0.35" filter="url(#bl10)"/>
<path d="M607,1123.7 L1189,1123.7 L1189,1143.6 L607,1143.6 Z" fill="#2c2624"/>
<path d="M656,1092 L677.7,1092 L679.7,1125 L654,1125 Z" fill="#2a2422"/>
<path d="M817,1092 L839,1092 L841,1125 L815,1125 Z" fill="#2a2422"/>
<path d="M973,1092 L993,1092 L995,1125 L971,1125 Z" fill="#2a2422"/>
<path d="M1123.3,1092 L1143.2,1092 L1145.2,1125 L1121.3,1125 Z" fill="#2a2422"/>
<path d="M560,1080 L590,1085 L612,1124 L612,1146 L600,1195 L560,1195 Z" fill="#2a1a16" opacity="0.85" filter="url(#bl4)"/>
<rect x="568" y="1143.6" width="622" height="48" fill="url(#gUnder2)"/>
<g filter="url(#rough)">
<path d="M612,1152 L612,1152 L611,1152 L611,1152 L611,1152 L611,1153 L610,1153 L610,1153 L610,1153 L610,1153 L610,1153 L610,1153 L610,1154 L610,1154 L610,1154 L610,1154 L609,1155 L610,1155 L610,1155 L610,1155 L610,1155 L610,1156 L610,1156 L610,1156 L610,1156 L610,1156 L621,1165 L621,1165 L621,1165 L621,1165 L622,1165 L622,1165 L622,1165 L622,1165 L623,1165 L680,1159 L681,1159 L681,1159 L681,1159 L681,1158 L681,1158 L682,1158 L682,1158 L682,1158 L682,1158 L682,1158 L682,1157 L682,1157 L682,1157 L682,1157 L683,1155 L683,1154 L683,1154 L682,1154 L682,1154 L682,1154 L682,1153 L682,1153 L682,1153 L682,1153 L682,1153 L682,1153 L681,1153 L681,1152 L681,1152 L681,1152 L681,1152 L680,1152ZM622,1171 L622,1171 L622,1171 L622,1171 L622,1171 L621,1171 L621,1171 L621,1170 L621,1170 L620,1170 L620,1170 L620,1171 L620,1171 L620,1171 L619,1171 L605,1180 L605,1180 L604,1180 L604,1180 L604,1180 L604,1180 L604,1181 L604,1181 L604,1181 L604,1181 L604,1181 L604,1182 L604,1182 L604,1182 L604,1182 L604,1183 L604,1183 L604,1183 L604,1183 L605,1183 L605,1183 L605,1184 L605,1184 L605,1184 L605,1184 L606,1184 L606,1184 L629,1184 L629,1184 L629,1184 L629,1184 L630,1184 L630,1184 L630,1183 L630,1183 L630,1183 L630,1183 L631,1183 L631,1183 L631,1182 L631,1182 L631,1182 L631,1182 L631,1182 L631,1181 L631,1181 L631,1181 L631,1181 L631,1181 L631,1180 L630,1180 L630,1180ZM708,1179 L708,1179 L709,1178 L709,1178 L709,1178 L709,1178 L709,1178 L709,1178 L709,1178 L709,1177 L709,1177 L709,1177 L709,1177 L709,1177 L709,1177 L709,1176 L709,1176 L708,1176 L708,1176 L708,1176 L708,1176 L684,1163 L684,1163 L684,1163 L684,1162 L684,1162 L684,1162 L683,1162 L629,1169 L629,1169 L629,1169 L629,1169 L628,1169 L628,1169 L628,1169 L628,1169 L628,1169 L628,1169 L628,1169 L628,1170 L628,1170 L627,1170 L627,1170 L627,1170 L627,1171 L628,1171 L628,1171 L628,1171 L628,1171 L628,1171 L628,1171 L639,1184 L639,1184 L639,1184 L639,1184 L640,1184 L640,1184 L640,1184 L640,1184 L640,1184 L701,1184 L701,1184 L701,1184 L701,1184 L702,1184 L702,1184 L702,1184 L702,1184ZM1171,1152 L1171,1152 L1171,1152 L1122,1152 L1122,1152 L1122,1152 L1122,1152 L1122,1152 L1112,1156 L1112,1156 L1112,1156 L1112,1157 L1112,1157 L1111,1157 L1111,1157 L1111,1157 L1111,1157 L1111,1158 L1111,1158 L1111,1158 L1111,1158 L1111,1158 L1111,1158 L1111,1159 L1111,1159 L1111,1159 L1111,1159 L1111,1159 L1112,1159 L1112,1160 L1112,1160 L1135,1174 L1136,1174 L1136,1175 L1136,1175 L1136,1175 L1160,1179 L1160,1179 L1161,1179 L1161,1179 L1161,1179 L1161,1179 L1161,1179 L1185,1171 L1185,1170 L1185,1170 L1185,1170 L1185,1170 L1186,1170 L1186,1170 L1186,1170 L1186,1169 L1186,1169 L1186,1169 L1186,1169 L1186,1169 L1186,1157 L1186,1157 L1186,1156 L1186,1156 L1186,1156 L1186,1156 L1186,1156 L1186,1155 L1185,1155 L1185,1155 L1185,1155 L1185,1155 L1185,1155 L1185,1155 L1184,1155ZM1165,1182 L1165,1182 L1165,1182 L1165,1182 L1165,1182 L1165,1182 L1165,1182 L1165,1182 L1165,1182 L1164,1182 L1164,1183 L1164,1183 L1164,1183 L1164,1183 L1164,1183 L1164,1183 L1165,1184 L1165,1184 L1165,1184 L1165,1184 L1165,1184 L1165,1184 L1165,1184 L1165,1184 L1165,1184 L1165,1184 L1166,1184 L1166,1184 L1166,1184 L1185,1184 L1185,1184 L1185,1184 L1185,1184 L1186,1184 L1186,1184 L1186,1184 L1186,1184 L1186,1184 L1186,1184 L1186,1184 L1186,1184 L1186,1184 L1186,1183 L1186,1183 L1186,1183 L1186,1183 L1186,1176 L1186,1176 L1186,1176 L1186,1175 L1186,1175 L1186,1175 L1186,1175 L1186,1175 L1186,1175 L1186,1175 L1186,1175 L1186,1175 L1186,1174 L1185,1174 L1185,1174 L1185,1174 L1185,1174 L1185,1174 L1185,1174 L1185,1174 L1184,1174Z" fill="#3d312e"/>
<path d="M614,1169 L615,1169 L615,1168 L615,1168 L615,1168 L615,1168 L615,1168 L615,1168 L615,1167 L615,1167 L615,1167 L615,1167 L615,1167 L615,1166 L615,1166 L615,1166 L615,1166 L615,1166 L615,1166 L615,1165 L615,1165 L601,1154 L601,1154 L601,1154 L601,1154 L600,1154 L600,1154 L600,1154 L600,1154 L600,1154 L599,1154 L578,1157 L578,1158 L577,1158 L577,1158 L577,1158 L577,1158 L577,1158 L577,1158 L576,1158 L576,1159 L576,1159 L576,1159 L576,1159 L576,1159 L576,1160 L576,1182 L576,1182 L576,1182 L576,1182 L576,1183 L576,1183 L576,1183 L577,1183 L577,1183 L577,1183 L577,1184 L577,1184 L577,1184 L578,1184 L578,1184 L578,1184 L578,1184 L589,1184 L589,1184 L589,1184 L589,1184 L590,1184 L590,1184 L590,1184ZM1149,1184 L1150,1184 L1150,1184 L1150,1184 L1150,1184 L1150,1184 L1150,1184 L1151,1184 L1151,1184 L1151,1184 L1151,1184 L1151,1183 L1151,1183 L1151,1183 L1151,1183 L1151,1183 L1151,1183 L1151,1183 L1151,1182 L1151,1182 L1151,1182 L1151,1182 L1151,1182 L1151,1182 L1151,1182 L1151,1181 L1150,1181 L1150,1181 L1150,1181 L1150,1181 L1150,1181 L1136,1178 L1136,1178 L1136,1178 L1136,1178 L1135,1178 L1135,1178 L1135,1178 L1135,1179 L1135,1179 L1131,1181 L1131,1181 L1131,1182 L1131,1182 L1131,1182 L1130,1182 L1130,1182 L1130,1182 L1130,1182 L1130,1183 L1130,1183 L1130,1183 L1130,1183 L1130,1183 L1130,1183 L1131,1183 L1131,1184 L1131,1184 L1131,1184 L1131,1184 L1131,1184 L1131,1184 L1131,1184 L1132,1184 L1132,1184 L1132,1184 L1132,1184Z" fill="#48342b"/>
<path d="M687,1158 L687,1158 L687,1158 L687,1159 L687,1159 L687,1159 L687,1159 L687,1159 L687,1160 L687,1160 L687,1160 L687,1160 L688,1160 L712,1174 L712,1174 L712,1174 L712,1174 L713,1174 L713,1174 L713,1174 L713,1174 L713,1174 L714,1174 L759,1156 L760,1156 L760,1156 L760,1156 L760,1156 L760,1156 L760,1155 L760,1155 L761,1155 L761,1155 L761,1155 L761,1154 L761,1154 L761,1154 L761,1154 L761,1154 L761,1153 L760,1153 L760,1153 L760,1153 L760,1153 L760,1153 L760,1152 L760,1152 L759,1152 L759,1152 L759,1152 L759,1152 L759,1152 L689,1152 L689,1152 L689,1152 L688,1152 L688,1152 L688,1152 L688,1152 L688,1153 L688,1153 L687,1153 L687,1153 L687,1153 L687,1153 L687,1154 L687,1154 L687,1154ZM725,1174 L725,1175 L725,1175 L725,1175 L724,1175 L724,1175 L724,1175 L724,1176 L724,1176 L724,1176 L724,1176 L724,1177 L723,1177 L723,1177 L724,1177 L724,1178 L724,1178 L724,1178 L724,1178 L724,1179 L724,1179 L724,1179 L725,1179 L725,1179 L725,1180 L734,1183 L734,1183 L734,1183 L734,1183 L735,1183 L810,1183 L810,1183 L810,1183 L810,1183 L811,1183 L811,1183 L811,1183 L811,1183 L811,1182 L812,1182 L812,1182 L812,1182 L815,1176 L815,1176 L815,1176 L815,1175 L815,1175 L815,1175 L815,1175 L815,1174 L815,1174 L815,1174 L815,1174 L815,1173 L815,1173 L815,1173 L814,1173 L814,1173 L814,1172 L782,1154 L782,1154 L781,1153 L781,1153 L781,1153 L781,1153 L780,1153 L780,1153 L780,1153 L780,1154ZM1128,1179 L1128,1179 L1128,1178 L1128,1178 L1128,1178 L1129,1178 L1129,1178 L1129,1177 L1129,1177 L1129,1177 L1129,1177 L1129,1176 L1129,1176 L1129,1176 L1129,1176 L1128,1176 L1128,1175 L1128,1175 L1128,1175 L1128,1175 L1128,1175 L1104,1160 L1104,1160 L1104,1160 L1103,1160 L1103,1160 L1103,1160 L1067,1156 L1067,1156 L1067,1156 L1067,1156 L1066,1156 L1052,1160 L1051,1160 L1051,1160 L1051,1160 L1051,1160 L1051,1160 L1051,1161 L1050,1161 L1050,1161 L1050,1161 L1050,1161 L1050,1162 L1050,1162 L1047,1181 L1047,1181 L1047,1181 L1047,1182 L1047,1182 L1047,1182 L1047,1182 L1047,1182 L1048,1183 L1048,1183 L1048,1183 L1048,1183 L1048,1183 L1049,1183 L1049,1183 L1049,1184 L1049,1184 L1050,1184 L1120,1184 L1120,1184 L1121,1184 L1121,1183 L1121,1183 L1121,1183 L1122,1183Z" fill="#543629"/>
<path d="M802,1153 L801,1153 L801,1153 L801,1153 L801,1153 L800,1153 L800,1153 L800,1153 L800,1154 L799,1154 L799,1154 L799,1154 L799,1154 L799,1155 L799,1155 L799,1155 L799,1155 L799,1156 L799,1156 L799,1156 L799,1157 L799,1157 L799,1157 L799,1157 L800,1157 L800,1158 L800,1158 L800,1158 L820,1169 L820,1169 L820,1169 L820,1170 L821,1170 L821,1170 L821,1170 L821,1170 L844,1165 L844,1165 L844,1165 L844,1165 L844,1165 L855,1159 L856,1158 L856,1158 L856,1158 L856,1158 L856,1158 L857,1157 L857,1157 L857,1157 L857,1157 L857,1156 L857,1156 L857,1156 L857,1155 L857,1155 L857,1155 L857,1154 L856,1154 L856,1154 L856,1154 L856,1154 L856,1153 L856,1153 L855,1153 L855,1153 L855,1153 L855,1153 L854,1153 L854,1153ZM821,1178 L821,1178 L820,1179 L820,1179 L820,1179 L820,1180 L820,1180 L820,1180 L820,1181 L821,1181 L821,1181 L821,1181 L821,1182 L821,1182 L821,1182 L822,1182 L822,1182 L822,1183 L823,1183 L823,1183 L823,1183 L824,1183 L854,1183 L854,1183 L854,1183 L855,1183 L855,1183 L855,1182 L856,1182 L856,1182 L856,1182 L856,1182 L856,1181 L857,1181 L857,1181 L857,1180 L857,1180 L857,1180 L857,1180 L857,1179 L857,1179 L857,1179 L857,1178 L857,1178 L856,1178 L856,1177 L856,1177 L856,1177 L855,1177 L855,1177 L846,1172 L845,1172 L845,1172 L845,1172 L844,1171 L844,1171 L844,1171 L843,1172 L824,1175 L823,1175 L823,1175 L823,1176 L822,1176 L822,1176 L822,1176 L822,1176 L821,1177 L821,1177Z" fill="#5f3926"/>
<path d="M919,1153 L919,1153 L919,1154 L918,1154 L918,1154 L918,1154 L917,1154 L917,1154 L917,1154 L917,1155 L916,1155 L916,1155 L916,1156 L916,1156 L916,1156 L916,1157 L916,1157 L916,1157 L916,1158 L916,1158 L916,1158 L916,1159 L916,1159 L917,1159 L917,1159 L917,1160 L917,1160 L918,1160 L918,1160 L939,1169 L939,1169 L939,1169 L940,1169 L940,1169 L940,1169 L941,1169 L941,1169 L941,1169 L942,1169 L959,1160 L960,1160 L960,1160 L960,1159 L960,1159 L961,1159 L961,1159 L961,1158 L961,1158 L961,1158 L961,1157 L961,1157 L961,1157 L961,1156 L961,1156 L961,1156 L961,1155 L961,1155 L960,1155 L960,1155 L960,1154 L960,1154 L959,1154 L959,1154 L959,1154 L958,1154 L958,1153 L958,1153ZM931,1179 L932,1179 L932,1179 L932,1178 L932,1178 L933,1178 L933,1178 L933,1177 L933,1177 L933,1177 L933,1176 L933,1176 L933,1176 L933,1176 L933,1175 L933,1175 L933,1175 L933,1174 L933,1174 L933,1174 L932,1174 L932,1173 L932,1173 L932,1173 L931,1173 L913,1165 L913,1165 L913,1165 L913,1165 L912,1165 L861,1163 L861,1163 L861,1163 L860,1163 L860,1163 L860,1163 L860,1163 L857,1165 L856,1165 L856,1165 L856,1165 L856,1166 L856,1166 L855,1166 L855,1166 L855,1167 L855,1167 L855,1167 L855,1168 L855,1168 L855,1168 L855,1169 L855,1169 L856,1169 L856,1169 L856,1170 L856,1170 L856,1170 L857,1170 L857,1170 L881,1182 L881,1183 L881,1183 L882,1183 L882,1183 L882,1183 L921,1183 L921,1183 L921,1183 L922,1183 L922,1183ZM944,1174 L944,1175 L944,1175 L944,1175 L943,1175 L943,1175 L943,1175 L943,1176 L943,1176 L943,1176 L943,1177 L943,1177 L943,1177 L943,1177 L943,1178 L943,1178 L943,1178 L943,1178 L943,1179 L943,1179 L944,1179 L944,1179 L944,1179 L947,1181 L948,1182 L948,1182 L948,1182 L948,1182 L949,1182 L962,1183 L962,1183 L1039,1183 L1039,1183 L1040,1183 L1040,1183 L1040,1183 L1040,1183 L1041,1183 L1041,1183 L1041,1182 L1041,1182 L1041,1182 L1042,1182 L1042,1182 L1042,1181 L1042,1181 L1042,1181 L1044,1163 L1044,1163 L1044,1163 L1044,1163 L1044,1162 L1044,1162 L1044,1162 L1044,1162 L1044,1161 L1044,1161 L1044,1161 L1043,1161 L1043,1161 L1043,1160 L1043,1160 L1042,1160 L1042,1160 L1001,1153 L1000,1153 L1000,1153 L989,1153 L989,1153 L988,1153 L988,1153 L988,1153 L988,1153Z" fill="#6b3b24"/>
</g>
<rect x="574" y="1148" width="614" height="40" filter="url(#ashf)" opacity="0.55"/>
<rect x="568" y="1143" width="192" height="50" fill="url(#gEmL)"/>
<rect x="560" y="660" width="640" height="540" fill="url(#gSideL)"/>
</g>
<path d="M568.3,795.8 A451,451 0 0 1 1189.3,795.8 L1189.3,1180 Q1189.3,1190.7 1178,1190.7 L580,1190.7 Q568.3,1190.7 568.3,1180 Z" fill="none" stroke="#2a2a2e" stroke-width="2" opacity="0.35"/>
<path d="M584,1192.5 L1176,1192.5" stroke="#8a8a90" stroke-width="1.6" opacity="0.6"/>
<path d="M531,1299 L1233,1299 L1236,1311 L528,1311 Z" fill="#26262a"/>
<path d="M528,1311 L1236,1311 L1292,1331 L460,1331 Z" fill="#3a3a44"/>
<path d="M528,1310.5 L1236,1310.5" stroke="#a2a2aa" stroke-width="2.4" opacity="0.9"/>
<path d="M470,1330 L1282,1330 Q1296,1332 1297,1341 Q1296,1349 1284,1351.5 L468,1351.5 Q456,1349 456,1341 Q457,1332 470,1330 Z" fill="#3f3f43"/>
<path d="M466,1330.2 L1286,1330.2" stroke="#9a9aa2" stroke-width="2" opacity="0.85"/>
<path d="M468,1351 L1284,1351" stroke="#202022" stroke-width="2.5"/>
<rect x="459" y="1349" width="18" height="8" rx="3" fill="#1c1c1e"/><rect x="1276" y="1349" width="18" height="8" rx="3" fill="#1c1c1e"/>
<path d="M609.5,1352 L1141.6,1352 L1141.6,1403 L1122,1412 L630,1412 L609.5,1403 Z" fill="#2b2b2d"/>
<path d="M609.5,1352 L631,1352 L631,1412 L609.5,1403 Z" fill="#222224"/><path d="M1120,1352 L1141.6,1352 L1141.6,1403 L1120,1412 Z" fill="#222224"/>
<rect x="674.6" y="1358.2" width="399.6" height="15.8" fill="url(#gHeat1)"/><rect x="674.6" y="1358.2" width="399.6" height="15.8" fill="url(#pFin1)"/>
<rect x="674.6" y="1379" width="399.6" height="28.4" fill="url(#gHeat)"/><rect x="674.6" y="1379" width="399.6" height="28.4" fill="url(#pFin)"/>
<rect x="674.6" y="1374" width="399.6" height="5" fill="#a03a10" opacity="0.9"/>
<path d="M494.7,1351 L608.6,1351 C598,1375 575,1400 553.9,1441.6 C535,1480 522,1530 512.9,1566 Q511,1572 505,1572 L468,1572 Q461.5,1572 462.5,1565 Z" fill="url(#gLeg)"/>
<path d="M1262.3,1351 L1146,1351 C1156,1375 1182,1405 1205.4,1450.7 C1222,1488 1234,1532 1241.8,1566 Q1243,1572 1249,1572 L1284,1572 Q1291,1572 1290,1565 Z" fill="url(#gLeg)"/>
<rect x="524" y="797" width="9" height="40" fill="#1f1f21"/><rect x="1224" y="797" width="9" height="40" fill="#1f1f21"/><rect x="524" y="1152" width="9" height="40" fill="#1f1f21"/><rect x="1224" y="1152" width="9" height="40" fill="#1f1f21"/><g><path d="M209.7,657.3 L226,656.7 C270,657 330,668 386.7,697 C440,722 495,756 524.4,789.5 L524.4,1295 L214.6,1365.9 L212.2,1100 Z" fill="#2b2b2d"/>
<path d="M209.7,657.3 L226,656.7 L229,1362.6 L214.6,1365.9 L211.8,1100 Z" fill="#66666a"/>
<path d="M226,658.5 C270,659 330,670 386,699 C440,724 494,758 522.6,790.5" fill="none" stroke="#66666a" stroke-width="3" opacity="0.9"/>
<path d="M523,790 L523,1295" stroke="#66666a" stroke-width="3" opacity="0.8"/>
<path d="M242.5,676 C290,677 340,690 384,712 C430,735 478,768 502.7,800 L504.7,1212.4 L247,1253.7 Z" fill="#8b8b90"/>
<clipPath id="dLg"><path d="M255.9,703 C290,704 340,716 374.9,734.4 C420,758 462,790 483,813 L482,1193.7 L258.8,1230 Z"/></clipPath>
<path d="M255.9,703 C290,704 340,716 374.9,734.4 C420,758 462,790 483,813 L482,1193.7 L258.8,1230 Z" fill="#ffffff"/>
<g clip-path="url(#dLg)" fill="none" stroke="#909096" stroke-width="13" stroke-linecap="butt">
<path d="M250,884 C268,850 290,815 312,790 C340,762 368,748 392,735"/>
<path d="M250,752 C280,770 300,785 318,806 C345,840 362,880 372,925"/>
<path d="M472,788 C445,808 425,825 410,846 C390,875 378,900 372,925"/>
<path d="M372,905 L372.5,1215" stroke-width="16.5"/>
</g>
<path d="M247,1253.7 L504.7,1212.4 L509,1216 L513,1291 L249,1352 L232,1358 L232,1262 Z" fill="#242426"/>
<path d="M249,1259 L508.6,1217.5 L512,1289 L250,1348 Z" fill="#39393c"/>
<path d="M266,1306 L298,1282 L336,1294 L304,1320 Z" fill="none" stroke="#242426" stroke-width="2.5" opacity="0.9"/>
<path d="M326,1294 L358,1270 L396,1282 L364,1308 Z" fill="none" stroke="#242426" stroke-width="2.5" opacity="0.9"/>
<path d="M388,1280 L420,1256 L458,1268 L426,1294 Z" fill="none" stroke="#242426" stroke-width="2.5" opacity="0.9"/>
<path d="M442,1268 L474,1244 L512,1256 L480,1282 Z" fill="none" stroke="#242426" stroke-width="2.5" opacity="0.9"/>
<rect x="296.5" y="671.0" width="19" height="26" rx="3" fill="#242426"/><circle cx="306" cy="684" r="3" fill="#8b8b90" opacity="0.7"/>
<rect x="492.0" y="828.0" width="18" height="20" rx="3" fill="#242426"/><circle cx="501" cy="838" r="3" fill="#8b8b90" opacity="0.7"/>
<rect x="229.0" y="980.0" width="18" height="20" rx="3" fill="#242426"/><circle cx="238" cy="990" r="3" fill="#8b8b90" opacity="0.7"/>
<rect x="492.0" y="1138.0" width="18" height="20" rx="3" fill="#242426"/><circle cx="501" cy="1148" r="3" fill="#8b8b90" opacity="0.7"/>
<rect x="213.0" y="1202.0" width="16" height="20" rx="3" fill="#242426"/><circle cx="221" cy="1212" r="3" fill="#8b8b90" opacity="0.7"/>
<circle cx="230" cy="668" r="5" fill="#242426"/>
<circle cx="232" cy="938" r="5" fill="#242426"/>
<circle cx="236" cy="1350" r="5" fill="#242426"/>
<circle cx="270" cy="1262" r="5" fill="#242426"/>
<circle cx="500" cy="1226" r="5" fill="#242426"/>
<path d="M214.6,1365.9 L524.4,1295 L524.4,1284 L230,1352 Z" fill="#2b2b2d"/></g>
<g transform="translate(1772.9,0) scale(-1.0296,1)"><path d="M209.7,657.3 L226,656.7 C270,657 330,668 386.7,697 C440,722 495,756 524.4,789.5 L524.4,1295 L214.6,1365.9 L212.2,1100 Z" fill="#222224"/>
<path d="M209.7,657.3 L226,656.7 L229,1362.6 L214.6,1365.9 L211.8,1100 Z" fill="#4e4e52"/>
<path d="M226,658.5 C270,659 330,670 386,699 C440,724 494,758 522.6,790.5" fill="none" stroke="#4e4e52" stroke-width="3" opacity="0.9"/>
<path d="M523,790 L523,1295" stroke="#4e4e52" stroke-width="3" opacity="0.8"/>
<path d="M242.5,676 C290,677 340,690 384,712 C430,735 478,768 502.7,800 L504.7,1212.4 L247,1253.7 Z" fill="#46443f"/>
<clipPath id="dRg"><path d="M255.9,703 C290,704 340,716 374.9,734.4 C420,758 462,790 483,813 L482,1193.7 L258.8,1230 Z"/></clipPath>
<path d="M255.9,703 C290,704 340,716 374.9,734.4 C420,758 462,790 483,813 L482,1193.7 L258.8,1230 Z" fill="#ffffff"/>
<g clip-path="url(#dRg)" fill="none" stroke="#363638" stroke-width="13" stroke-linecap="butt">
<path d="M250,884 C268,850 290,815 312,790 C340,762 368,748 392,735"/>
<path d="M250,752 C280,770 300,785 318,806 C345,840 362,880 372,925"/>
<path d="M472,788 C445,808 425,825 410,846 C390,875 378,900 372,925"/>
<path d="M372,905 L372.5,1215" stroke-width="16.5"/>
</g>
<path d="M247,1253.7 L504.7,1212.4 L509,1216 L513,1291 L249,1352 L232,1358 L232,1262 Z" fill="#1c1c1e"/>
<path d="M249,1259 L508.6,1217.5 L512,1289 L250,1348 Z" fill="#303033"/>
<path d="M266,1306 L298,1282 L336,1294 L304,1320 Z" fill="none" stroke="#1c1c1e" stroke-width="2.5" opacity="0.9"/>
<path d="M326,1294 L358,1270 L396,1282 L364,1308 Z" fill="none" stroke="#1c1c1e" stroke-width="2.5" opacity="0.9"/>
<path d="M388,1280 L420,1256 L458,1268 L426,1294 Z" fill="none" stroke="#1c1c1e" stroke-width="2.5" opacity="0.9"/>
<path d="M442,1268 L474,1244 L512,1256 L480,1282 Z" fill="none" stroke="#1c1c1e" stroke-width="2.5" opacity="0.9"/>
<rect x="296.5" y="671.0" width="19" height="26" rx="3" fill="#1c1c1e"/><circle cx="306" cy="684" r="3" fill="#46443f" opacity="0.7"/>
<rect x="492.0" y="828.0" width="18" height="20" rx="3" fill="#1c1c1e"/><circle cx="501" cy="838" r="3" fill="#46443f" opacity="0.7"/>
<rect x="229.0" y="980.0" width="18" height="20" rx="3" fill="#1c1c1e"/><circle cx="238" cy="990" r="3" fill="#46443f" opacity="0.7"/>
<rect x="492.0" y="1138.0" width="18" height="20" rx="3" fill="#1c1c1e"/><circle cx="501" cy="1148" r="3" fill="#46443f" opacity="0.7"/>
<rect x="213.0" y="1202.0" width="16" height="20" rx="3" fill="#1c1c1e"/><circle cx="221" cy="1212" r="3" fill="#46443f" opacity="0.7"/>
<circle cx="230" cy="668" r="5" fill="#1c1c1e"/>
<circle cx="232" cy="938" r="5" fill="#1c1c1e"/>
<circle cx="236" cy="1350" r="5" fill="#1c1c1e"/>
<circle cx="270" cy="1262" r="5" fill="#1c1c1e"/>
<circle cx="500" cy="1226" r="5" fill="#1c1c1e"/>
<path d="M214.6,1365.9 L524.4,1295 L524.4,1284 L230,1352 Z" fill="#222224"/></g><path d="M211,1010 Q205,1080 210,1150" stroke="#20204a" stroke-width="4" fill="none" opacity="0.8"/><path d="M1556,1000 Q1564,1080 1557,1160 Z" fill="#3a3a3e" opacity="0.9"/><path d="M1349.6,1265 L1382,1250.7 L1418.4,1276 L1387.6,1292.3 Z" fill="url(#pDot)"/><path d="M1357,1287 L1388,1292.5 L1400,1286 L1400,1310 L1357,1304 Z" fill="#1e1e20"/><path d="M1361,1296 L1396,1301" stroke="#3c3c40" stroke-width="3"/>
<path d="M1016,1230 Q1016,1222 1023.5,1220.5 L1813,702 L2722.5,702 L2722.5,1152 L1132,1269.5 L1024,1272 Q1016,1272 1016,1264 Z" fill="url(#beamH)"/>
<g mask="url(#mBV)"><path d="M1016,1230 Q1016,1222 1023.5,1220.5 L1813,702 L2722.5,702 L2722.5,1152 L1132,1269.5 L1024,1272 Q1016,1272 1016,1264 Z" fill="url(#beamV)"/></g>
<path d="M1130.5,1222 L1130.5,1269" stroke="#7d6a50" stroke-width="1.2" opacity="0.5"/>
<rect x="1028.8" y="1229.7" width="28" height="35" fill="#9c7a55" opacity="0.55"/>
<rect x="1065.3" y="1228" width="13.6" height="14" rx="1.5" fill="#84705a" opacity="0.55"/><rect x="1065.3" y="1228" width="13.6" height="2.6" fill="#b7a27e" opacity="0.7"/><rect x="1069.3" y="1233" width="6" height="6" rx="2" fill="#a08c6e" opacity="0.6"/>
<rect x="1087.8" y="1228" width="13.6" height="14" rx="1.5" fill="#84705a" opacity="0.55"/><rect x="1087.8" y="1228" width="13.6" height="2.6" fill="#b7a27e" opacity="0.7"/><rect x="1091.8" y="1233" width="6" height="6" rx="2" fill="#a08c6e" opacity="0.6"/>
<rect x="1110.3" y="1228" width="13.6" height="14" rx="1.5" fill="#84705a" opacity="0.55"/><rect x="1110.3" y="1228" width="13.6" height="2.6" fill="#b7a27e" opacity="0.7"/><rect x="1114.3" y="1233" width="6" height="6" rx="2" fill="#a08c6e" opacity="0.6"/>
<rect x="1087.8" y="1251.4" width="13.6" height="14" rx="1.5" fill="#84705a" opacity="0.55"/><rect x="1087.8" y="1251.4" width="13.6" height="2.6" fill="#b7a27e" opacity="0.7"/><rect x="1091.8" y="1256.4" width="6" height="6" rx="2" fill="#a08c6e" opacity="0.6"/>
<rect x="1110.3" y="1251.4" width="13.6" height="14" rx="1.5" fill="#84705a" opacity="0.55"/><rect x="1110.3" y="1251.4" width="13.6" height="2.6" fill="#b7a27e" opacity="0.7"/><rect x="1114.3" y="1256.4" width="6" height="6" rx="2" fill="#a08c6e" opacity="0.6"/>
<rect x="1829.2" y="716.8" width="878.3" height="408.70000000000005" fill="#434641"/>
<rect x="1829.2" y="716.8" width="878.3" height="408.70000000000005" fill="#fff" opacity="0.16" filter="url(#spk)"/>
<rect x="1829.2" y="716.8" width="878.3" height="408.70000000000005" fill="#000" opacity="0.25" filter="url(#spkd)"/>
<rect x="1870" y="768.5" width="235.4" height="305.5" fill="url(#dispG)"/>
<rect x="1870" y="768.5" width="235.4" height="305.5" fill="#fff" opacity="0.10" filter="url(#spk)"/>
<g transform="translate(1892.5,1033.5) skewX(-8.8)"><path d="M12.3,-121.0 L57.2,-121.0 L63.2,-115.0 L57.2,-109.0 L12.3,-109.0 L6.3,-115.0 Z M57.5,-108.7 L63.5,-114.7 L69.5,-108.7 L69.5,-66.8 L63.5,-60.8 L57.5,-66.8 Z M57.5,-54.2 L63.5,-60.2 L69.5,-54.2 L69.5,-12.3 L63.5,-6.3 L57.5,-12.3 Z M12.3,-12.0 L57.2,-12.0 L63.2,-6.0 L57.2,0.0 L12.3,0.0 L6.3,-6.0 Z M0.0,-54.2 L6.0,-60.2 L12.0,-54.2 L12.0,-12.3 L6.0,-6.3 L0.0,-12.3 Z M0.0,-108.7 L6.0,-114.7 L12.0,-108.7 L12.0,-66.8 L6.0,-60.8 L0.0,-66.8 Z M12.3,-66.5 L57.2,-66.5 L63.2,-60.5 L57.2,-54.5 L12.3,-54.5 L6.3,-60.5 Z" fill="#f2c9a3" stroke="#d8432e" stroke-width="2.6" stroke-linejoin="round"/></g>
<g transform="translate(1993.4,1033.5) skewX(-8.8)"><path d="M12.3,-121.0 L57.2,-121.0 L63.2,-115.0 L57.2,-109.0 L12.3,-109.0 L6.3,-115.0 Z M57.5,-108.7 L63.5,-114.7 L69.5,-108.7 L69.5,-66.8 L63.5,-60.8 L57.5,-66.8 Z M12.3,-66.5 L57.2,-66.5 L63.2,-60.5 L57.2,-54.5 L12.3,-54.5 L6.3,-60.5 Z M0.0,-54.2 L6.0,-60.2 L12.0,-54.2 L12.0,-12.3 L6.0,-6.3 L0.0,-12.3 Z M12.3,-12.0 L57.2,-12.0 L63.2,-6.0 L57.2,0.0 L12.3,0.0 L6.3,-6.0 Z" fill="#f2c9a3" stroke="#d8432e" stroke-width="2.6" stroke-linejoin="round"/></g>
<rect x="2178.4" y="771.5" width="115.90000000000009" height="118.0" rx="12" fill="#1e201d" opacity="0.6" filter="url(#b3)"/>
<rect x="2179.4" y="773.5" width="110.90000000000009" height="113.0" rx="10" fill="#232523"/>
<rect x="2195.4" y="771.5" width="104.90000000000009" height="100.0" rx="9" fill="#5a5c58" filter="url(#b1)"/>
<rect x="2193.9" y="780.5" width="97.90000000000009" height="91.0" rx="3" fill="#535551"/>
<path d="M2186.4,774.5 Q2187.4,766.5 2197.4,766.0 L2287.3,766.0 Q2296.3,766.5 2296.3,773.5 L2287.3,782.0 L2195.4,782.0 Z" fill="url(#btnTop)"/>
<rect x="2187.4" y="766.5" width="107.90000000000009" height="105.0" rx="6" fill="#fff" opacity="0.16" filter="url(#spk)"/>
<rect x="2368.4" y="770.6" width="112.79999999999973" height="117.39999999999998" rx="12" fill="#1e201d" opacity="0.6" filter="url(#b3)"/>
<rect x="2369.4" y="772.6" width="107.79999999999973" height="112.39999999999998" rx="10" fill="#232523"/>
<rect x="2385.4" y="770.6" width="101.79999999999973" height="99.39999999999998" rx="9" fill="#5a5c58" filter="url(#b1)"/>
<rect x="2383.9" y="779.6" width="94.79999999999973" height="90.39999999999998" rx="3" fill="#535551"/>
<path d="M2376.4,773.6 Q2377.4,765.6 2387.4,765.1 L2474.2,765.1 Q2483.2,765.6 2483.2,772.6 L2474.2,781.1 L2385.4,781.1 Z" fill="url(#btnTop)"/>
<rect x="2377.4" y="765.6" width="104.79999999999973" height="104.39999999999998" rx="6" fill="#fff" opacity="0.16" filter="url(#spk)"/>
<rect x="2556.2" y="769.8" width="114.80000000000018" height="117.5" rx="12" fill="#1e201d" opacity="0.6" filter="url(#b3)"/>
<rect x="2557.2" y="771.8" width="109.80000000000018" height="112.5" rx="10" fill="#232523"/>
<rect x="2573.2" y="769.8" width="103.80000000000018" height="99.5" rx="9" fill="#5a5c58" filter="url(#b1)"/>
<rect x="2571.7" y="778.8" width="96.80000000000018" height="90.5" rx="3" fill="#535551"/>
<path d="M2564.2,772.8 Q2565.2,764.8 2575.2,764.3 L2664,764.3 Q2673,764.8 2673,771.8 L2664,780.3 L2573.2,780.3 Z" fill="url(#btnTop)"/>
<rect x="2565.2" y="764.8" width="106.80000000000018" height="104.5" rx="6" fill="#fff" opacity="0.16" filter="url(#spk)"/>
<rect x="2368.4" y="975" width="112.79999999999973" height="117.29999999999995" rx="12" fill="#1e201d" opacity="0.6" filter="url(#b3)"/>
<rect x="2369.4" y="977" width="107.79999999999973" height="112.29999999999995" rx="10" fill="#232523"/>
<rect x="2385.4" y="975" width="101.79999999999973" height="99.29999999999995" rx="9" fill="#5a5c58" filter="url(#b1)"/>
<rect x="2383.9" y="984" width="94.79999999999973" height="90.29999999999995" rx="3" fill="#535551"/>
<path d="M2376.4,978 Q2377.4,970 2387.4,969.5 L2474.2,969.5 Q2483.2,970 2483.2,977 L2474.2,985.5 L2385.4,985.5 Z" fill="url(#btnTop)"/>
<rect x="2377.4" y="970" width="104.79999999999973" height="104.29999999999995" rx="6" fill="#fff" opacity="0.16" filter="url(#spk)"/>
<rect x="2557.7" y="971.5" width="116.30000000000018" height="117.90000000000009" rx="12" fill="#1e201d" opacity="0.6" filter="url(#b3)"/>
<rect x="2558.7" y="973.5" width="111.30000000000018" height="112.90000000000009" rx="10" fill="#232523"/>
<rect x="2574.7" y="971.5" width="105.30000000000018" height="99.90000000000009" rx="9" fill="#5a5c58" filter="url(#b1)"/>
<rect x="2573.2" y="980.5" width="98.30000000000018" height="90.90000000000009" rx="3" fill="#535551"/>
<path d="M2565.7,974.5 Q2566.7,966.5 2576.7,966.0 L2667,966.0 Q2676,966.5 2676,973.5 L2667,982.0 L2574.7,982.0 Z" fill="url(#btnTop)"/>
<rect x="2566.7" y="966.5" width="108.30000000000018" height="104.90000000000009" rx="6" fill="#fff" opacity="0.16" filter="url(#spk)"/>
<g fill="#797b78"><path fill-rule="evenodd" d="M2234,791 C2222,806 2213,820 2213,836 C2213,850 2224,858 2238,861 C2250,856 2256,846 2255,832 C2254,818 2244,806 2234,791 Z M2230,808 C2224,820 2221,830 2224,840 C2227,848 2234,852 2240,850 C2245,842 2245,830 2241,822 C2238,816 2234,812 2230,808 Z"/><path d="M2210,812 C2200,826 2198,842 2206,852 C2212,858 2222,860 2230,859 C2218,854 2210,846 2208,836 C2206,826 2208,818 2210,812 Z"/><path d="M2262,818 C2272,830 2275,844 2268,853 C2262,860 2252,862 2246,861 C2258,855 2264,846 2264,836 C2264,828 2263,822 2262,818 Z"/></g>
<g fill="none" stroke="#797b78" stroke-width="8.5" stroke-linecap="round"><path d="M2406,791 C2397,797 2393,808 2399,818 C2405,828 2407,836 2401,845 C2396,851 2399,856 2404,858" /><path d="M2432.5,791 C2423.5,797 2419.5,808 2425.5,818 C2431.5,828 2433.5,836 2427.5,845 C2422.5,851 2425.5,856 2430.5,858" /><path d="M2459,791 C2450,797 2446,808 2452,818 C2458,828 2460,836 2454,845 C2449,851 2452,856 2457,858" /></g>
<g fill="none" stroke="#797b78" stroke-width="8.5" stroke-linecap="round"><path d="M2598,805 A30.5,30.5 0 1 0 2636,805"/><path d="M2617,788 L2617,824"/></g>
<g fill="#797b78"><path d="M2409,991 L2421,1020 L2413.5,1020 L2413.5,1061 L2405,1061 L2405,1020 L2397,1020 Z"/><path d="M2446,1061 L2434,1032 L2441.8,1032 L2441.8,990 L2450.2,990 L2450.2,1032 L2458,1032 Z"/></g>
<g fill="none" stroke="#797b78" stroke-width="8.5" stroke-linecap="round"><path d="M2605,997 A31,31 0 1 0 2648,1023"/><path d="M2617.5,1003 L2617.5,1027 L2640,1027"/></g><circle cx="2627" cy="994" r="4.6" fill="#797b78"/>
<path d="M954,1868 Q1125,1850 1298,1864 Q1309,1866 1310,1878 L1326,2214 Q1334,2420 1333,2500 Q1332,2640 1316,2880 Q1315,2894 1300,2897 Q1130,2918 962,2900 Q948,2897 946,2884 Q928,2640 925,2440 Q926,2300 933,2200 L941,1882 Q942,1870 954,1868 Z" fill="url(#rmBody)"/>
<path d="M972,1871 Q1125,1860 1282,1869 Q1291,1871 1292,1880 L1304,2300 Q1306,2450 1302,2540 L955,2540 Q950,2420 957,2250 L963,1882 Q964,1872 972,1871 Z" fill="#4d4d4c"/>
<path d="M953,2528 L1303,2528 Q1300,2700 1290,2884 Q1130,2900 972,2886 Q958,2700 953,2528 Z" fill="url(#rmLow)"/>
<path d="M953,2528 L1303,2528 Q1300,2700 1290,2884 Q1130,2900 972,2886 Q958,2700 953,2528 Z" fill="#fff" opacity="0.10" filter="url(#spkR)"/>
<path d="M1180,1937 L1268,1939 Q1282,1941 1283,1955 L1296,2300 Q1299,2440 1296,2510 Q1295,2530 1278,2533 L978,2535 Q958,2534 956,2512 Q949,2420 956,2368 Q962,2300 993,2182 Q1010,2115 1043,2059 Q1090,2000 1138,1963 Q1160,1944 1180,1937 Z" fill="#3d3d3c" stroke="#222222" stroke-width="4.5"/>
<path d="M975,1942 L1112,1944 Q1126,1946 1118,1957 Q1040,2040 1000,2110 Q975,2150 966,2166 Q957,2176 955,2160 L962,1955 Q963,1943 975,1942 Z" fill="#434342" stroke="#2a2a2a" stroke-width="3"/>
<path d="M972,1948 L1108,1950" stroke="#6a6a69" stroke-width="2" opacity="0.8"/>
<path d="M972,1871 Q1125,1860 1282,1869 Q1291,1871 1292,1880 L1304,2300 Q1306,2450 1302,2540 L955,2540 Q950,2420 957,2250 L963,1882 Q964,1872 972,1871 Z" fill="#fff" opacity="0.42" filter="url(#spkR)"/>
<path d="M972,1871 Q1125,1860 1282,1869 Q1291,1871 1292,1880 L1304,2300 Q1306,2450 1302,2540 L955,2540 Q950,2420 957,2250 L963,1882 Q964,1872 972,1871 Z" fill="#000" opacity="0.35" filter="url(#spkRd)"/>
<path d="M1150,1940 Q1135,1950 1122,1962 Q1075,2005 1030,2062 Q998,2110 980,2176 Q962,2250 954,2340" fill="none" stroke="#4c4c4b" stroke-width="19" stroke-linecap="butt" opacity="0.9"/>
<path d="M1118,1957 Q1040,2040 1000,2110 Q975,2150 966,2166" fill="none" stroke="#262626" stroke-width="4" opacity="0.9"/>
<path d="M1180,1937 Q1160,1944 1138,1963 Q1090,2000 1043,2059 Q1010,2115 993,2182 Q968,2275 956,2368" fill="none" stroke="#1e1e1e" stroke-width="5.5" opacity="0.95"/>
<path d="M975,1942 L1112,1944 Q1126,1946 1118,1957 Q1040,2040 1000,2110 Q975,2150 966,2166 Q957,2176 955,2160 L962,1955 Q963,1943 975,1942 Z" fill="#464645" opacity="0.55"/>
<path d="M947,1890 Q930,2250 930,2440 Q932,2650 950,2880" fill="none" stroke="#555554" stroke-width="5" opacity="0.5" filter="url(#b2)"/>
<path d="M1305,1885 Q1328,2250 1328,2480 Q1326,2660 1311,2880" fill="none" stroke="#565655" stroke-width="5" opacity="0.5" filter="url(#b2)"/>
<path d="M958,1869 Q1125,1853 1296,1866" fill="none" stroke="#5e5e5d" stroke-width="4" opacity="0.7" filter="url(#b1)"/>
<rect x="1147" y="1977" width="85.20000000000005" height="54.299999999999955" rx="16" fill="#1c1c1c" opacity="0.9"/><rect x="1150" y="1979" width="79.20000000000005" height="47.299999999999955" rx="14" fill="url(#redB)"/>
<rect x="1061.6" y="2075.6" width="85.20000000000005" height="50.40000000000009" rx="16" fill="#1c1c1c" opacity="0.9"/><rect x="1064.6" y="2077.6" width="79.20000000000005" height="43.40000000000009" rx="14" fill="url(#gryB)"/>
<rect x="1007" y="2171.9" width="84" height="50.40000000000009" rx="16" fill="#1c1c1c" opacity="0.9"/><rect x="1010" y="2173.9" width="78" height="43.40000000000009" rx="14" fill="url(#gryB)"/>
<rect x="982.4" y="2266.6" width="82.10000000000002" height="50.40000000000009" rx="16" fill="#1c1c1c" opacity="0.9"/><rect x="985.4" y="2268.6" width="76.10000000000002" height="43.40000000000009" rx="14" fill="url(#gryB)"/>
<rect x="970" y="2361.3" width="83.59999999999991" height="50.5" rx="16" fill="#1c1c1c" opacity="0.9"/><rect x="973" y="2363.3" width="77.59999999999991" height="43.5" rx="14" fill="url(#gryB)"/>
<g fill="none" stroke="#d8483a" stroke-width="3.2" stroke-linecap="round"><path d="M1169,2048.5 A15,15 0 1 0 1187,2048.5"/><path d="M1178,2040 L1178,2058"/></g>
<g fill="#e9e9e7"><path d="M1097,2147 C1092,2152 1090,2160 1094,2166 C1096,2169 1099,2170 1101,2170 C1097,2165 1096,2158 1097,2147Z"/><path d="M1106,2134 C1110,2142 1113,2148 1111,2156 C1110,2162 1106,2166 1105,2171 C1100,2166 1098,2158 1100,2150 C1101,2144 1105,2140 1106,2134Z"/><path d="M1115,2150 C1120,2156 1121,2163 1116,2168 C1113,2170 1110,2171 1108,2171 C1113,2166 1116,2159 1115,2150Z"/></g>
<g fill="none" stroke="#e9e9e7" stroke-width="3.6" stroke-linecap="round"><path d="M1048,2228 C1041,2234 1052,2242 1046,2248 C1042,2252 1047,2257 1047,2258"/><path d="M1060.5,2228 C1053.5,2234 1064.5,2242 1058.5,2248 C1054.5,2252 1059.5,2257 1059.5,2258"/><path d="M1073,2228 C1066,2234 1077,2242 1071,2248 C1067,2252 1072,2257 1072,2258"/></g>
<g fill="none" stroke="#e9e9e7" stroke-width="3" stroke-linecap="round"><path d="M1031,2324.5 A15,15 0 1 0 1051.5,2337"/><path d="M1036.6,2328 L1036.6,2339 L1046,2339"/><circle cx="1041" cy="2322.5" r="0.8"/></g>
<g fill="#e9e9e7"><path d="M1024.5,2423.5 L1030,2434 L1026.5,2434 L1026.5,2456 L1022.5,2456 L1022.5,2434 L1019,2434 Z"/>
<path d="M1038,2456 L1032.5,2445.5 L1036,2445.5 L1036,2423.5 L1040,2423.5 L1040,2445.5 L1043.5,2445.5 Z"/></g>
<rect x="2236.05" y="621.8" width="5.5" height="133.80000000000007" fill="#131a60"/>
<rect x="2428.25" y="621.8" width="5.5" height="133.80000000000007" fill="#131a60"/>
<rect x="2619.95" y="621.8" width="5.5" height="133.80000000000007" fill="#131a60"/>
<rect x="1969.75" y="1042" width="5.5" height="187" fill="#131a60"/>
<rect x="2427.85" y="1095.6" width="5.5" height="272.10000000000014" fill="#131a60"/>
<rect x="2619.25" y="1095.6" width="5.5" height="133.4000000000001" fill="#131a60"/>
<rect x="1235.4" y="2000.7" width="297.1999999999998" height="6" fill="#131a60"/>
<rect x="1145.3" y="2095.7" width="387.29999999999995" height="6" fill="#131a60"/>
<rect x="1090" y="2191.0" width="442.5999999999999" height="6" fill="#131a60"/>
<rect x="1063.7" y="2286.4" width="468.89999999999986" height="6" fill="#131a60"/>
<rect x="1052.8" y="2382.0" width="479.79999999999995" height="6" fill="#131a60"/>
<text x="761.5" y="214.5" font-size="122.6" class="bk" textLength="1476.8" lengthAdjust="spacingAndGlyphs">TWO OPERATION MODES</text>
<text x="323.5" y="437.6" font-size="74.6" class="bk" textLength="1094.6" lengthAdjust="spacingAndGlyphs">MECHANICAL CONTROL PANEL</text>
<text x="323.5" y="1765.4" font-size="74.6" class="bk" textLength="676.0" lengthAdjust="spacingAndGlyphs">REMOTE CONTROL</text>
<text x="2085" y="601.6" font-size="68.3" class="nv" textLength="182.8" lengthAdjust="spacingAndGlyphs">Flame</text>
<text x="2325" y="523.6" font-size="68.3" class="nv" textLength="197.4" lengthAdjust="spacingAndGlyphs">Heater</text>
<text x="2327" y="601.6" font-size="68.3" class="nv" textLength="192.3" lengthAdjust="spacingAndGlyphs">On/Off</text>
<text x="2601" y="523.6" font-size="68.3" class="nv" textLength="186.3" lengthAdjust="spacingAndGlyphs">Power</text>
<text x="2598.6" y="601.6" font-size="68.3" class="nv" textLength="191.9" lengthAdjust="spacingAndGlyphs">On/Off</text>
<text x="1815" y="1304.1" font-size="68.3" class="nv" textLength="414.7" lengthAdjust="spacingAndGlyphs">Digital Display</text>
<text x="2566.4" y="1304.1" font-size="68.3" class="nv" textLength="168.0" lengthAdjust="spacingAndGlyphs">Timer</text>
<text x="2268" y="1430.0" font-size="68.3" class="nv" textLength="288.6" lengthAdjust="spacingAndGlyphs">Heater 64</text>
<circle cx="2576.6" cy="1382.6000000000001" r="2.8" fill="none" stroke="#131a60" stroke-width="1.4"/><text x="2581.5" y="1424.8000000000002" font-size="67.8" class="nv sf" textLength="24.5" lengthAdjust="spacingAndGlyphs">F</text>
<text x="2621" y="1430.0" font-size="68.3" class="nv" textLength="111.5" lengthAdjust="spacingAndGlyphs">~82</text>
<circle cx="2753.2" cy="1382.6000000000001" r="2.8" fill="none" stroke="#131a60" stroke-width="1.4"/><text x="2758.1" y="1424.8000000000002" font-size="67.8" class="nv sf" textLength="24.5" lengthAdjust="spacingAndGlyphs">F</text>
<text x="1542" y="2029.6" font-size="68.3" class="nv" textLength="398.0" lengthAdjust="spacingAndGlyphs">Power On/Off</text>
<text x="1543.6" y="2130.8" font-size="68.3" class="nv" textLength="1109.3" lengthAdjust="spacingAndGlyphs">Change flame color Brightness(L4-L1)</text>
<text x="1542" y="2234.6" font-size="68.3" class="nv" textLength="408.5" lengthAdjust="spacingAndGlyphs">Heater On/Off</text>
<text x="1544.7" y="2331.7" font-size="68.3" class="nv" textLength="471.5" lengthAdjust="spacingAndGlyphs">Timer 1-9 Hours</text>
<text x="1542" y="2414.0" font-size="68.3" class="nv" textLength="288.6" lengthAdjust="spacingAndGlyphs">Heater 64</text>
<circle cx="1851.6" cy="2366.6" r="2.8" fill="none" stroke="#131a60" stroke-width="1.4"/><text x="1856.5" y="2408.8" font-size="67.8" class="nv sf" textLength="24.5" lengthAdjust="spacingAndGlyphs">F</text>
<text x="1895" y="2414.0" font-size="68.3" class="nv" textLength="111.5" lengthAdjust="spacingAndGlyphs">~82</text>
<circle cx="2028.6" cy="2366.6" r="2.8" fill="none" stroke="#131a60" stroke-width="1.4"/><text x="2033.5" y="2408.8" font-size="67.8" class="nv sf" textLength="24.5" lengthAdjust="spacingAndGlyphs">F</text>
</svg>
</body></html>
